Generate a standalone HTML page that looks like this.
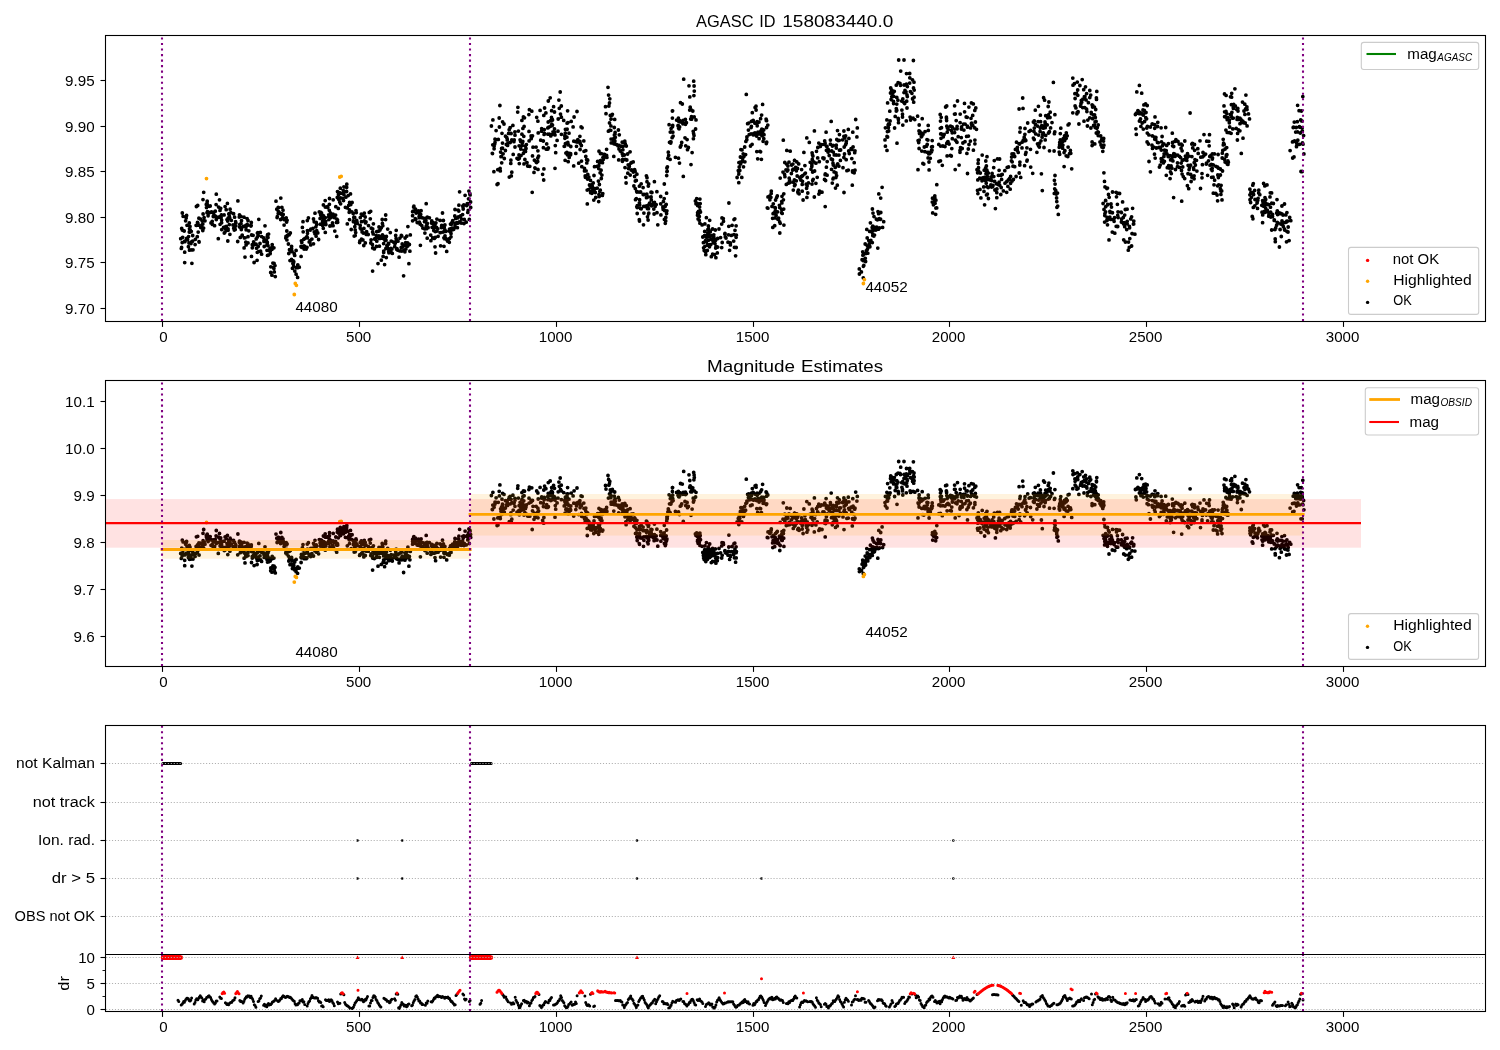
<!DOCTYPE html>
<html lang="en"><head><meta charset="utf-8"><title>AGASC ID 158083440.0</title>
<style>html,body{margin:0;padding:0;background:#fff;width:1500px;height:1050px;overflow:hidden}svg{display:block;will-change:transform}text{font-family:"Liberation Sans",sans-serif}</style></head>
<body>
<svg width="1500" height="1050" viewBox="0 0 1500 1050" font-family='"Liberation Sans", sans-serif' fill="#000">
<rect width="1500" height="1050" fill="#fff"/>
<g id="p1">
<path d="M180.7 238.7h0M181.3 248.4h0M181.6 247.5h0M181.7 228.5h0M182.2 242.6h0M182.3 213.0h0M182.3 230.1h0M182.7 237.3h0M183.1 216.3h0M184.2 231.0h0M184.7 252.2h0M184.7 262.6h0M184.7 241.1h0M184.9 241.7h0M185.6 220.8h0M186.2 217.9h0M186.6 215.5h0M186.6 238.3h0M187.0 225.3h0M187.6 239.7h0M188.4 246.7h0M188.6 236.6h0M189.0 242.9h0M189.3 222.9h0M189.3 232.0h0M189.5 250.2h0M189.5 228.8h0M189.7 250.0h0M190.0 226.4h0M190.1 232.1h0M190.2 230.0h0M191.0 243.6h0M191.1 249.9h0M191.3 231.3h0M191.5 241.8h0M191.9 263.3h0M192.6 241.2h0M192.7 235.5h0M193.0 249.8h0M195.1 244.6h0M195.4 239.3h0M196.1 225.3h0M196.4 206.5h0M196.6 225.3h0M197.3 236.7h0M197.5 222.4h0M197.7 205.5h0M197.9 223.1h0M198.2 232.1h0M198.7 225.2h0M198.9 218.2h0M199.0 241.6h0M199.1 242.0h0M200.3 218.9h0M200.8 227.6h0M202.1 220.8h0M202.1 224.8h0M202.8 230.6h0M202.8 223.9h0M203.0 199.6h0M203.1 214.0h0M203.6 228.1h0M203.7 192.3h0M204.0 217.8h0M204.1 217.6h0M205.0 220.8h0M206.3 204.4h0M206.5 207.5h0M207.0 212.7h0M207.1 203.0h0M207.2 201.2h0M207.2 204.3h0M207.5 211.7h0M208.1 215.8h0M208.8 212.3h0M208.8 213.2h0M209.2 206.3h0M210.2 206.0h0M211.0 222.9h0M211.1 212.2h0M211.5 212.0h0M212.2 221.3h0M212.2 224.0h0M212.4 224.4h0M213.3 216.6h0M213.4 212.4h0M213.5 215.5h0M213.8 214.5h0M214.6 225.7h0M214.7 215.6h0M215.3 211.2h0M215.9 216.4h0M216.1 204.6h0M216.3 219.5h0M216.3 194.2h0M217.1 217.8h0M218.3 238.7h0M218.6 207.1h0M219.3 217.0h0M219.5 199.8h0M220.0 210.4h0M220.1 224.3h0M220.7 208.3h0M221.1 217.8h0M221.4 215.0h0M221.5 214.9h0M221.6 220.1h0M221.6 222.8h0M221.7 229.6h0M223.6 227.3h0M224.1 214.9h0M224.3 233.1h0M225.0 232.0h0M225.1 206.6h0M225.2 226.9h0M225.4 228.4h0M226.1 230.2h0M226.2 226.4h0M226.2 209.7h0M227.0 219.6h0M227.4 203.4h0M227.7 221.0h0M227.8 241.0h0M228.1 228.9h0M228.1 230.3h0M228.1 218.1h0M228.8 213.9h0M229.1 213.7h0M229.3 224.6h0M229.4 216.3h0M229.8 218.1h0M229.9 234.3h0M230.1 209.2h0M230.9 212.7h0M231.4 220.3h0M233.0 225.1h0M233.1 224.9h0M233.6 213.7h0M233.7 228.3h0M234.2 225.6h0M234.3 230.1h0M234.6 217.2h0M234.6 229.3h0M235.2 229.5h0M235.6 221.7h0M235.8 225.9h0M235.9 222.9h0M237.7 241.5h0M237.9 200.9h0M239.3 217.0h0M239.5 214.8h0M239.7 227.0h0M239.8 224.4h0M240.2 227.1h0M240.3 237.4h0M240.9 216.4h0M241.0 223.6h0M241.3 229.5h0M241.5 220.7h0M242.2 235.5h0M242.2 235.1h0M243.5 226.5h0M244.0 217.2h0M244.1 247.9h0M244.4 237.9h0M245.0 237.8h0M245.0 257.1h0M245.8 242.2h0M245.8 225.5h0M245.9 227.2h0M246.1 244.9h0M246.1 229.8h0M247.1 218.6h0M247.1 224.7h0M247.2 224.5h0M247.9 225.2h0M248.0 242.9h0M248.0 236.7h0M248.0 220.5h0M248.8 230.8h0M251.0 226.1h0M251.2 225.4h0M251.3 222.4h0M251.5 256.4h0M251.6 235.0h0M252.3 244.7h0M252.3 247.8h0M253.1 235.3h0M253.3 244.9h0M253.4 245.0h0M253.6 241.9h0M254.1 262.5h0M256.1 244.2h0M256.2 238.9h0M256.6 248.2h0M257.1 260.3h0M257.3 252.3h0M257.4 237.0h0M257.4 233.1h0M257.8 232.6h0M258.2 235.6h0M258.2 246.6h0M258.6 251.6h0M258.8 219.3h0M260.0 243.5h0M260.3 232.4h0M260.6 251.2h0M261.6 254.2h0M261.6 236.6h0M263.7 237.9h0M264.0 240.4h0M264.0 241.4h0M264.2 246.5h0M265.0 225.8h0M265.5 240.0h0M266.3 240.5h0M267.0 244.9h0M267.0 250.3h0M267.2 243.3h0M267.3 236.4h0M267.3 242.2h0M267.5 255.4h0M267.6 234.7h0M268.0 245.7h0M268.0 237.5h0M268.4 255.1h0M268.6 234.1h0M269.9 248.9h0M270.2 251.5h0M270.2 253.6h0M270.7 272.5h0M270.8 266.8h0M271.2 247.8h0M271.9 275.2h0M272.0 249.3h0M272.2 244.7h0M272.2 247.7h0M272.9 263.1h0M273.4 267.5h0M273.9 247.8h0M273.9 268.5h0M274.1 263.4h0M274.3 271.9h0M275.0 265.6h0M275.3 276.6h0M276.0 201.2h0M276.8 209.2h0M277.1 217.6h0M277.3 216.7h0M278.2 213.6h0M278.2 207.4h0M278.3 211.3h0M278.6 207.6h0M279.0 212.1h0M280.5 213.7h0M280.6 219.5h0M280.8 198.1h0M281.6 213.7h0M281.7 214.4h0M281.9 207.3h0M282.7 217.6h0M283.0 210.2h0M283.2 214.4h0M283.8 219.0h0M284.0 219.6h0M284.1 225.1h0M285.8 237.9h0M286.0 236.3h0M286.2 217.8h0M286.5 221.8h0M286.6 222.0h0M286.8 231.0h0M286.9 239.9h0M287.1 236.3h0M287.1 220.3h0M287.4 235.3h0M288.4 244.0h0M288.6 234.6h0M288.8 253.5h0M289.2 234.8h0M289.5 249.7h0M290.0 260.6h0M290.3 233.0h0M291.4 251.5h0M291.5 259.4h0M291.6 246.5h0M291.6 248.8h0M292.0 251.4h0M292.4 268.3h0M292.5 260.6h0M292.9 263.6h0M293.1 260.7h0M293.2 262.6h0M293.4 263.2h0M293.6 266.2h0M293.8 261.7h0M294.2 253.7h0M294.7 255.4h0M294.8 271.1h0M296.1 274.2h0M296.1 267.6h0M296.1 250.4h0M297.6 277.4h0M297.7 267.7h0M297.8 264.8h0M299.3 267.2h0M301.0 246.4h0M301.1 256.4h0M301.4 240.8h0M301.4 247.2h0M301.7 247.3h0M301.8 242.4h0M302.4 227.4h0M302.9 246.7h0M303.0 221.7h0M303.2 231.8h0M303.7 239.3h0M304.0 245.8h0M304.1 249.1h0M304.4 248.5h0M304.7 246.3h0M304.9 238.5h0M306.2 249.1h0M306.9 236.6h0M307.0 247.3h0M307.3 220.6h0M307.4 230.6h0M307.5 233.3h0M307.5 237.8h0M308.4 217.9h0M309.2 241.9h0M309.9 242.3h0M310.0 240.7h0M310.3 230.1h0M310.7 244.9h0M310.8 229.2h0M311.9 239.1h0M313.0 228.3h0M313.5 219.0h0M313.5 243.8h0M314.2 221.8h0M314.3 231.9h0M314.9 233.7h0M315.0 213.2h0M315.9 226.8h0M316.1 236.2h0M316.2 222.3h0M316.7 230.7h0M316.7 224.5h0M317.8 232.9h0M318.6 239.5h0M319.3 211.9h0M320.1 218.4h0M320.4 224.2h0M320.6 214.7h0M321.0 212.4h0M321.1 216.7h0M321.5 217.0h0M321.6 213.3h0M322.6 221.2h0M322.7 225.4h0M323.2 224.4h0M323.3 223.6h0M323.3 228.3h0M323.4 204.9h0M323.6 216.0h0M323.8 218.7h0M323.8 221.7h0M325.2 200.6h0M325.3 232.4h0M325.3 207.1h0M325.3 217.6h0M325.7 221.5h0M325.9 224.5h0M327.4 206.7h0M327.8 207.5h0M328.7 214.8h0M328.8 216.7h0M328.9 219.6h0M329.3 210.3h0M329.4 204.3h0M329.5 198.5h0M329.9 226.0h0M330.4 213.0h0M331.1 217.5h0M331.2 216.1h0M331.3 215.1h0M332.1 225.5h0M332.5 223.0h0M333.0 214.1h0M333.1 225.7h0M333.2 199.8h0M333.8 215.8h0M334.6 217.7h0M334.8 231.1h0M335.6 215.1h0M335.8 206.7h0M336.5 222.4h0M336.7 236.4h0M336.8 219.1h0M337.3 220.6h0M337.5 219.8h0M337.7 222.3h0M337.3 197.4h0M337.5 191.6h0M338.3 208.4h0M338.5 199.0h0M338.5 194.5h0M338.5 192.9h0M339.0 199.4h0M339.5 192.6h0M339.7 197.9h0M339.7 202.0h0M340.3 188.2h0M340.5 193.4h0M340.5 197.8h0M340.6 203.8h0M342.7 198.3h0M343.3 190.7h0M343.5 200.5h0M343.6 191.0h0M343.7 191.9h0M343.9 194.5h0M343.9 186.8h0M345.4 207.3h0M345.9 197.2h0M346.6 191.5h0M346.7 187.3h0M346.8 184.2h0M347.3 223.9h0M347.3 207.9h0M348.2 195.6h0M348.7 205.3h0M349.2 212.3h0M349.3 212.2h0M349.4 209.8h0M349.5 219.6h0M349.6 202.4h0M350.5 193.9h0M350.8 204.6h0M351.1 202.9h0M351.2 229.5h0M351.9 211.8h0M352.1 202.4h0M353.2 213.5h0M353.4 221.7h0M353.4 220.9h0M353.8 217.5h0M353.9 217.3h0M354.2 236.1h0M354.7 217.3h0M354.8 226.7h0M355.2 235.6h0M355.2 229.9h0M355.6 223.6h0M355.7 232.6h0M356.0 210.6h0M356.3 212.6h0M356.7 220.4h0M357.0 222.1h0M357.3 223.4h0M359.6 242.6h0M359.9 241.0h0M360.2 225.5h0M360.2 228.1h0M360.3 217.6h0M361.0 229.1h0M361.3 214.2h0M361.5 239.2h0M361.5 221.7h0M362.1 231.9h0M362.6 215.2h0M362.9 239.9h0M363.3 233.0h0M363.8 245.5h0M363.9 228.4h0M364.3 213.2h0M364.4 220.9h0M365.2 217.0h0M365.3 242.9h0M365.5 222.9h0M366.0 222.0h0M366.3 234.4h0M366.6 231.6h0M368.2 234.5h0M368.5 225.6h0M369.3 212.4h0M370.3 218.8h0M370.7 211.3h0M370.8 243.0h0M371.1 239.8h0M371.3 228.2h0M372.4 244.5h0M372.6 271.1h0M372.6 232.1h0M372.7 247.9h0M372.7 228.9h0M373.2 233.9h0M373.4 223.8h0M374.3 248.9h0M374.6 239.0h0M376.2 238.1h0M376.3 235.6h0M376.4 246.5h0M376.7 231.7h0M376.8 241.2h0M378.0 263.6h0M378.8 236.0h0M378.9 231.0h0M379.0 227.0h0M379.4 246.2h0M379.4 238.4h0M380.0 230.0h0M380.3 229.3h0M380.4 238.3h0M381.3 227.7h0M381.3 260.2h0M381.6 236.3h0M381.7 236.5h0M382.0 237.4h0M382.2 219.5h0M382.4 223.4h0M382.5 234.8h0M382.6 238.3h0M382.8 225.7h0M383.1 256.4h0M383.6 243.6h0M383.7 252.4h0M383.7 251.1h0M383.8 236.5h0M384.6 264.6h0M385.0 240.5h0M385.6 219.6h0M385.7 215.0h0M385.7 239.4h0M385.9 248.5h0M386.0 240.2h0M386.3 257.6h0M386.4 236.4h0M386.9 245.6h0M387.4 247.5h0M387.7 229.1h0M388.3 243.3h0M388.7 244.0h0M388.7 251.6h0M388.9 252.8h0M389.0 250.5h0M390.3 232.6h0M390.9 248.4h0M391.0 251.9h0M391.2 241.1h0M391.4 248.6h0M391.9 249.0h0M392.3 253.4h0M393.7 242.2h0M394.7 246.6h0M395.0 243.8h0M395.5 242.5h0M395.7 235.5h0M396.1 238.5h0M396.2 230.3h0M396.5 240.0h0M396.6 249.2h0M397.0 248.6h0M397.6 250.1h0M398.0 241.2h0M399.1 257.2h0M399.9 238.1h0M399.9 250.9h0M401.2 247.5h0M401.3 235.5h0M401.7 236.0h0M401.8 251.1h0M402.2 243.9h0M402.7 246.4h0M403.6 275.8h0M404.1 249.9h0M404.7 245.4h0M404.9 251.8h0M405.1 238.0h0M405.7 242.6h0M405.9 249.1h0M406.7 236.2h0M407.1 244.5h0M407.6 243.0h0M407.7 246.1h0M407.9 226.6h0M408.9 263.7h0M409.4 244.5h0M409.9 251.2h0M410.3 234.9h0M412.6 215.7h0M412.6 220.8h0M412.6 211.7h0M413.2 211.2h0M413.6 207.1h0M413.9 206.2h0M415.3 218.7h0M415.5 209.1h0M415.8 219.6h0M416.1 213.1h0M416.7 212.3h0M417.2 222.6h0M418.2 222.7h0M418.5 210.8h0M419.1 216.6h0M419.2 217.7h0M419.4 222.2h0M419.4 213.2h0M419.5 215.3h0M419.9 217.6h0M420.2 224.2h0M420.2 223.9h0M420.4 245.3h0M420.7 214.5h0M421.1 210.7h0M421.4 217.5h0M421.8 225.6h0M422.8 228.1h0M423.4 218.1h0M424.5 221.7h0M424.9 228.9h0M424.9 233.1h0M425.9 220.5h0M426.2 226.2h0M426.2 203.7h0M426.5 217.8h0M426.6 228.7h0M426.9 225.4h0M426.9 224.1h0M427.2 238.2h0M427.3 223.5h0M427.3 217.2h0M427.9 227.6h0M428.1 227.7h0M429.4 217.8h0M430.7 235.1h0M430.9 240.7h0M431.5 223.0h0M431.8 221.0h0M432.1 227.3h0M432.7 237.9h0M433.4 224.1h0M433.7 223.0h0M433.7 224.0h0M433.8 230.6h0M433.8 230.4h0M434.0 227.5h0M434.3 238.4h0M435.0 246.8h0M435.0 224.8h0M435.2 237.5h0M435.3 231.6h0M435.6 253.0h0M435.9 222.8h0M436.5 227.3h0M436.9 231.0h0M436.9 219.1h0M437.7 228.9h0M438.1 236.3h0M440.1 220.4h0M440.2 232.7h0M440.6 245.8h0M441.4 227.6h0M441.7 225.4h0M442.5 213.0h0M442.9 232.1h0M443.4 220.5h0M443.9 237.8h0M444.0 246.3h0M444.1 237.9h0M444.2 227.4h0M444.4 238.7h0M444.8 230.2h0M444.9 225.0h0M445.0 230.0h0M445.0 235.8h0M445.7 231.4h0M445.9 238.4h0M446.7 251.4h0M446.8 239.5h0M447.5 241.0h0M449.1 230.9h0M449.3 242.3h0M449.3 231.2h0M449.5 238.6h0M449.5 229.1h0M450.5 224.1h0M450.7 231.0h0M451.0 233.4h0M451.0 236.8h0M451.1 228.6h0M451.2 224.4h0M451.6 222.9h0M452.4 228.2h0M452.7 220.6h0M452.8 221.9h0M453.1 229.6h0M453.7 229.3h0M454.3 228.0h0M454.8 216.0h0M455.0 209.5h0M455.0 225.1h0M455.3 223.4h0M455.7 218.4h0M456.7 222.6h0M457.4 227.7h0M457.6 217.9h0M457.8 223.2h0M458.2 210.2h0M458.4 216.9h0M458.8 211.0h0M458.9 205.2h0M459.3 221.9h0M459.6 191.8h0M460.6 216.0h0M461.2 223.0h0M461.6 219.1h0M462.6 214.6h0M462.8 205.9h0M463.0 207.0h0M463.2 209.0h0M463.8 204.8h0M464.0 223.5h0M464.3 219.4h0M465.1 195.3h0M466.2 222.2h0M466.7 205.6h0M467.0 205.1h0M467.3 203.6h0M467.8 212.4h0M468.2 210.3h0M468.5 198.8h0M468.6 203.9h0M468.9 191.1h0M469.3 219.4h0M469.8 194.0h0M469.9 193.6h0M470.1 194.9h0M470.6 202.0h0M470.7 207.5h0M491.4 126.0h0M492.3 153.3h0M492.5 153.6h0M492.8 144.8h0M492.9 119.9h0M493.9 171.7h0M494.1 146.2h0M494.1 148.8h0M494.7 144.0h0M495.0 139.2h0M495.0 142.4h0M496.1 130.6h0M496.1 139.6h0M497.1 184.5h0M497.8 169.7h0M498.0 183.7h0M498.3 139.4h0M499.2 118.0h0M499.4 127.0h0M499.9 105.5h0M500.1 168.5h0M500.3 170.9h0M500.6 152.1h0M501.0 156.7h0M501.4 156.6h0M501.6 148.5h0M501.7 162.8h0M502.0 133.3h0M502.5 143.1h0M502.5 148.1h0M502.6 121.8h0M503.1 153.8h0M504.0 124.0h0M504.3 158.5h0M505.4 150.5h0M505.5 136.2h0M506.3 144.5h0M506.7 137.4h0M507.2 138.9h0M507.2 140.0h0M507.6 145.4h0M507.6 143.7h0M508.6 133.4h0M509.2 129.7h0M509.3 177.1h0M510.1 127.7h0M510.2 142.5h0M510.8 163.4h0M510.9 160.2h0M511.1 133.5h0M511.3 175.9h0M511.8 172.2h0M511.8 139.8h0M512.9 125.4h0M513.2 154.4h0M513.9 141.7h0M514.2 140.0h0M514.9 131.9h0M515.0 135.2h0M515.0 147.0h0M517.0 158.3h0M517.7 112.1h0M517.9 107.3h0M518.2 159.2h0M518.4 131.1h0M519.0 154.9h0M519.1 145.8h0M519.3 163.6h0M519.3 158.3h0M520.1 139.8h0M520.7 141.6h0M520.8 149.0h0M521.0 155.6h0M521.9 134.2h0M521.9 120.4h0M522.1 145.5h0M522.4 143.2h0M522.8 141.5h0M522.9 128.4h0M523.4 153.3h0M523.4 117.0h0M523.8 136.3h0M524.0 163.9h0M524.1 126.5h0M524.1 150.3h0M524.2 150.8h0M524.5 150.5h0M524.5 117.8h0M524.9 159.5h0M525.4 146.0h0M525.5 151.4h0M526.0 148.5h0M526.4 144.6h0M527.0 162.6h0M527.7 166.0h0M528.9 114.6h0M529.0 131.4h0M529.1 140.9h0M529.4 109.7h0M529.8 166.3h0M531.1 135.9h0M531.2 138.7h0M531.4 137.5h0M531.8 111.2h0M532.2 192.3h0M532.5 135.8h0M532.5 155.9h0M533.0 147.2h0M534.0 172.4h0M534.4 160.2h0M534.9 167.8h0M535.2 168.3h0M536.0 161.8h0M536.1 147.1h0M536.6 162.6h0M536.7 117.3h0M537.7 161.5h0M537.8 158.0h0M537.9 150.8h0M537.9 121.2h0M538.0 169.4h0M538.2 132.9h0M538.6 156.1h0M540.1 110.4h0M540.7 140.2h0M541.5 131.2h0M541.7 128.6h0M541.8 130.6h0M542.6 174.3h0M543.3 141.0h0M543.4 147.7h0M543.7 180.0h0M543.8 115.4h0M543.9 168.9h0M544.1 134.4h0M544.3 129.6h0M544.4 133.5h0M544.6 108.0h0M545.9 112.9h0M546.3 149.2h0M546.7 143.9h0M547.8 127.9h0M547.9 149.0h0M547.9 134.2h0M548.2 122.0h0M548.3 101.0h0M548.4 147.9h0M548.8 127.2h0M549.3 134.1h0M550.2 97.8h0M550.5 120.6h0M550.8 135.9h0M550.9 126.1h0M551.5 117.5h0M551.6 110.7h0M551.7 134.6h0M551.8 124.2h0M552.0 124.8h0M552.1 125.7h0M552.3 119.3h0M552.5 125.1h0M552.5 120.0h0M553.0 131.8h0M553.6 106.7h0M554.5 112.0h0M554.5 132.4h0M554.5 128.9h0M555.0 134.9h0M555.0 168.3h0M555.3 145.6h0M555.7 152.7h0M557.1 140.4h0M558.0 131.2h0M558.2 119.0h0M558.9 100.1h0M559.3 108.3h0M560.2 92.0h0M560.5 114.1h0M561.3 106.0h0M561.4 117.2h0M561.4 134.3h0M563.7 120.4h0M564.2 146.3h0M564.6 146.2h0M564.8 135.9h0M564.9 138.3h0M564.9 135.7h0M565.1 160.3h0M565.3 133.1h0M565.4 129.3h0M565.4 143.6h0M565.9 153.1h0M566.4 143.3h0M566.9 137.2h0M566.9 152.3h0M567.1 129.3h0M567.1 129.1h0M567.1 123.2h0M567.4 154.8h0M567.6 110.8h0M567.8 122.7h0M567.8 142.5h0M568.2 144.6h0M568.2 161.7h0M568.5 144.9h0M569.0 133.2h0M569.2 157.4h0M569.3 153.3h0M570.6 154.8h0M570.6 153.6h0M570.8 146.5h0M571.2 121.4h0M573.1 126.9h0M573.7 165.9h0M573.8 141.2h0M574.1 117.0h0M575.8 141.7h0M575.8 153.4h0M576.5 146.3h0M576.6 141.4h0M577.0 111.5h0M577.1 142.1h0M577.8 139.7h0M578.7 163.2h0M579.8 142.0h0M579.9 141.3h0M579.9 136.3h0M580.1 149.5h0M580.3 143.5h0M581.1 126.9h0M581.4 145.5h0M581.5 161.1h0M581.8 166.7h0M582.1 127.8h0M583.8 140.9h0M584.0 151.3h0M584.5 168.4h0M584.5 170.9h0M585.2 175.9h0M585.4 177.3h0M585.8 156.4h0M585.8 150.6h0M586.1 170.8h0M586.6 159.6h0M586.8 162.9h0M587.2 159.6h0M587.7 160.2h0M587.2 190.1h0M587.3 203.9h0M587.6 179.0h0M587.8 174.4h0M588.4 189.7h0M588.9 177.1h0M589.5 185.0h0M590.2 186.0h0M590.5 180.3h0M590.6 192.7h0M590.9 191.6h0M591.1 187.7h0M591.6 191.3h0M591.9 193.3h0M592.2 184.2h0M592.2 191.2h0M592.3 187.6h0M592.4 186.5h0M593.2 182.9h0M593.8 200.1h0M593.8 189.1h0M594.0 175.5h0M594.0 190.4h0M594.5 166.7h0M595.0 188.6h0M595.3 192.5h0M595.7 197.5h0M597.2 188.1h0M598.4 181.1h0M598.7 201.6h0M598.9 194.6h0M599.2 196.6h0M599.4 184.5h0M599.8 191.4h0M600.1 172.8h0M600.3 190.2h0M601.1 170.2h0M601.3 178.5h0M601.9 175.1h0M602.4 195.4h0M602.8 193.6h0M597.0 166.3h0M597.6 161.4h0M598.7 168.5h0M598.7 165.8h0M598.8 165.7h0M599.0 161.5h0M599.0 151.2h0M599.5 162.7h0M600.0 162.5h0M600.3 160.7h0M600.4 153.6h0M600.5 160.7h0M600.8 161.0h0M601.3 153.6h0M602.5 162.7h0M602.9 157.6h0M603.2 158.1h0M603.4 159.3h0M603.8 154.5h0M604.5 154.3h0M605.6 155.8h0M605.8 156.9h0M606.4 156.7h0M606.6 149.3h0M606.6 155.5h0M606.9 157.4h0M605.5 106.7h0M606.0 113.7h0M608.0 87.3h0M608.4 131.2h0M608.6 95.1h0M608.9 106.0h0M609.5 122.9h0M609.5 103.0h0M609.8 98.8h0M610.1 130.1h0M610.3 115.4h0M610.8 130.3h0M610.9 125.9h0M611.0 119.2h0M611.1 139.1h0M611.1 118.9h0M611.2 142.9h0M611.9 115.2h0M612.4 114.3h0M613.2 139.0h0M613.8 140.7h0M613.8 156.4h0M614.0 143.8h0M614.0 138.3h0M614.3 127.5h0M614.4 134.9h0M614.7 119.4h0M614.9 141.0h0M615.0 134.2h0M615.1 132.5h0M615.3 137.3h0M616.2 144.4h0M617.9 145.7h0M618.4 130.0h0M618.7 159.9h0M618.9 145.3h0M619.0 148.9h0M619.0 145.3h0M619.3 134.8h0M620.3 151.1h0M621.6 146.2h0M622.2 142.2h0M622.3 153.7h0M622.4 161.3h0M622.5 159.7h0M622.8 155.5h0M622.9 146.4h0M622.9 149.8h0M624.3 155.0h0M624.8 141.2h0M625.0 167.6h0M625.1 159.5h0M625.2 143.7h0M625.8 177.3h0M626.1 183.0h0M626.3 146.0h0M626.8 160.0h0M627.6 154.0h0M627.8 173.2h0M628.2 164.8h0M628.5 168.6h0M629.2 165.4h0M629.3 166.5h0M630.1 151.8h0M630.2 175.1h0M631.0 163.0h0M631.2 170.1h0M631.6 169.9h0M631.8 162.3h0M633.2 161.9h0M633.3 172.1h0M633.9 186.0h0M634.6 169.6h0M634.6 170.2h0M634.6 176.5h0M635.1 171.2h0M635.3 188.6h0M635.3 181.0h0M635.5 199.7h0M636.3 180.4h0M636.3 198.6h0M636.9 174.2h0M636.7 191.5h0M636.8 206.8h0M636.9 192.0h0M637.2 207.6h0M637.2 213.5h0M637.3 205.7h0M639.1 192.1h0M639.3 219.7h0M639.4 202.8h0M639.4 186.2h0M639.5 221.1h0M639.6 199.7h0M639.7 204.9h0M640.5 208.5h0M640.6 192.0h0M641.2 208.8h0M641.2 183.8h0M643.1 187.6h0M643.2 194.5h0M643.5 224.8h0M643.7 206.4h0M643.9 213.1h0M644.2 194.5h0M645.3 206.4h0M646.4 175.8h0M646.5 197.7h0M646.5 205.8h0M646.8 194.1h0M647.0 177.7h0M647.0 181.7h0M647.4 208.5h0M647.5 216.8h0M648.0 196.9h0M648.1 220.0h0M648.3 186.1h0M648.5 208.7h0M648.6 205.0h0M648.6 213.8h0M648.7 183.9h0M648.8 213.2h0M649.6 203.1h0M651.0 192.2h0M651.1 197.0h0M651.3 199.9h0M651.5 205.8h0M651.6 192.5h0M651.9 192.5h0M652.7 203.9h0M653.6 202.8h0M653.8 209.1h0M654.1 214.0h0M654.4 181.7h0M654.5 202.4h0M655.1 206.4h0M656.2 204.6h0M656.9 191.7h0M657.0 212.7h0M657.8 224.8h0M660.7 203.8h0M660.7 196.5h0M660.9 214.9h0M662.9 206.9h0M663.0 208.1h0M663.2 209.4h0M663.4 201.4h0M664.2 206.9h0M664.2 198.6h0M664.3 184.0h0M664.4 219.4h0M664.6 210.6h0M665.1 206.6h0M665.3 223.3h0M665.3 205.7h0M665.7 220.9h0M665.8 217.4h0M666.2 204.5h0M666.6 193.2h0M666.6 213.6h0M666.9 210.8h0M666.7 175.6h0M666.9 171.6h0M666.9 168.0h0M667.2 171.3h0M667.4 166.8h0M667.9 158.2h0M668.3 152.2h0M668.7 155.3h0M669.1 124.7h0M669.5 142.3h0M670.1 159.4h0M670.2 141.9h0M670.3 132.1h0M670.7 143.0h0M671.0 142.0h0M671.1 128.6h0M672.1 137.7h0M672.4 118.1h0M672.4 111.0h0M672.5 126.7h0M672.6 110.8h0M672.7 125.5h0M672.8 132.2h0M673.1 136.1h0M675.4 157.3h0M676.6 120.1h0M678.0 125.7h0M678.2 125.5h0M678.4 118.2h0M678.5 158.2h0M678.6 121.2h0M678.6 128.2h0M679.1 128.8h0M679.5 163.1h0M679.6 126.9h0M679.8 120.7h0M680.3 147.0h0M680.3 121.9h0M680.5 102.7h0M681.1 145.3h0M681.7 142.4h0M682.3 104.0h0M682.9 123.8h0M683.2 120.3h0M683.2 123.5h0M683.3 176.4h0M683.7 79.2h0M685.0 137.8h0M685.4 119.5h0M685.5 124.3h0M685.7 145.8h0M686.4 122.7h0M687.1 139.6h0M687.5 149.7h0M688.4 147.5h0M689.0 85.8h0M689.7 110.1h0M689.8 96.9h0M690.2 107.2h0M690.7 119.0h0M691.0 164.6h0M691.2 109.8h0M691.5 116.6h0M691.6 119.2h0M692.1 152.6h0M692.8 111.0h0M693.2 131.3h0M693.4 138.7h0M693.6 133.6h0M693.7 81.2h0M693.9 95.6h0M694.0 135.4h0M694.1 86.0h0M694.2 116.9h0M694.3 91.1h0M695.6 129.0h0M696.0 119.9h0M695.4 200.9h0M696.0 203.8h0M696.7 198.6h0M697.2 203.4h0M697.5 215.2h0M697.6 212.7h0M697.6 205.6h0M698.1 219.0h0M698.5 211.3h0M698.9 213.0h0M699.2 220.2h0M699.3 216.4h0M699.5 211.6h0M699.6 207.1h0M699.9 223.2h0M699.9 199.1h0M699.9 210.7h0M700.2 203.6h0M700.5 212.1h0M702.1 224.9h0M702.8 237.0h0M703.4 242.7h0M703.6 247.8h0M704.2 250.5h0M704.5 235.7h0M704.7 246.6h0M704.7 231.4h0M704.9 223.9h0M705.5 240.7h0M705.6 252.2h0M705.8 254.7h0M706.3 237.2h0M706.4 217.7h0M706.5 241.7h0M706.8 235.4h0M707.2 245.2h0M707.3 250.4h0M707.7 232.6h0M707.9 229.4h0M707.9 233.1h0M708.3 229.7h0M708.4 226.0h0M708.5 240.2h0M708.5 229.0h0M708.6 234.3h0M708.7 233.7h0M709.1 230.4h0M709.2 244.6h0M709.3 232.0h0M709.5 236.5h0M709.5 246.8h0M709.6 235.7h0M709.7 220.3h0M710.1 231.8h0M710.3 231.8h0M710.8 244.6h0M711.3 256.7h0M711.6 239.5h0M711.7 235.6h0M712.6 254.2h0M712.6 229.0h0M712.9 240.6h0M713.2 242.6h0M713.7 236.4h0M713.8 234.8h0M714.4 239.1h0M714.5 254.7h0M715.0 243.6h0M715.3 230.0h0M715.6 240.3h0M715.7 248.1h0M715.9 257.7h0M716.0 246.3h0M716.2 239.1h0M717.3 252.9h0M717.7 247.1h0M717.7 238.5h0M719.0 229.0h0M720.6 237.6h0M721.7 247.6h0M721.7 224.1h0M722.0 217.9h0M722.2 242.5h0M723.3 218.6h0M723.5 221.3h0M724.8 233.9h0M725.0 233.5h0M725.3 236.9h0M726.0 238.1h0M728.0 242.2h0M728.5 234.8h0M728.8 226.3h0M728.9 203.0h0M729.6 250.3h0M730.4 244.9h0M730.4 243.0h0M731.3 235.4h0M732.1 225.3h0M733.7 241.1h0M733.9 234.6h0M734.0 219.6h0M734.4 247.3h0M734.8 218.8h0M735.0 230.3h0M735.6 255.8h0M736.1 225.8h0M736.1 237.3h0M736.2 247.5h0M736.4 235.2h0M737.1 177.5h0M738.3 170.6h0M738.7 171.6h0M738.8 182.7h0M738.8 174.1h0M738.9 162.6h0M739.2 166.9h0M739.8 170.5h0M740.4 157.0h0M740.4 162.2h0M740.6 163.9h0M740.9 149.6h0M741.8 177.4h0M742.0 149.9h0M742.4 161.5h0M742.7 158.6h0M743.2 153.8h0M743.5 166.8h0M743.9 156.6h0M744.7 147.0h0M744.9 161.8h0M745.6 154.6h0M745.9 141.4h0M746.3 94.4h0M746.8 139.7h0M746.9 137.0h0M747.6 123.7h0M748.4 130.1h0M748.6 123.1h0M749.2 134.6h0M750.5 146.0h0M751.1 133.8h0M751.1 127.5h0M751.4 121.4h0M751.4 126.5h0M752.0 121.3h0M752.1 144.3h0M752.3 112.7h0M753.2 120.3h0M753.4 134.9h0M753.7 134.8h0M753.9 133.5h0M754.9 123.2h0M755.0 133.0h0M755.1 107.5h0M756.0 106.2h0M756.1 110.0h0M756.6 136.1h0M756.8 151.6h0M757.0 123.5h0M757.1 121.6h0M757.2 125.8h0M757.7 158.8h0M757.9 133.9h0M758.0 132.2h0M759.0 122.1h0M759.1 138.7h0M760.0 151.4h0M760.6 134.2h0M760.6 118.7h0M760.6 151.8h0M760.9 131.0h0M761.4 159.3h0M761.6 115.1h0M761.8 129.2h0M761.9 135.7h0M762.6 104.4h0M762.8 133.2h0M763.1 141.3h0M763.7 129.9h0M763.8 138.7h0M764.0 134.7h0M766.1 119.1h0M766.3 143.5h0M766.3 120.5h0M766.6 127.5h0M766.6 120.7h0M766.7 142.2h0M767.8 125.1h0M767.3 207.8h0M767.9 208.2h0M768.0 196.9h0M769.9 196.0h0M769.9 199.8h0M770.9 197.3h0M771.2 193.4h0M771.3 191.1h0M772.0 206.4h0M772.6 218.3h0M772.8 227.4h0M773.1 213.7h0M773.3 203.8h0M774.2 212.7h0M774.7 225.7h0M775.1 207.7h0M775.1 217.9h0M775.3 210.9h0M775.3 207.9h0M775.6 200.0h0M776.1 215.2h0M776.6 197.6h0M777.3 196.0h0M777.6 211.8h0M777.9 219.3h0M778.5 219.1h0M778.6 218.2h0M779.4 205.3h0M779.7 207.5h0M779.7 222.0h0M779.8 233.0h0M780.2 178.1h0M780.2 223.3h0M781.6 212.7h0M781.7 209.5h0M781.7 201.6h0M781.9 202.9h0M782.0 196.3h0M782.2 213.4h0M783.4 199.8h0M783.7 209.1h0M783.8 193.8h0M783.9 225.1h0M783.0 172.1h0M783.3 140.2h0M784.6 174.4h0M784.8 162.5h0M784.9 176.7h0M786.0 169.8h0M786.3 184.4h0M786.6 164.1h0M786.8 150.4h0M787.1 171.0h0M787.9 166.0h0M787.9 170.0h0M788.3 183.2h0M789.0 162.1h0M789.2 178.2h0M789.6 180.5h0M789.9 182.5h0M790.2 151.2h0M791.4 173.5h0M791.6 165.0h0M792.6 170.0h0M792.9 164.1h0M793.2 169.2h0M793.2 182.2h0M793.3 190.1h0M794.4 180.0h0M794.5 160.4h0M794.5 185.7h0M794.6 160.4h0M794.7 169.2h0M795.1 184.7h0M795.7 167.3h0M796.3 180.8h0M796.4 170.8h0M796.8 161.9h0M797.2 176.0h0M797.5 168.4h0M797.8 192.0h0M798.1 192.9h0M798.4 190.2h0M798.7 163.9h0M799.1 193.8h0M799.9 177.9h0M800.8 180.1h0M800.8 177.0h0M801.6 169.6h0M801.6 176.5h0M802.2 184.4h0M802.2 191.2h0M802.5 181.3h0M802.6 175.7h0M803.1 200.0h0M803.9 152.4h0M804.7 173.8h0M804.9 165.6h0M805.4 173.1h0M806.2 184.2h0M806.6 188.3h0M806.8 137.9h0M806.9 197.4h0M807.1 186.1h0M807.1 185.8h0M807.2 177.5h0M807.8 193.0h0M808.5 182.9h0M809.3 142.4h0M810.2 162.3h0M811.0 169.2h0M811.8 166.6h0M811.9 165.0h0M812.0 184.1h0M812.1 152.8h0M812.3 159.3h0M812.4 154.8h0M812.6 172.1h0M812.7 180.5h0M812.9 156.0h0M813.2 179.3h0M813.8 161.9h0M814.3 197.0h0M814.4 130.9h0M814.6 171.0h0M815.9 183.3h0M815.9 163.2h0M816.5 151.3h0M817.2 177.3h0M817.7 157.9h0M817.8 147.5h0M818.8 143.1h0M818.9 194.0h0M819.3 161.7h0M819.6 191.2h0M820.3 146.4h0M821.6 144.6h0M822.0 192.2h0M822.9 158.0h0M823.9 158.8h0M824.0 158.1h0M824.0 144.3h0M824.5 179.4h0M824.7 140.9h0M825.1 174.7h0M825.1 143.2h0M825.2 206.6h0M825.3 173.9h0M825.6 180.5h0M826.1 132.2h0M826.4 167.2h0M826.4 150.3h0M826.5 146.2h0M827.0 146.5h0M827.1 175.2h0M827.2 161.6h0M828.0 152.1h0M828.2 150.2h0M828.2 149.5h0M828.7 151.2h0M829.2 155.5h0M830.4 140.1h0M830.4 144.2h0M831.2 121.4h0M831.2 159.0h0M831.5 169.3h0M831.7 151.0h0M832.3 183.1h0M832.4 146.1h0M832.5 159.7h0M833.0 178.9h0M833.0 163.2h0M833.1 145.4h0M833.3 165.1h0M833.3 152.1h0M833.4 178.1h0M834.1 171.9h0M834.3 154.9h0M835.2 167.4h0M835.5 188.1h0M835.9 177.6h0M836.0 173.0h0M836.2 155.0h0M836.3 148.1h0M836.3 145.2h0M836.6 175.6h0M836.8 139.5h0M837.2 164.8h0M837.3 185.2h0M837.5 130.6h0M837.7 163.8h0M838.1 140.6h0M838.9 155.1h0M838.9 166.2h0M839.1 140.4h0M839.4 134.6h0M839.5 150.2h0M840.4 160.4h0M840.6 150.0h0M842.6 139.8h0M843.0 167.7h0M843.9 136.5h0M843.9 131.0h0M843.9 157.5h0M844.0 192.5h0M844.2 147.0h0M844.5 154.0h0M844.8 137.9h0M845.6 144.7h0M845.6 135.8h0M846.2 159.7h0M846.2 143.3h0M846.3 141.4h0M846.9 170.7h0M848.3 129.4h0M848.3 170.1h0M848.7 151.0h0M848.9 138.4h0M849.3 153.5h0M851.1 148.7h0M851.8 158.6h0M851.8 149.4h0M852.3 185.2h0M852.5 171.0h0M852.6 172.1h0M852.8 132.2h0M853.1 146.9h0M854.2 172.8h0M854.2 162.7h0M854.7 152.7h0M855.0 150.8h0M855.0 170.2h0M855.7 119.5h0M856.9 136.9h0M857.3 127.9h0M859.3 268.9h0M859.4 274.0h0M861.4 271.9h0M862.1 259.7h0M862.7 251.8h0M862.9 255.2h0M863.0 260.5h0M863.1 255.2h0M863.3 277.8h0M863.3 254.7h0M863.4 266.3h0M863.8 265.4h0M863.8 259.5h0M865.2 244.0h0M865.3 258.3h0M865.6 261.5h0M865.9 253.5h0M866.4 250.6h0M866.8 229.4h0M867.2 237.9h0M867.4 245.9h0M867.4 249.3h0M867.8 253.2h0M868.8 240.6h0M869.2 243.9h0M869.7 231.4h0M869.8 246.4h0M869.9 246.8h0M870.2 242.4h0M870.4 222.8h0M870.9 240.5h0M872.2 227.4h0M872.3 230.4h0M872.3 242.6h0M872.4 209.0h0M872.7 233.4h0M872.8 235.5h0M872.8 226.1h0M872.8 230.8h0M873.0 213.1h0M873.4 229.2h0M873.6 235.0h0M873.9 236.0h0M874.0 216.6h0M874.5 235.1h0M874.9 227.5h0M875.8 230.0h0M876.4 219.2h0M876.7 227.1h0M877.4 219.8h0M877.8 248.1h0M878.0 211.6h0M878.5 229.2h0M878.6 213.7h0M878.8 193.9h0M879.3 218.7h0M879.5 227.9h0M880.4 219.4h0M880.6 219.2h0M880.7 198.1h0M880.8 212.5h0M882.1 187.3h0M882.6 227.4h0M883.7 221.7h0M885.0 139.9h0M885.4 127.8h0M885.4 146.2h0M886.9 119.9h0M887.0 136.4h0M887.0 150.4h0M887.4 131.6h0M887.6 102.9h0M887.6 137.0h0M888.1 124.9h0M888.4 127.6h0M888.6 123.9h0M888.7 131.0h0M889.5 124.3h0M889.8 111.2h0M890.1 120.9h0M890.5 93.0h0M890.7 88.0h0M891.1 99.5h0M891.6 89.9h0M891.8 96.7h0M892.3 90.7h0M892.9 96.0h0M893.1 92.4h0M893.5 101.4h0M893.6 103.5h0M893.7 96.3h0M894.3 91.3h0M894.6 128.0h0M895.2 116.4h0M896.3 108.6h0M896.3 85.2h0M896.3 111.0h0M896.8 97.4h0M896.8 110.3h0M896.8 104.1h0M897.0 143.2h0M897.9 100.2h0M898.1 82.6h0M898.2 118.3h0M898.4 119.5h0M898.5 122.7h0M898.7 60.0h0M900.0 83.4h0M900.5 85.3h0M900.7 71.1h0M901.7 101.1h0M901.9 110.1h0M902.5 117.1h0M902.5 114.2h0M902.8 98.9h0M902.8 125.1h0M903.9 102.5h0M904.0 60.0h0M904.0 92.6h0M904.1 85.0h0M904.7 103.6h0M905.0 90.4h0M906.0 91.8h0M906.3 120.9h0M906.4 84.2h0M906.5 73.6h0M906.7 101.2h0M907.0 108.0h0M907.0 94.9h0M907.3 96.6h0M907.4 86.6h0M909.7 73.5h0M909.7 83.1h0M909.8 77.8h0M910.1 117.1h0M910.4 91.6h0M910.6 120.1h0M911.9 93.3h0M912.5 79.8h0M912.6 98.7h0M912.6 98.9h0M913.1 118.2h0M913.4 60.5h0M913.5 88.0h0M913.7 102.2h0M914.0 82.2h0M914.1 97.2h0M914.2 90.1h0M914.8 119.6h0M917.6 116.2h0M918.0 169.7h0M918.1 140.6h0M918.5 140.4h0M918.7 142.6h0M919.0 130.9h0M919.1 148.5h0M919.2 140.1h0M919.2 125.0h0M919.5 133.6h0M919.8 131.5h0M921.2 133.0h0M921.3 136.8h0M921.8 151.1h0M921.9 136.0h0M922.2 118.7h0M922.9 163.5h0M923.0 134.2h0M923.8 164.1h0M924.3 147.0h0M924.9 151.7h0M925.0 131.7h0M926.5 146.2h0M927.0 139.6h0M927.2 144.4h0M927.5 152.3h0M927.9 140.1h0M928.1 157.9h0M928.2 125.4h0M928.3 130.4h0M928.4 152.3h0M928.8 153.9h0M929.0 162.0h0M929.1 169.9h0M929.9 153.6h0M930.3 158.3h0M931.5 151.8h0M931.5 150.4h0M931.6 146.9h0M932.0 150.2h0M932.2 140.6h0M932.4 146.7h0M932.3 202.1h0M932.5 198.2h0M932.7 212.9h0M933.4 204.8h0M934.8 200.1h0M934.8 196.0h0M934.8 197.7h0M935.1 203.3h0M935.7 214.3h0M935.9 200.2h0M935.9 208.1h0M936.7 207.9h0M936.8 184.7h0M938.8 144.4h0M938.9 161.5h0M940.2 114.5h0M940.3 128.3h0M940.5 160.8h0M940.5 121.1h0M940.6 146.1h0M940.7 133.9h0M941.0 138.3h0M941.2 117.3h0M941.3 134.0h0M941.5 127.7h0M942.3 165.3h0M942.9 146.0h0M943.3 136.8h0M944.1 134.5h0M945.0 146.5h0M945.6 107.0h0M946.4 117.2h0M946.5 118.6h0M946.6 120.6h0M946.7 106.0h0M946.8 143.2h0M946.8 126.2h0M947.1 155.9h0M947.2 132.2h0M947.4 127.9h0M947.7 141.8h0M948.0 141.6h0M948.1 129.2h0M949.1 144.0h0M950.4 155.5h0M950.5 126.1h0M951.3 156.0h0M951.4 130.4h0M951.8 148.6h0M952.2 132.8h0M952.2 127.0h0M952.3 138.7h0M954.5 114.1h0M954.6 105.8h0M954.6 132.6h0M954.8 129.1h0M955.2 114.0h0M955.2 169.6h0M955.5 140.2h0M956.2 120.6h0M956.7 141.9h0M957.0 142.3h0M957.1 126.3h0M957.1 128.8h0M957.5 101.0h0M958.2 136.7h0M959.1 165.1h0M960.0 152.3h0M960.0 150.5h0M960.1 122.6h0M960.2 114.1h0M960.5 147.7h0M961.3 137.6h0M961.4 129.0h0M961.6 127.0h0M962.2 148.5h0M962.9 143.0h0M963.5 124.1h0M963.9 130.1h0M964.5 103.4h0M964.6 111.8h0M965.0 141.7h0M965.1 124.1h0M966.2 117.0h0M966.6 136.4h0M966.9 153.4h0M967.2 117.3h0M967.4 126.1h0M967.5 127.2h0M967.5 173.5h0M968.3 149.0h0M968.4 136.1h0M968.9 107.1h0M969.0 144.5h0M970.4 141.1h0M970.6 127.9h0M971.0 118.3h0M971.4 123.4h0M971.4 102.9h0M971.6 124.5h0M971.7 123.2h0M972.7 115.4h0M972.8 125.4h0M973.3 103.9h0M973.4 150.2h0M974.8 127.9h0M974.8 110.4h0M974.9 143.8h0M974.9 140.1h0M975.4 122.0h0M975.8 107.9h0M976.5 129.3h0M977.0 169.7h0M977.5 190.3h0M977.6 172.8h0M977.8 179.9h0M977.9 193.6h0M978.1 163.4h0M978.3 160.0h0M978.5 167.7h0M978.6 170.9h0M979.7 178.2h0M980.0 189.4h0M980.3 173.0h0M980.9 197.9h0M982.0 180.8h0M982.2 155.1h0M982.7 177.9h0M983.7 186.9h0M984.0 191.4h0M984.2 170.2h0M984.4 177.4h0M984.6 204.8h0M985.3 180.5h0M985.6 168.0h0M985.8 161.0h0M986.0 173.7h0M986.2 183.2h0M986.4 166.0h0M986.5 194.9h0M986.9 170.2h0M987.0 156.7h0M987.1 186.7h0M987.2 179.5h0M987.3 176.4h0M987.4 194.1h0M987.6 172.2h0M988.2 187.5h0M988.3 173.1h0M988.4 198.5h0M989.5 179.5h0M989.6 179.8h0M990.7 186.6h0M990.9 178.7h0M990.9 185.0h0M991.0 177.0h0M991.6 187.1h0M991.7 180.6h0M992.1 173.5h0M992.7 186.6h0M993.0 185.5h0M993.7 167.6h0M993.8 176.6h0M994.3 160.6h0M994.7 181.4h0M994.9 190.0h0M995.4 208.6h0M996.5 183.8h0M996.8 192.7h0M996.8 197.7h0M996.9 189.0h0M997.5 158.8h0M998.4 175.3h0M998.6 184.7h0M998.7 184.2h0M999.1 182.2h0M999.1 170.3h0M999.6 159.0h0M999.7 185.2h0M1000.8 194.5h0M1000.9 175.4h0M1001.2 187.5h0M1001.2 174.8h0M1001.6 179.4h0M1002.2 174.4h0M1003.4 190.9h0M1004.8 170.7h0M1005.0 183.2h0M1006.7 192.3h0M1006.9 181.5h0M1007.2 167.4h0M1007.9 186.4h0M1008.4 179.8h0M1008.5 166.9h0M1008.9 179.8h0M1009.5 178.6h0M1010.2 189.2h0M1010.6 176.5h0M1010.6 183.3h0M1011.4 160.8h0M1011.6 157.1h0M1012.0 153.9h0M1012.1 181.0h0M1012.2 161.8h0M1013.0 166.2h0M1013.4 179.5h0M1013.7 153.9h0M1014.7 156.5h0M1014.7 166.7h0M1015.4 149.4h0M1016.1 176.5h0M1016.5 142.2h0M1017.2 149.4h0M1017.4 150.6h0M1017.4 147.4h0M1018.2 152.4h0M1019.0 143.6h0M1019.1 109.0h0M1019.2 173.0h0M1019.6 144.0h0M1019.8 165.0h0M1019.9 132.1h0M1019.9 162.1h0M1020.2 127.9h0M1020.7 177.4h0M1022.0 147.9h0M1022.1 142.2h0M1022.7 98.0h0M1023.0 108.4h0M1023.3 140.2h0M1024.2 137.2h0M1024.2 137.3h0M1024.2 139.2h0M1024.6 165.7h0M1024.7 140.8h0M1024.8 140.8h0M1024.9 134.3h0M1025.0 128.4h0M1025.5 154.3h0M1025.5 139.8h0M1025.8 140.5h0M1026.0 152.5h0M1026.9 147.8h0M1026.9 161.0h0M1027.2 160.1h0M1027.7 123.0h0M1029.1 131.4h0M1030.5 149.3h0M1030.6 130.4h0M1030.7 167.1h0M1032.7 173.3h0M1033.4 122.0h0M1033.4 138.1h0M1034.0 131.5h0M1034.2 139.5h0M1034.3 128.1h0M1034.3 121.0h0M1035.3 110.2h0M1035.4 124.5h0M1035.7 133.9h0M1036.9 152.3h0M1037.5 143.8h0M1037.6 126.1h0M1038.1 121.6h0M1038.4 106.3h0M1038.5 145.8h0M1038.6 135.1h0M1038.6 144.3h0M1039.4 147.0h0M1039.6 143.2h0M1040.1 131.5h0M1040.3 128.0h0M1040.4 115.2h0M1040.6 121.7h0M1041.0 140.8h0M1041.4 173.8h0M1041.7 125.7h0M1042.1 137.2h0M1042.3 190.6h0M1042.7 134.6h0M1042.8 126.7h0M1043.3 133.0h0M1043.4 128.2h0M1043.6 97.7h0M1044.0 147.5h0M1044.6 100.2h0M1045.0 121.9h0M1045.1 124.2h0M1045.2 139.9h0M1045.2 127.7h0M1045.2 122.9h0M1045.7 115.7h0M1045.7 135.4h0M1047.2 124.9h0M1047.6 117.8h0M1048.2 106.5h0M1048.4 114.9h0M1048.5 133.0h0M1048.9 102.0h0M1049.0 132.6h0M1049.4 131.7h0M1049.5 150.8h0M1050.0 117.5h0M1050.2 112.2h0M1050.6 127.9h0M1052.0 122.6h0M1053.4 82.4h0M1054.1 151.0h0M1054.4 133.7h0M1054.8 131.9h0M1054.9 114.7h0M1054.3 193.4h0M1054.4 180.3h0M1054.7 188.8h0M1055.0 175.5h0M1055.1 184.1h0M1055.7 190.5h0M1056.3 194.1h0M1056.6 197.9h0M1056.8 201.6h0M1056.9 207.3h0M1057.5 193.1h0M1057.7 206.1h0M1058.3 214.4h0M1059.2 147.3h0M1059.2 152.1h0M1059.6 144.9h0M1059.7 154.3h0M1059.7 142.4h0M1060.3 139.8h0M1060.3 133.6h0M1060.8 128.2h0M1061.3 145.1h0M1061.3 140.9h0M1062.0 143.4h0M1062.4 141.7h0M1062.6 148.2h0M1062.9 145.1h0M1063.3 138.6h0M1064.1 152.6h0M1064.1 166.6h0M1064.5 135.9h0M1064.7 140.5h0M1064.9 150.7h0M1065.3 137.7h0M1066.2 155.8h0M1066.2 138.3h0M1066.3 133.0h0M1067.2 135.8h0M1067.8 156.5h0M1068.1 124.9h0M1068.1 147.1h0M1069.1 123.8h0M1069.5 153.7h0M1070.4 150.4h0M1070.8 153.3h0M1071.7 168.8h0M1072.8 112.8h0M1072.8 78.1h0M1073.0 85.2h0M1074.4 83.7h0M1074.9 93.7h0M1075.1 105.9h0M1075.1 98.5h0M1075.9 107.9h0M1076.5 93.3h0M1076.9 113.8h0M1077.2 112.4h0M1077.3 82.1h0M1077.7 90.0h0M1077.8 95.3h0M1078.0 112.2h0M1078.1 111.7h0M1078.9 124.0h0M1079.9 85.5h0M1080.5 106.0h0M1081.0 103.4h0M1081.3 100.4h0M1081.7 102.2h0M1082.2 79.6h0M1082.7 107.6h0M1082.8 99.2h0M1083.7 89.7h0M1084.0 121.2h0M1084.4 96.6h0M1084.7 107.6h0M1084.9 96.7h0M1085.5 86.8h0M1086.1 99.9h0M1086.6 109.2h0M1086.6 93.6h0M1086.9 111.6h0M1087.4 126.0h0M1087.8 120.1h0M1088.4 102.7h0M1089.8 97.6h0M1089.8 117.8h0M1089.8 90.5h0M1090.7 95.1h0M1090.9 128.0h0M1091.2 112.3h0M1091.4 113.7h0M1092.1 104.8h0M1092.1 142.0h0M1092.1 145.6h0M1092.6 107.0h0M1092.7 118.7h0M1092.9 105.7h0M1093.3 114.8h0M1093.6 125.4h0M1094.4 125.1h0M1094.4 107.1h0M1094.6 114.9h0M1094.8 143.9h0M1095.1 121.9h0M1095.2 127.6h0M1095.3 117.4h0M1095.7 109.5h0M1096.4 98.0h0M1096.5 99.4h0M1096.8 91.4h0M1096.1 121.5h0M1096.3 133.0h0M1096.9 128.3h0M1097.3 127.4h0M1097.9 131.8h0M1098.2 135.6h0M1098.2 124.9h0M1098.4 132.3h0M1100.0 141.9h0M1100.7 136.0h0M1101.0 144.9h0M1101.7 139.4h0M1101.9 147.1h0M1102.3 147.1h0M1102.8 151.3h0M1103.3 147.3h0M1103.5 141.1h0M1103.7 138.4h0M1103.9 172.8h0M1103.9 145.2h0M1103.1 203.5h0M1104.0 209.4h0M1104.5 181.4h0M1104.6 222.1h0M1104.8 215.5h0M1104.9 213.7h0M1105.0 186.9h0M1105.6 211.8h0M1105.6 200.5h0M1105.7 200.7h0M1105.7 206.7h0M1106.9 188.6h0M1107.0 220.5h0M1107.0 219.8h0M1107.2 217.4h0M1107.5 224.8h0M1107.5 188.1h0M1107.6 204.8h0M1107.7 204.3h0M1108.5 194.4h0M1108.6 218.9h0M1109.0 239.9h0M1109.2 197.3h0M1109.8 217.1h0M1109.9 211.4h0M1110.1 212.4h0M1110.5 212.2h0M1110.8 219.4h0M1111.0 204.0h0M1111.5 207.1h0M1112.3 232.1h0M1112.4 212.8h0M1112.4 212.6h0M1112.5 192.0h0M1113.8 219.4h0M1114.1 221.3h0M1114.5 217.6h0M1114.8 233.2h0M1116.1 192.3h0M1116.2 226.3h0M1116.5 196.8h0M1117.4 204.3h0M1117.4 193.2h0M1117.7 226.5h0M1117.7 215.3h0M1118.0 211.8h0M1118.1 217.5h0M1119.6 193.5h0M1121.1 212.2h0M1121.4 222.0h0M1121.4 212.6h0M1121.6 219.0h0M1122.6 201.9h0M1122.7 222.6h0M1123.3 217.5h0M1123.6 223.9h0M1123.7 239.8h0M1124.1 222.6h0M1124.7 215.1h0M1124.7 226.7h0M1125.3 209.5h0M1125.4 242.0h0M1125.5 222.8h0M1125.9 223.2h0M1126.7 229.6h0M1127.1 209.2h0M1127.2 223.8h0M1127.2 221.3h0M1128.3 250.2h0M1128.5 242.1h0M1129.3 247.3h0M1129.4 226.3h0M1129.6 227.8h0M1129.8 238.6h0M1130.7 218.9h0M1131.6 216.8h0M1131.6 246.0h0M1132.0 233.6h0M1132.2 233.7h0M1132.6 208.3h0M1133.4 224.1h0M1133.7 223.9h0M1133.8 221.1h0M1134.9 234.2h0M1135.4 114.5h0M1135.9 128.8h0M1136.3 134.4h0M1136.3 113.1h0M1136.8 91.9h0M1137.9 113.2h0M1137.9 110.6h0M1138.4 112.5h0M1139.1 112.0h0M1139.3 113.7h0M1139.4 85.4h0M1139.4 121.1h0M1139.7 120.7h0M1140.5 119.0h0M1140.8 113.1h0M1140.9 126.4h0M1141.7 93.2h0M1141.9 113.9h0M1142.2 123.0h0M1143.0 110.0h0M1143.2 115.0h0M1143.3 129.1h0M1143.5 113.9h0M1143.9 104.9h0M1144.3 110.4h0M1144.6 121.5h0M1145.6 103.9h0M1145.8 117.7h0M1146.0 112.5h0M1146.6 118.8h0M1146.8 128.0h0M1147.1 142.0h0M1147.2 105.5h0M1147.3 133.1h0M1147.4 126.3h0M1148.4 144.0h0M1148.9 134.9h0M1149.0 161.5h0M1150.4 171.8h0M1150.4 127.0h0M1152.0 145.2h0M1152.1 124.1h0M1152.3 124.0h0M1152.4 135.9h0M1152.5 148.4h0M1153.8 147.1h0M1154.4 137.1h0M1154.5 154.2h0M1154.7 124.7h0M1154.7 128.3h0M1154.8 139.2h0M1155.0 116.9h0M1155.2 158.1h0M1155.7 139.6h0M1155.9 137.4h0M1156.4 148.0h0M1157.5 126.5h0M1157.5 142.4h0M1157.8 122.3h0M1158.2 142.7h0M1159.0 147.5h0M1159.4 167.1h0M1160.0 147.4h0M1160.2 165.1h0M1160.4 147.7h0M1161.1 127.8h0M1161.2 158.7h0M1161.3 150.1h0M1161.5 141.8h0M1161.5 161.4h0M1162.1 136.5h0M1162.5 145.7h0M1162.8 160.2h0M1163.4 162.9h0M1163.9 144.0h0M1163.9 156.4h0M1164.1 153.8h0M1164.4 161.3h0M1164.5 150.2h0M1165.7 127.5h0M1166.2 150.7h0M1166.3 175.3h0M1166.7 145.4h0M1167.0 154.0h0M1167.3 167.7h0M1168.2 156.5h0M1168.4 143.6h0M1168.5 166.0h0M1168.6 165.7h0M1168.6 156.6h0M1169.2 168.0h0M1169.9 155.6h0M1170.1 178.6h0M1170.5 171.9h0M1170.6 159.9h0M1171.1 165.9h0M1171.3 173.6h0M1171.6 159.2h0M1171.9 168.2h0M1171.9 158.9h0M1172.2 155.9h0M1172.3 133.2h0M1172.5 142.5h0M1172.6 145.8h0M1172.9 160.9h0M1173.6 197.6h0M1173.7 146.5h0M1173.8 153.6h0M1174.8 141.4h0M1174.8 154.1h0M1175.0 156.4h0M1175.5 169.5h0M1175.9 139.7h0M1177.5 166.6h0M1177.5 162.9h0M1177.7 155.1h0M1178.0 141.5h0M1179.3 144.1h0M1179.4 156.3h0M1179.5 167.4h0M1180.6 157.6h0M1181.1 148.2h0M1181.2 163.1h0M1181.2 144.1h0M1181.5 170.4h0M1181.7 201.2h0M1182.1 150.8h0M1182.1 174.1h0M1182.2 145.2h0M1182.3 160.5h0M1182.7 166.9h0M1183.3 176.6h0M1184.0 159.7h0M1184.7 178.6h0M1184.8 141.0h0M1185.4 156.1h0M1185.4 159.1h0M1186.8 160.4h0M1187.3 157.3h0M1187.4 185.7h0M1187.5 153.6h0M1188.0 173.7h0M1188.1 165.3h0M1188.7 188.7h0M1189.0 156.1h0M1189.1 169.6h0M1189.5 167.6h0M1190.1 113.0h0M1190.6 165.2h0M1190.7 174.4h0M1191.1 181.5h0M1191.8 144.1h0M1191.9 156.6h0M1191.9 177.2h0M1192.4 143.3h0M1192.7 147.9h0M1193.6 168.0h0M1193.8 169.4h0M1194.1 178.8h0M1194.1 175.8h0M1194.2 162.6h0M1194.5 144.5h0M1194.6 150.3h0M1195.0 159.6h0M1195.4 165.0h0M1196.5 160.3h0M1196.9 171.1h0M1197.8 148.7h0M1198.2 153.4h0M1200.0 140.8h0M1200.5 188.5h0M1200.8 157.2h0M1202.0 173.6h0M1202.0 177.8h0M1202.4 164.7h0M1202.4 156.9h0M1203.0 152.4h0M1203.8 155.8h0M1204.0 134.6h0M1205.6 154.1h0M1206.3 164.1h0M1206.5 163.1h0M1206.7 141.2h0M1207.6 175.3h0M1208.5 160.8h0M1208.8 141.3h0M1209.2 145.8h0M1209.5 134.7h0M1209.8 156.5h0M1210.0 165.2h0M1210.9 155.4h0M1211.3 169.1h0M1211.3 164.5h0M1211.6 177.3h0M1212.1 170.6h0M1212.2 168.3h0M1212.3 159.1h0M1212.4 153.8h0M1212.5 157.9h0M1213.1 177.2h0M1213.2 164.9h0M1213.3 193.2h0M1214.0 184.8h0M1214.4 153.9h0M1214.6 180.2h0M1215.7 193.3h0M1215.9 166.3h0M1217.1 195.0h0M1217.3 167.0h0M1217.6 200.8h0M1217.6 185.8h0M1217.8 175.0h0M1218.1 154.5h0M1218.4 177.5h0M1218.5 168.2h0M1218.7 184.8h0M1220.4 169.0h0M1220.4 188.7h0M1220.4 175.0h0M1220.8 190.8h0M1220.9 194.4h0M1221.1 185.3h0M1221.7 190.9h0M1222.0 199.9h0M1222.5 171.0h0M1222.2 158.0h0M1222.3 153.2h0M1222.8 150.5h0M1223.2 139.3h0M1223.3 144.9h0M1223.6 143.1h0M1224.2 144.5h0M1224.5 159.3h0M1225.1 149.0h0M1225.1 162.1h0M1226.2 156.4h0M1226.3 155.1h0M1226.4 155.0h0M1226.7 147.6h0M1226.9 154.7h0M1227.3 164.0h0M1227.4 163.3h0M1227.9 161.0h0M1227.9 164.4h0M1228.4 162.3h0M1224.0 105.9h0M1224.5 93.9h0M1224.6 116.7h0M1224.6 111.8h0M1225.9 130.1h0M1226.0 117.2h0M1226.0 111.4h0M1226.1 95.4h0M1226.8 113.6h0M1227.2 119.7h0M1227.2 132.4h0M1228.1 117.7h0M1229.3 122.8h0M1229.3 120.5h0M1229.4 132.7h0M1229.7 127.0h0M1230.4 114.4h0M1230.5 96.8h0M1231.1 133.3h0M1231.2 115.1h0M1231.4 104.7h0M1231.6 97.2h0M1231.7 93.3h0M1231.8 117.3h0M1231.9 112.3h0M1232.2 118.0h0M1232.8 128.9h0M1233.3 107.4h0M1233.3 118.1h0M1233.4 108.4h0M1233.7 104.5h0M1234.9 88.8h0M1235.3 106.0h0M1236.2 128.4h0M1236.8 109.6h0M1237.1 119.4h0M1237.3 117.4h0M1237.4 140.0h0M1237.6 133.4h0M1237.8 108.5h0M1238.0 111.1h0M1238.5 129.9h0M1239.1 119.4h0M1239.8 118.1h0M1239.9 130.8h0M1240.0 123.7h0M1240.8 119.2h0M1241.3 153.4h0M1241.5 122.5h0M1242.5 102.1h0M1242.7 122.0h0M1242.8 121.2h0M1243.0 138.2h0M1243.9 122.3h0M1244.0 111.0h0M1244.1 122.9h0M1244.8 104.2h0M1244.9 114.4h0M1245.2 123.0h0M1245.6 108.8h0M1245.9 95.1h0M1246.9 106.9h0M1247.0 109.5h0M1247.1 125.9h0M1248.5 113.9h0M1249.5 118.9h0M1249.9 189.2h0M1249.9 194.8h0M1250.0 199.7h0M1250.6 202.5h0M1250.9 192.4h0M1251.4 197.3h0M1252.2 216.4h0M1252.4 216.9h0M1252.8 185.2h0M1252.9 218.8h0M1253.0 192.3h0M1253.3 207.4h0M1253.3 183.6h0M1253.6 194.5h0M1254.7 190.4h0M1254.8 205.8h0M1255.0 199.5h0M1257.0 203.1h0M1257.2 202.8h0M1257.3 200.8h0M1257.5 208.4h0M1257.8 200.3h0M1258.1 198.3h0M1258.7 192.9h0M1258.8 190.2h0M1259.8 194.7h0M1261.8 205.3h0M1262.0 212.2h0M1262.6 200.6h0M1262.6 222.7h0M1262.7 214.9h0M1263.0 202.6h0M1263.3 206.0h0M1263.6 202.3h0M1263.6 183.5h0M1264.4 211.5h0M1264.7 205.4h0M1264.8 185.9h0M1264.9 212.4h0M1265.0 197.6h0M1265.1 201.0h0M1265.2 185.6h0M1265.5 203.3h0M1265.6 208.1h0M1265.7 199.4h0M1265.8 203.7h0M1267.0 184.9h0M1267.3 210.1h0M1267.3 204.2h0M1267.9 204.6h0M1268.3 212.2h0M1268.7 216.2h0M1268.8 204.7h0M1268.9 215.0h0M1270.0 196.9h0M1270.3 192.8h0M1270.5 207.2h0M1270.6 212.1h0M1270.8 217.1h0M1271.6 192.9h0M1271.7 230.0h0M1271.7 203.2h0M1272.5 216.5h0M1272.6 214.3h0M1273.4 203.5h0M1274.2 220.4h0M1274.3 219.8h0M1275.0 229.5h0M1275.2 239.0h0M1275.3 241.7h0M1275.7 227.9h0M1276.6 225.2h0M1276.7 213.0h0M1277.0 199.6h0M1277.3 222.5h0M1277.3 210.8h0M1277.6 214.6h0M1278.2 212.4h0M1278.2 223.1h0M1279.0 213.7h0M1279.4 247.0h0M1280.1 229.5h0M1280.2 213.2h0M1280.9 224.0h0M1281.3 236.5h0M1281.9 206.0h0M1281.9 222.7h0M1281.9 213.9h0M1282.0 221.0h0M1283.0 215.0h0M1283.1 223.0h0M1283.3 226.4h0M1284.4 229.0h0M1284.5 204.0h0M1284.7 230.1h0M1285.3 222.4h0M1285.9 214.9h0M1286.4 222.0h0M1286.5 241.8h0M1286.8 221.1h0M1286.9 212.6h0M1287.0 231.5h0M1287.7 221.1h0M1288.0 232.0h0M1288.2 227.0h0M1289.1 240.6h0M1289.7 217.5h0M1290.8 220.7h0M1290.1 150.6h0M1292.5 141.9h0M1292.7 158.0h0M1293.2 127.5h0M1293.5 127.1h0M1293.6 141.5h0M1294.0 156.9h0M1294.3 122.1h0M1294.6 140.9h0M1295.7 132.1h0M1296.2 127.5h0M1296.5 146.7h0M1296.6 146.1h0M1296.8 143.4h0M1297.3 121.7h0M1297.5 131.9h0M1297.6 105.3h0M1297.8 140.2h0M1299.1 110.7h0M1299.4 126.7h0M1299.5 144.3h0M1299.6 127.2h0M1300.3 133.0h0M1300.7 119.9h0M1301.0 171.5h0M1301.4 111.0h0M1301.7 120.9h0M1302.2 127.7h0M1302.2 171.5h0M1302.2 121.1h0M1302.3 131.0h0M1302.5 142.8h0M1302.8 96.6h0M1303.0 144.2h0M1303.6 135.6h0M1303.9 153.9h0" stroke="#000" stroke-width="3.8" stroke-linecap="round" fill="none"/>
<path d="M206.5 178.6h0M339.8 177.0h0M341.2 176.3h0M295.3 283.5h0M296.4 285.3h0M294.3 294.5h0M864.4 279.6h0M863.4 283.5h0" stroke="#ffa500" stroke-width="3.8" stroke-linecap="round" fill="none"/>
<line x1="162.0" y1="321.1" x2="162.0" y2="35.5" stroke="#800080" stroke-width="2.08" stroke-dasharray="2.08 3.44"/>
<line x1="470.0" y1="321.1" x2="470.0" y2="35.5" stroke="#800080" stroke-width="2.08" stroke-dasharray="2.08 3.44"/>
<line x1="1303.0" y1="321.1" x2="1303.0" y2="35.5" stroke="#800080" stroke-width="2.08" stroke-dasharray="2.08 3.44"/>
<rect x="105.5" y="35.5" width="1380.0" height="286.0" fill="none" stroke="#000" stroke-width="1.1"/>
<line x1="162.5" y1="321.5" x2="162.5" y2="326.9" stroke="#000" stroke-width="1.1"/>
<text x="163.4" y="342.0" font-size="14" text-anchor="middle" textLength="8.4" lengthAdjust="spacingAndGlyphs">0</text>
<line x1="359.5" y1="321.5" x2="359.5" y2="326.9" stroke="#000" stroke-width="1.1"/>
<text x="358.6" y="342.0" font-size="14" text-anchor="middle" textLength="25.2" lengthAdjust="spacingAndGlyphs">500</text>
<line x1="556.5" y1="321.5" x2="556.5" y2="326.9" stroke="#000" stroke-width="1.1"/>
<text x="555.6" y="342.0" font-size="14" text-anchor="middle" textLength="33.6" lengthAdjust="spacingAndGlyphs">1000</text>
<line x1="753.5" y1="321.5" x2="753.5" y2="326.9" stroke="#000" stroke-width="1.1"/>
<text x="752.6" y="342.0" font-size="14" text-anchor="middle" textLength="33.6" lengthAdjust="spacingAndGlyphs">1500</text>
<line x1="949.5" y1="321.5" x2="949.5" y2="326.9" stroke="#000" stroke-width="1.1"/>
<text x="948.6" y="342.0" font-size="14" text-anchor="middle" textLength="33.6" lengthAdjust="spacingAndGlyphs">2000</text>
<line x1="1146.5" y1="321.5" x2="1146.5" y2="326.9" stroke="#000" stroke-width="1.1"/>
<text x="1145.6" y="342.0" font-size="14" text-anchor="middle" textLength="33.6" lengthAdjust="spacingAndGlyphs">2500</text>
<line x1="1343.5" y1="321.5" x2="1343.5" y2="326.9" stroke="#000" stroke-width="1.1"/>
<text x="1342.6" y="342.0" font-size="14" text-anchor="middle" textLength="33.6" lengthAdjust="spacingAndGlyphs">3000</text>
<line x1="100.5" y1="80.5" x2="105.5" y2="80.5" stroke="#000" stroke-width="1.1"/>
<text x="94.6" y="85.5" font-size="14" text-anchor="end" textLength="29.5" lengthAdjust="spacingAndGlyphs">9.95</text>
<line x1="100.5" y1="126.5" x2="105.5" y2="126.5" stroke="#000" stroke-width="1.1"/>
<text x="94.6" y="131.5" font-size="14" text-anchor="end" textLength="29.5" lengthAdjust="spacingAndGlyphs">9.90</text>
<line x1="100.5" y1="171.5" x2="105.5" y2="171.5" stroke="#000" stroke-width="1.1"/>
<text x="94.6" y="176.5" font-size="14" text-anchor="end" textLength="29.5" lengthAdjust="spacingAndGlyphs">9.85</text>
<line x1="100.5" y1="217.5" x2="105.5" y2="217.5" stroke="#000" stroke-width="1.1"/>
<text x="94.6" y="222.5" font-size="14" text-anchor="end" textLength="29.5" lengthAdjust="spacingAndGlyphs">9.80</text>
<line x1="100.5" y1="262.5" x2="105.5" y2="262.5" stroke="#000" stroke-width="1.1"/>
<text x="94.6" y="267.5" font-size="14" text-anchor="end" textLength="29.5" lengthAdjust="spacingAndGlyphs">9.75</text>
<line x1="100.5" y1="308.5" x2="105.5" y2="308.5" stroke="#000" stroke-width="1.1"/>
<text x="94.6" y="313.5" font-size="14" text-anchor="end" textLength="29.5" lengthAdjust="spacingAndGlyphs">9.70</text>
<text x="295.4" y="312.3" font-size="14" text-anchor="start" textLength="42.4" lengthAdjust="spacingAndGlyphs">44080</text>
<text x="865.4" y="292.3" font-size="14" text-anchor="start" textLength="42.4" lengthAdjust="spacingAndGlyphs">44052</text>
<text x="696.0" y="26.6" font-size="16.7" text-anchor="start" textLength="57.5" lengthAdjust="spacingAndGlyphs">AGASC</text>
<text x="759.3" y="26.6" font-size="16.7" text-anchor="start" textLength="16.3" lengthAdjust="spacingAndGlyphs">ID</text>
<text x="782.3" y="26.6" font-size="16.7" text-anchor="start" textLength="111.0" lengthAdjust="spacingAndGlyphs">158083440.0</text>
<rect x="1361.3" y="42.4" width="117.4" height="27.1" rx="2.5" ry="2.5" fill="#fff" fill-opacity="0.8" stroke="#ccc" stroke-width="1.1"/>
<line x1="1366.5" y1="54" x2="1396" y2="54" stroke="#008000" stroke-width="2.08"/>
<text x="1407.3" y="58.8" font-size="14" text-anchor="start" textLength="29.5" lengthAdjust="spacingAndGlyphs">mag</text>
<text x="1437.3" y="61.2" font-size="10" text-anchor="start" textLength="34.8" lengthAdjust="spacingAndGlyphs" font-style="italic">AGASC</text>
<rect x="1348.5" y="247.4" width="130.2" height="67.0" rx="2.5" ry="2.5" fill="#fff" fill-opacity="0.8" stroke="#ccc" stroke-width="1.1"/>
<path d="M1367.6 260.4h0" stroke="#ff0000" stroke-width="3.4" stroke-linecap="round" fill="none"/>
<path d="M1367.6 281.3h0" stroke="#ffa500" stroke-width="3.4" stroke-linecap="round" fill="none"/>
<path d="M1367.6 302.4h0" stroke="#000" stroke-width="3.4" stroke-linecap="round" fill="none"/>
<text x="1392.7" y="263.7" font-size="14" text-anchor="start" textLength="46.5" lengthAdjust="spacingAndGlyphs">not OK</text>
<text x="1393.3" y="284.5" font-size="14" text-anchor="start" textLength="78.5" lengthAdjust="spacingAndGlyphs">Highlighted</text>
<text x="1393.3" y="305.4" font-size="14" text-anchor="start" textLength="18.5" lengthAdjust="spacingAndGlyphs">OK</text>
</g>
<g id="p2">
<path d="M180.7 553.4h0M181.3 558.4h0M181.6 557.9h0M181.7 548.2h0M182.2 555.4h0M182.3 540.2h0M182.3 549.0h0M182.7 552.7h0M183.1 541.9h0M184.2 549.5h0M184.7 560.3h0M184.7 565.7h0M184.7 554.6h0M184.9 554.9h0M185.6 544.2h0M186.2 542.7h0M186.6 541.5h0M186.6 553.2h0M187.0 546.5h0M187.6 553.9h0M188.4 557.5h0M188.6 552.3h0M189.0 555.6h0M189.3 545.3h0M189.3 550.0h0M189.5 559.3h0M189.5 548.3h0M189.7 559.2h0M190.0 547.1h0M190.1 550.0h0M190.2 548.9h0M191.0 555.9h0M191.1 559.1h0M191.3 549.6h0M191.5 555.0h0M191.9 566.1h0M192.6 554.7h0M192.7 551.7h0M193.0 559.1h0M195.1 556.4h0M195.4 553.7h0M196.1 546.5h0M196.4 536.8h0M196.6 546.5h0M197.3 552.4h0M197.5 545.0h0M197.7 536.3h0M197.9 545.4h0M198.2 550.0h0M198.7 546.5h0M198.9 542.9h0M199.0 554.9h0M199.1 555.1h0M200.3 543.2h0M200.8 547.7h0M202.1 544.2h0M202.1 546.2h0M202.8 549.2h0M202.8 545.8h0M203.0 533.3h0M203.1 540.7h0M203.6 547.9h0M203.7 529.5h0M204.0 542.7h0M204.1 542.5h0M205.0 544.2h0M206.3 535.7h0M206.5 537.3h0M207.0 540.1h0M207.1 535.0h0M207.2 534.1h0M207.2 535.7h0M207.5 539.5h0M208.1 541.6h0M208.8 539.8h0M208.8 540.3h0M209.2 536.7h0M210.2 536.6h0M211.0 545.3h0M211.1 539.8h0M211.5 539.7h0M212.2 544.4h0M212.2 545.9h0M212.4 546.0h0M213.3 542.0h0M213.4 539.9h0M213.5 541.5h0M213.8 541.0h0M214.6 546.7h0M214.7 541.5h0M215.3 539.3h0M215.9 541.9h0M216.1 535.8h0M216.3 543.5h0M216.3 530.5h0M217.1 542.7h0M218.3 553.4h0M218.6 537.2h0M219.3 542.3h0M219.5 533.4h0M220.0 538.9h0M220.1 546.0h0M220.7 537.8h0M221.1 542.6h0M221.4 541.2h0M221.5 541.1h0M221.6 543.9h0M221.6 545.2h0M221.7 548.7h0M223.6 547.6h0M224.1 541.2h0M224.3 550.5h0M225.0 550.0h0M225.1 536.9h0M225.2 547.3h0M225.4 548.1h0M226.1 549.0h0M226.2 547.1h0M226.2 538.5h0M227.0 543.6h0M227.4 535.3h0M227.7 544.3h0M227.8 554.6h0M228.1 548.4h0M228.1 549.1h0M228.1 542.8h0M228.8 540.7h0M229.1 540.5h0M229.3 546.2h0M229.4 541.9h0M229.8 542.8h0M229.9 551.2h0M230.1 538.2h0M230.9 540.0h0M231.4 543.9h0M233.0 546.4h0M233.1 546.3h0M233.6 540.5h0M233.7 548.0h0M234.2 546.7h0M234.3 549.0h0M234.6 542.3h0M234.6 548.6h0M235.2 548.7h0M235.6 544.7h0M235.8 546.8h0M235.9 545.3h0M237.7 554.8h0M237.9 534.0h0M239.3 542.3h0M239.5 541.1h0M239.7 547.4h0M239.8 546.0h0M240.2 547.4h0M240.3 552.7h0M240.9 541.9h0M241.0 545.7h0M241.3 548.7h0M241.5 544.2h0M242.2 551.7h0M242.2 551.6h0M243.5 547.1h0M244.0 542.3h0M244.1 558.2h0M244.4 553.0h0M245.0 553.0h0M245.0 562.9h0M245.8 555.2h0M245.8 546.6h0M245.9 547.5h0M246.1 556.6h0M246.1 548.8h0M247.1 543.1h0M247.1 546.2h0M247.2 546.1h0M247.9 546.5h0M248.0 555.6h0M248.0 552.4h0M248.0 544.0h0M248.8 549.4h0M251.0 546.9h0M251.2 546.6h0M251.3 545.0h0M251.5 562.5h0M251.6 551.5h0M252.3 556.5h0M252.3 558.1h0M253.1 551.6h0M253.3 556.6h0M253.4 556.7h0M253.6 555.0h0M254.1 565.6h0M256.1 556.2h0M256.2 553.5h0M256.6 558.3h0M257.1 564.5h0M257.3 560.4h0M257.4 552.5h0M257.4 550.5h0M257.8 550.3h0M258.2 551.8h0M258.2 557.4h0M258.6 560.0h0M258.8 543.4h0M260.0 555.9h0M260.3 550.2h0M260.6 559.8h0M261.6 561.4h0M261.6 552.3h0M263.7 553.0h0M264.0 554.3h0M264.0 554.8h0M264.2 557.4h0M265.0 546.8h0M265.5 554.1h0M266.3 554.3h0M267.0 556.6h0M267.0 559.4h0M267.2 555.8h0M267.3 552.2h0M267.3 555.2h0M267.5 562.0h0M267.6 551.4h0M268.0 557.0h0M268.0 552.8h0M268.4 561.9h0M268.6 551.1h0M269.9 558.6h0M270.2 560.0h0M270.2 561.0h0M270.7 570.8h0M270.8 567.9h0M271.2 558.1h0M271.9 572.2h0M272.0 558.8h0M272.2 556.5h0M272.2 558.0h0M272.9 566.0h0M273.4 568.2h0M273.9 558.1h0M273.9 568.7h0M274.1 566.1h0M274.3 570.5h0M275.0 567.3h0M275.3 572.9h0M276.0 534.1h0M276.8 538.2h0M277.1 542.5h0M277.3 542.1h0M278.2 540.5h0M278.2 537.3h0M278.3 539.3h0M278.6 537.4h0M279.0 539.7h0M280.5 540.5h0M280.6 543.5h0M280.8 532.5h0M281.6 540.5h0M281.7 540.9h0M281.9 537.3h0M282.7 542.5h0M283.0 538.8h0M283.2 540.9h0M283.8 543.3h0M284.0 543.6h0M284.1 546.4h0M285.8 553.0h0M286.0 552.1h0M286.2 542.7h0M286.5 544.7h0M286.6 544.8h0M286.8 549.5h0M286.9 554.0h0M287.1 552.2h0M287.1 543.9h0M287.4 551.6h0M288.4 556.1h0M288.6 551.3h0M288.8 561.0h0M289.2 551.4h0M289.5 559.1h0M290.0 564.7h0M290.3 550.5h0M291.4 560.0h0M291.5 564.0h0M291.6 557.4h0M291.6 558.6h0M292.0 560.0h0M292.4 568.6h0M292.5 564.7h0M292.9 566.2h0M293.1 564.7h0M293.2 565.7h0M293.4 566.0h0M293.6 567.5h0M293.8 565.2h0M294.2 561.1h0M294.7 562.0h0M294.8 570.1h0M296.1 571.7h0M296.1 568.3h0M296.1 559.4h0M297.6 573.3h0M297.7 568.3h0M297.8 566.8h0M299.3 568.1h0M301.0 557.3h0M301.1 562.5h0M301.4 554.5h0M301.4 557.8h0M301.7 557.8h0M301.8 555.3h0M302.4 547.6h0M302.9 557.5h0M303.0 544.6h0M303.2 549.9h0M303.7 553.7h0M304.0 557.1h0M304.1 558.7h0M304.4 558.4h0M304.7 557.3h0M304.9 553.3h0M306.2 558.7h0M306.9 552.3h0M307.0 557.8h0M307.3 544.1h0M307.4 549.2h0M307.5 550.6h0M307.5 552.9h0M308.4 542.7h0M309.2 555.1h0M309.9 555.3h0M310.0 554.4h0M310.3 549.0h0M310.7 556.6h0M310.8 548.5h0M311.9 553.6h0M313.0 548.1h0M313.5 543.3h0M313.5 556.0h0M314.2 544.7h0M314.3 549.9h0M314.9 550.8h0M315.0 540.3h0M315.9 547.3h0M316.1 552.1h0M316.2 545.0h0M316.7 549.3h0M316.7 546.1h0M317.8 550.4h0M318.6 553.8h0M319.3 539.6h0M320.1 543.0h0M320.4 546.0h0M320.6 541.1h0M321.0 539.9h0M321.1 542.1h0M321.5 542.2h0M321.6 540.4h0M322.6 544.4h0M322.7 546.6h0M323.2 546.0h0M323.3 545.6h0M323.3 548.0h0M323.4 536.0h0M323.6 541.7h0M323.8 543.1h0M323.8 544.7h0M325.2 533.8h0M325.3 550.2h0M325.3 537.2h0M325.3 542.6h0M325.7 544.6h0M325.9 546.1h0M327.4 536.9h0M327.8 537.4h0M328.7 541.1h0M328.8 542.1h0M328.9 543.6h0M329.3 538.8h0M329.4 535.7h0M329.5 532.7h0M329.9 546.9h0M330.4 540.2h0M331.1 542.5h0M331.2 541.8h0M331.3 541.2h0M332.1 546.6h0M332.5 545.3h0M333.0 540.8h0M333.1 546.7h0M333.2 533.4h0M333.8 541.6h0M334.6 542.6h0M334.8 549.5h0M335.6 541.3h0M335.8 537.0h0M336.5 545.0h0M336.7 552.2h0M336.8 543.3h0M337.3 544.1h0M337.5 543.7h0M337.7 545.0h0M337.3 532.2h0M337.5 529.2h0M338.3 537.8h0M338.5 533.0h0M338.5 530.7h0M338.5 529.9h0M339.0 533.2h0M339.5 529.7h0M339.7 532.4h0M339.7 534.5h0M340.3 527.4h0M340.5 530.1h0M340.5 532.4h0M340.6 535.5h0M342.7 532.7h0M343.3 528.7h0M343.5 533.8h0M343.6 528.9h0M343.7 529.3h0M343.9 530.7h0M343.9 526.7h0M345.4 537.3h0M345.9 532.0h0M346.6 529.1h0M346.7 527.0h0M346.8 525.4h0M347.3 545.8h0M347.3 537.6h0M348.2 531.3h0M348.7 536.2h0M349.2 539.8h0M349.3 539.8h0M349.4 538.5h0M349.5 543.6h0M349.6 534.7h0M350.5 530.4h0M350.8 535.8h0M351.1 535.0h0M351.2 548.7h0M351.9 539.6h0M352.1 534.7h0M353.2 540.4h0M353.4 544.7h0M353.4 544.3h0M353.8 542.5h0M353.9 542.4h0M354.2 552.0h0M354.7 542.4h0M354.8 547.2h0M355.2 551.8h0M355.2 548.9h0M355.6 545.6h0M355.7 550.3h0M356.0 539.0h0M356.3 540.0h0M356.7 544.0h0M357.0 544.9h0M357.3 545.5h0M359.6 555.4h0M359.9 554.6h0M360.2 546.6h0M360.2 548.0h0M360.3 542.5h0M361.0 548.5h0M361.3 540.8h0M361.5 553.7h0M361.5 544.7h0M362.1 549.9h0M362.6 541.3h0M362.9 554.0h0M363.3 550.5h0M363.8 556.9h0M363.9 548.1h0M364.3 540.3h0M364.4 544.2h0M365.2 542.3h0M365.3 555.5h0M365.5 545.3h0M366.0 544.8h0M366.3 551.2h0M366.6 549.7h0M368.2 551.2h0M368.5 546.7h0M369.3 539.9h0M370.3 543.1h0M370.7 539.3h0M370.8 555.6h0M371.1 554.0h0M371.3 548.0h0M372.4 556.4h0M372.6 570.1h0M372.6 550.0h0M372.7 558.1h0M372.7 548.3h0M373.2 550.9h0M373.4 545.8h0M374.3 558.6h0M374.6 553.6h0M376.2 553.1h0M376.3 551.8h0M376.4 557.4h0M376.7 549.8h0M376.8 554.7h0M378.0 566.2h0M378.8 552.0h0M378.9 549.5h0M379.0 547.4h0M379.4 557.3h0M379.4 553.3h0M380.0 548.9h0M380.3 548.5h0M380.4 553.2h0M381.3 547.8h0M381.3 564.4h0M381.6 552.2h0M381.7 552.3h0M382.0 552.8h0M382.2 543.5h0M382.4 545.5h0M382.5 551.4h0M382.6 553.2h0M382.8 546.7h0M383.1 562.5h0M383.6 555.9h0M383.7 560.4h0M383.7 559.8h0M383.8 552.3h0M384.6 566.7h0M385.0 554.3h0M385.6 543.6h0M385.7 541.2h0M385.7 553.8h0M385.9 558.5h0M386.0 554.2h0M386.3 563.1h0M386.4 552.2h0M386.9 556.9h0M387.4 557.9h0M387.7 548.5h0M388.3 555.7h0M388.7 556.1h0M388.7 560.0h0M388.9 560.7h0M389.0 559.5h0M390.3 550.3h0M390.9 558.4h0M391.0 560.2h0M391.2 554.7h0M391.4 558.5h0M391.9 558.7h0M392.3 561.0h0M393.7 555.2h0M394.7 557.5h0M395.0 556.0h0M395.5 555.4h0M395.7 551.7h0M396.1 553.3h0M396.2 549.1h0M396.5 554.1h0M396.6 558.8h0M397.0 558.5h0M397.6 559.3h0M398.0 554.7h0M399.1 562.9h0M399.9 553.1h0M399.9 559.7h0M401.2 558.0h0M401.3 551.7h0M401.7 552.0h0M401.8 559.8h0M402.2 556.1h0M402.7 557.4h0M403.6 572.5h0M404.1 559.1h0M404.7 556.8h0M404.9 560.2h0M405.1 553.0h0M405.7 555.4h0M405.9 558.7h0M406.7 552.1h0M407.1 556.4h0M407.6 555.6h0M407.7 557.2h0M407.9 547.2h0M408.9 566.2h0M409.4 556.4h0M409.9 559.8h0M410.3 551.4h0M412.6 541.6h0M412.6 544.2h0M412.6 539.5h0M413.2 539.2h0M413.6 537.2h0M413.9 536.7h0M415.3 543.1h0M415.5 538.2h0M415.8 543.6h0M416.1 540.2h0M416.7 539.8h0M417.2 545.1h0M418.2 545.2h0M418.5 539.1h0M419.1 542.0h0M419.2 542.6h0M419.4 544.9h0M419.4 540.3h0M419.5 541.4h0M419.9 542.5h0M420.2 545.9h0M420.2 545.8h0M420.4 556.8h0M420.7 541.0h0M421.1 539.0h0M421.4 542.5h0M421.8 546.7h0M422.8 547.9h0M423.4 542.8h0M424.5 544.7h0M424.9 548.4h0M424.9 550.5h0M425.9 544.0h0M426.2 547.0h0M426.2 535.4h0M426.5 542.6h0M426.6 548.3h0M426.9 546.6h0M426.9 545.9h0M427.2 553.2h0M427.3 545.6h0M427.3 542.3h0M427.9 547.7h0M428.1 547.7h0M429.4 542.6h0M430.7 551.5h0M430.9 554.4h0M431.5 545.4h0M431.8 544.3h0M432.1 547.5h0M432.7 553.0h0M433.4 545.9h0M433.7 545.3h0M433.7 545.9h0M433.8 549.2h0M433.8 549.1h0M434.0 547.6h0M434.3 553.2h0M435.0 557.6h0M435.0 546.2h0M435.2 552.8h0M435.3 549.7h0M435.6 560.7h0M435.9 545.2h0M436.5 547.5h0M436.9 549.4h0M436.9 543.3h0M437.7 548.4h0M438.1 552.2h0M440.1 544.0h0M440.2 550.3h0M440.6 557.1h0M441.4 547.7h0M441.7 546.6h0M442.5 540.2h0M442.9 550.0h0M443.4 544.0h0M443.9 552.9h0M444.0 557.3h0M444.1 553.0h0M444.2 547.6h0M444.4 553.4h0M444.8 549.0h0M444.9 546.4h0M445.0 548.9h0M445.0 551.9h0M445.7 549.6h0M445.9 553.3h0M446.7 559.9h0M446.8 553.8h0M447.5 554.6h0M449.1 549.4h0M449.3 555.2h0M449.3 549.5h0M449.5 553.3h0M449.5 548.5h0M450.5 545.9h0M450.7 549.4h0M451.0 550.7h0M451.0 552.4h0M451.1 548.2h0M451.2 546.1h0M451.6 545.3h0M452.4 548.0h0M452.7 544.1h0M452.8 544.8h0M453.1 548.7h0M453.7 548.6h0M454.3 547.9h0M454.8 541.7h0M455.0 538.4h0M455.0 546.4h0M455.3 545.5h0M455.7 543.0h0M456.7 545.1h0M457.4 547.8h0M457.6 542.7h0M457.8 545.5h0M458.2 538.8h0M458.4 542.2h0M458.8 539.1h0M458.9 536.2h0M459.3 544.8h0M459.6 529.3h0M460.6 541.8h0M461.2 545.3h0M461.6 543.3h0M462.6 541.0h0M462.8 536.5h0M463.0 537.1h0M463.2 538.1h0M463.8 536.0h0M464.0 545.6h0M464.3 543.5h0M465.1 531.1h0M466.2 544.9h0M466.7 536.4h0M467.0 536.2h0M467.3 535.3h0M467.8 539.9h0M468.2 538.8h0M468.5 532.9h0M468.6 535.5h0M468.9 528.9h0M469.3 543.5h0M469.8 530.4h0M469.9 530.2h0M470.1 530.9h0M470.6 534.5h0M470.7 537.4h0M491.4 495.5h0M492.3 509.5h0M492.5 509.6h0M492.8 505.1h0M492.9 492.3h0M493.9 519.0h0M494.1 505.8h0M494.1 507.2h0M494.7 504.7h0M495.0 502.2h0M495.0 503.9h0M496.1 497.8h0M496.1 502.4h0M497.1 525.5h0M497.8 517.9h0M498.0 525.1h0M498.3 502.3h0M499.2 491.3h0M499.4 495.9h0M499.9 484.9h0M500.1 517.3h0M500.3 518.6h0M500.6 508.8h0M501.0 511.2h0M501.4 511.2h0M501.6 507.0h0M501.7 514.4h0M502.0 499.2h0M502.5 504.2h0M502.5 506.8h0M502.6 493.3h0M503.1 509.7h0M504.0 494.4h0M504.3 512.1h0M505.4 508.1h0M505.5 500.7h0M506.3 505.0h0M506.7 501.3h0M507.2 502.1h0M507.2 502.7h0M507.6 505.4h0M507.6 504.5h0M508.6 499.3h0M509.2 497.3h0M509.3 521.7h0M510.1 496.3h0M510.2 503.9h0M510.8 514.7h0M510.9 513.0h0M511.1 499.3h0M511.3 521.1h0M511.8 519.2h0M511.8 502.6h0M512.9 495.2h0M513.2 510.1h0M513.9 503.5h0M514.2 502.6h0M514.9 498.5h0M515.0 500.2h0M515.0 506.3h0M517.0 512.1h0M517.7 488.3h0M517.9 485.8h0M518.2 512.5h0M518.4 498.1h0M519.0 510.3h0M519.1 505.7h0M519.3 514.8h0M519.3 512.1h0M520.1 502.5h0M520.7 503.4h0M520.8 507.3h0M521.0 510.7h0M521.9 499.7h0M521.9 492.6h0M522.1 505.5h0M522.4 504.3h0M522.8 503.4h0M522.9 496.7h0M523.4 509.5h0M523.4 490.8h0M523.8 500.8h0M524.0 515.0h0M524.1 495.7h0M524.1 507.9h0M524.2 508.2h0M524.5 508.0h0M524.5 491.2h0M524.9 512.7h0M525.4 505.7h0M525.5 508.5h0M526.0 507.0h0M526.4 505.0h0M527.0 514.3h0M527.7 516.0h0M528.9 489.6h0M529.0 498.2h0M529.1 503.1h0M529.4 487.1h0M529.8 516.2h0M531.1 500.5h0M531.2 502.0h0M531.4 501.4h0M531.8 487.8h0M532.2 529.5h0M532.5 500.5h0M532.5 510.8h0M533.0 506.3h0M534.0 519.3h0M534.4 513.1h0M534.9 516.9h0M535.2 517.2h0M536.0 513.8h0M536.1 506.3h0M536.6 514.3h0M536.7 491.0h0M537.7 513.7h0M537.8 511.9h0M537.9 508.2h0M537.9 493.0h0M538.0 517.8h0M538.2 499.0h0M538.6 511.0h0M540.1 487.4h0M540.7 502.7h0M541.5 498.1h0M541.7 496.8h0M541.8 497.8h0M542.6 520.3h0M543.3 503.2h0M543.4 506.6h0M543.7 523.2h0M543.8 490.0h0M543.9 517.5h0M544.1 499.8h0M544.3 497.3h0M544.4 499.3h0M544.6 486.2h0M545.9 488.7h0M546.3 507.4h0M546.7 504.7h0M547.8 496.4h0M547.9 507.3h0M547.9 499.7h0M548.2 493.4h0M548.3 482.6h0M548.4 506.7h0M548.8 496.1h0M549.3 499.6h0M550.2 481.0h0M550.5 492.7h0M550.8 500.5h0M550.9 495.5h0M551.5 491.1h0M551.6 487.6h0M551.7 499.9h0M551.8 494.5h0M552.0 494.8h0M552.1 495.3h0M552.3 492.0h0M552.5 495.0h0M552.5 492.4h0M553.0 498.4h0M553.6 485.5h0M554.5 488.3h0M554.5 498.7h0M554.5 496.9h0M555.0 500.0h0M555.0 517.2h0M555.3 505.6h0M555.7 509.2h0M557.1 502.9h0M558.0 498.1h0M558.2 491.8h0M558.9 482.1h0M559.3 486.3h0M560.2 478.0h0M560.5 489.3h0M561.3 485.2h0M561.4 490.9h0M561.4 499.7h0M563.7 492.6h0M564.2 505.9h0M564.6 505.8h0M564.8 500.5h0M564.9 501.8h0M564.9 500.4h0M565.1 513.1h0M565.3 499.1h0M565.4 497.2h0M565.4 504.5h0M565.9 509.4h0M566.4 504.3h0M566.9 501.2h0M566.9 509.0h0M567.1 497.2h0M567.1 497.0h0M567.1 494.0h0M567.4 510.2h0M567.6 487.6h0M567.8 493.8h0M567.8 503.9h0M568.2 505.0h0M568.2 513.8h0M568.5 505.2h0M569.0 499.2h0M569.2 511.6h0M569.3 509.5h0M570.6 510.3h0M570.6 509.7h0M570.8 506.0h0M571.2 493.1h0M573.1 495.9h0M573.7 516.0h0M573.8 503.2h0M574.1 490.8h0M575.8 503.5h0M575.8 509.6h0M576.5 505.9h0M576.6 503.4h0M577.0 488.0h0M577.1 503.7h0M577.8 502.5h0M578.7 514.6h0M579.8 503.7h0M579.9 503.3h0M579.9 500.7h0M580.1 507.6h0M580.3 504.5h0M581.1 495.9h0M581.4 505.5h0M581.5 513.5h0M581.8 516.4h0M582.1 496.4h0M583.8 503.1h0M584.0 508.5h0M584.5 517.3h0M584.5 518.5h0M585.2 521.1h0M585.4 521.8h0M585.8 511.1h0M585.8 508.1h0M586.1 518.5h0M586.6 512.7h0M586.8 514.4h0M587.2 512.7h0M587.7 513.1h0M587.2 528.4h0M587.3 535.5h0M587.6 522.7h0M587.8 520.4h0M588.4 528.2h0M588.9 521.7h0M589.5 525.8h0M590.2 526.3h0M590.5 523.4h0M590.6 529.8h0M590.9 529.2h0M591.1 527.2h0M591.6 529.0h0M591.9 530.1h0M592.2 525.4h0M592.2 529.0h0M592.3 527.1h0M592.4 526.6h0M593.2 524.7h0M593.8 533.5h0M593.8 527.9h0M594.0 520.9h0M594.0 528.6h0M594.5 516.4h0M595.0 527.7h0M595.3 529.6h0M595.7 532.2h0M597.2 527.4h0M598.4 523.8h0M598.7 534.3h0M598.9 530.7h0M599.2 531.7h0M599.4 525.6h0M599.8 529.1h0M600.1 519.5h0M600.3 528.5h0M601.1 518.2h0M601.3 522.5h0M601.9 520.7h0M602.4 531.1h0M602.8 530.2h0M597.0 516.2h0M597.6 513.6h0M598.7 517.3h0M598.7 515.9h0M598.8 515.9h0M599.0 513.7h0M599.0 508.4h0M599.5 514.3h0M600.0 514.2h0M600.3 513.3h0M600.4 509.6h0M600.5 513.3h0M600.8 513.4h0M601.3 509.7h0M602.5 514.3h0M602.9 511.7h0M603.2 511.9h0M603.4 512.6h0M603.8 510.1h0M604.5 510.0h0M605.6 510.8h0M605.8 511.3h0M606.4 511.2h0M606.6 507.4h0M606.6 510.6h0M606.9 511.6h0M605.5 485.5h0M606.0 489.1h0M608.0 475.5h0M608.4 498.1h0M608.6 479.5h0M608.9 485.2h0M609.5 493.9h0M609.5 483.6h0M609.8 481.5h0M610.1 497.6h0M610.3 490.0h0M610.8 497.7h0M610.9 495.4h0M611.0 492.0h0M611.1 502.2h0M611.1 491.8h0M611.2 504.2h0M611.9 489.9h0M612.4 489.4h0M613.2 502.1h0M613.8 503.0h0M613.8 511.1h0M614.0 504.6h0M614.0 501.8h0M614.3 496.2h0M614.4 500.1h0M614.7 492.0h0M614.9 503.1h0M615.0 499.7h0M615.1 498.8h0M615.3 501.3h0M616.2 504.9h0M617.9 505.6h0M618.4 497.5h0M618.7 512.9h0M618.9 505.4h0M619.0 507.2h0M619.0 505.4h0M619.3 500.0h0M620.3 508.3h0M621.6 505.8h0M622.2 503.8h0M622.3 509.7h0M622.4 513.6h0M622.5 512.8h0M622.8 510.6h0M622.9 506.0h0M622.9 507.7h0M624.3 510.4h0M624.8 503.3h0M625.0 516.8h0M625.1 512.7h0M625.2 504.5h0M625.8 521.9h0M626.1 524.7h0M626.3 505.7h0M626.8 512.9h0M627.6 509.9h0M627.8 519.7h0M628.2 515.4h0M628.5 517.4h0M629.2 515.7h0M629.3 516.3h0M630.1 508.7h0M630.2 520.7h0M631.0 514.5h0M631.2 518.2h0M631.6 518.0h0M631.8 514.1h0M633.2 513.9h0M633.3 519.2h0M633.9 526.3h0M634.6 517.9h0M634.6 518.2h0M634.6 521.4h0M635.1 518.7h0M635.3 527.6h0M635.3 523.7h0M635.5 533.4h0M636.3 523.4h0M636.3 532.8h0M636.9 520.3h0M636.7 529.1h0M636.8 537.0h0M636.9 529.4h0M637.2 537.4h0M637.2 540.5h0M637.3 536.4h0M639.1 529.5h0M639.3 543.6h0M639.4 534.9h0M639.4 526.4h0M639.5 544.3h0M639.6 533.4h0M639.7 536.0h0M640.5 537.9h0M640.6 529.4h0M641.2 538.0h0M641.2 525.2h0M643.1 527.1h0M643.2 530.7h0M643.5 546.3h0M643.7 536.8h0M643.9 540.3h0M644.2 530.7h0M645.3 536.8h0M646.4 521.1h0M646.5 532.3h0M646.5 536.5h0M646.8 530.5h0M647.0 522.0h0M647.0 524.1h0M647.4 537.9h0M647.5 542.2h0M648.0 531.9h0M648.1 543.8h0M648.3 526.4h0M648.5 538.0h0M648.6 536.1h0M648.6 540.6h0M648.7 525.2h0M648.8 540.3h0M649.6 535.1h0M651.0 529.5h0M651.1 532.0h0M651.3 533.4h0M651.5 536.5h0M651.6 529.6h0M651.9 529.6h0M652.7 535.5h0M653.6 534.9h0M653.8 538.2h0M654.1 540.7h0M654.4 524.1h0M654.5 534.7h0M655.1 536.8h0M656.2 535.9h0M656.9 529.2h0M657.0 540.0h0M657.8 546.2h0M660.7 535.4h0M660.7 531.7h0M660.9 541.2h0M662.9 537.0h0M663.0 537.6h0M663.2 538.3h0M663.4 534.2h0M664.2 537.1h0M664.2 532.8h0M664.3 525.3h0M664.4 543.5h0M664.6 539.0h0M665.1 536.9h0M665.3 545.5h0M665.3 536.4h0M665.7 544.2h0M665.8 542.4h0M666.2 535.8h0M666.6 530.0h0M666.6 540.5h0M666.9 539.0h0M666.7 520.9h0M666.9 518.9h0M666.9 517.0h0M667.2 518.7h0M667.4 516.4h0M667.9 512.0h0M668.3 508.9h0M668.7 510.5h0M669.1 494.8h0M669.5 503.8h0M670.1 512.6h0M670.2 503.7h0M670.3 498.6h0M670.7 504.2h0M671.0 503.7h0M671.1 496.8h0M672.1 501.5h0M672.4 491.4h0M672.4 487.7h0M672.5 495.8h0M672.6 487.6h0M672.7 495.2h0M672.8 498.6h0M673.1 500.6h0M675.4 511.5h0M676.6 492.4h0M678.0 495.3h0M678.2 495.2h0M678.4 491.5h0M678.5 512.0h0M678.6 493.0h0M678.6 496.6h0M679.1 496.9h0M679.5 514.5h0M679.6 495.9h0M679.8 492.7h0M680.3 506.2h0M680.3 493.3h0M680.5 483.5h0M681.1 505.4h0M681.7 503.9h0M682.3 484.1h0M682.9 494.3h0M683.2 492.5h0M683.2 494.2h0M683.3 521.4h0M683.7 471.4h0M685.0 501.5h0M685.4 492.1h0M685.5 494.6h0M685.7 505.6h0M686.4 493.8h0M687.1 502.5h0M687.5 507.6h0M688.4 506.5h0M689.0 474.8h0M689.7 487.3h0M689.8 480.5h0M690.2 485.8h0M690.7 491.8h0M691.0 515.3h0M691.2 487.1h0M691.5 490.6h0M691.6 491.9h0M692.1 509.1h0M692.8 487.8h0M693.2 498.2h0M693.4 502.0h0M693.6 499.3h0M693.7 472.4h0M693.9 479.8h0M694.0 500.3h0M694.1 474.9h0M694.2 490.8h0M694.3 477.5h0M695.6 497.0h0M696.0 492.3h0M695.4 534.0h0M696.0 535.5h0M696.7 532.8h0M697.2 535.3h0M697.5 541.3h0M697.6 540.1h0M697.6 536.4h0M698.1 543.3h0M698.5 539.3h0M698.9 540.2h0M699.2 543.9h0M699.3 541.9h0M699.5 539.4h0M699.6 537.1h0M699.9 545.4h0M699.9 533.1h0M699.9 539.0h0M700.2 535.4h0M700.5 539.7h0M702.1 546.3h0M702.8 552.5h0M703.4 555.5h0M703.6 558.1h0M704.2 559.5h0M704.5 551.8h0M704.7 557.5h0M704.7 549.7h0M704.9 545.8h0M705.5 554.4h0M705.6 560.3h0M705.8 561.6h0M706.3 552.6h0M706.4 542.6h0M706.5 555.0h0M706.8 551.7h0M707.2 556.7h0M707.3 559.4h0M707.7 550.3h0M707.9 548.6h0M707.9 550.5h0M708.3 548.8h0M708.4 546.9h0M708.5 554.2h0M708.5 548.4h0M708.6 551.1h0M708.7 550.8h0M709.1 549.1h0M709.2 556.4h0M709.3 550.0h0M709.5 552.3h0M709.5 557.6h0M709.6 551.9h0M709.7 544.0h0M710.1 549.9h0M710.3 549.8h0M710.8 556.5h0M711.3 562.6h0M711.6 553.8h0M711.7 551.8h0M712.6 561.4h0M712.6 548.4h0M712.9 554.4h0M713.2 555.4h0M713.7 552.2h0M713.8 551.4h0M714.4 553.6h0M714.5 561.6h0M715.0 555.9h0M715.3 548.9h0M715.6 554.2h0M715.7 558.3h0M715.9 563.2h0M716.0 557.3h0M716.2 553.6h0M717.3 560.7h0M717.7 557.7h0M717.7 553.3h0M719.0 548.4h0M720.6 552.8h0M721.7 558.0h0M721.7 545.9h0M722.0 542.7h0M722.2 555.3h0M723.3 543.0h0M723.5 544.4h0M724.8 550.9h0M725.0 550.7h0M725.3 552.5h0M726.0 553.1h0M728.0 555.2h0M728.5 551.4h0M728.8 547.0h0M728.9 535.1h0M729.6 559.4h0M730.4 556.6h0M730.4 555.6h0M731.3 551.7h0M732.1 546.5h0M733.7 554.6h0M733.9 551.3h0M734.0 543.6h0M734.4 557.8h0M734.8 543.2h0M735.0 549.1h0M735.6 562.2h0M736.1 546.8h0M736.1 552.7h0M736.2 557.9h0M736.4 551.6h0M737.1 522.0h0M738.3 518.4h0M738.7 518.9h0M738.8 524.6h0M738.8 520.2h0M738.9 514.3h0M739.2 516.5h0M739.8 518.3h0M740.4 511.4h0M740.4 514.1h0M740.6 515.0h0M740.9 507.6h0M741.8 521.9h0M742.0 507.7h0M742.4 513.7h0M742.7 512.2h0M743.2 509.8h0M743.5 516.4h0M743.9 511.2h0M744.7 506.3h0M744.9 513.8h0M745.6 510.2h0M745.9 503.4h0M746.3 479.2h0M746.8 502.5h0M746.9 501.1h0M747.6 494.3h0M748.4 497.5h0M748.6 494.0h0M749.2 499.9h0M750.5 505.7h0M751.1 499.4h0M751.1 496.2h0M751.4 493.1h0M751.4 495.7h0M752.0 493.0h0M752.1 504.9h0M752.3 488.6h0M753.2 492.5h0M753.4 500.0h0M753.7 500.0h0M753.9 499.3h0M754.9 494.0h0M755.0 499.0h0M755.1 486.0h0M756.0 485.3h0M756.1 487.2h0M756.6 500.6h0M756.8 508.6h0M757.0 494.2h0M757.1 493.2h0M757.2 495.3h0M757.7 512.3h0M757.9 499.5h0M758.0 498.6h0M759.0 493.4h0M759.1 502.0h0M760.0 508.5h0M760.6 499.7h0M760.6 491.7h0M760.6 508.7h0M760.9 498.0h0M761.4 512.6h0M761.6 489.8h0M761.8 497.1h0M761.9 500.4h0M762.6 484.3h0M762.8 499.2h0M763.1 503.3h0M763.7 497.4h0M763.8 502.0h0M764.0 499.9h0M766.1 491.9h0M766.3 504.5h0M766.3 492.6h0M766.6 496.2h0M766.6 492.7h0M766.7 503.8h0M767.8 495.0h0M767.3 537.5h0M767.9 537.7h0M768.0 531.9h0M769.9 531.4h0M769.9 533.4h0M770.9 532.1h0M771.2 530.1h0M771.3 528.9h0M772.0 536.8h0M772.6 542.9h0M772.8 547.6h0M773.1 540.6h0M773.3 535.5h0M774.2 540.1h0M774.7 546.7h0M775.1 537.5h0M775.1 542.7h0M775.3 539.1h0M775.3 537.6h0M775.6 533.5h0M776.1 541.3h0M776.6 532.3h0M777.3 531.5h0M777.6 539.6h0M777.9 543.4h0M778.5 543.3h0M778.6 542.9h0M779.4 536.2h0M779.7 537.3h0M779.7 544.8h0M779.8 550.5h0M780.2 522.3h0M780.2 545.5h0M781.6 540.0h0M781.7 538.4h0M781.7 534.3h0M781.9 535.0h0M782.0 531.6h0M782.2 540.4h0M783.4 533.4h0M783.7 538.2h0M783.8 530.3h0M783.9 546.4h0M783.0 519.2h0M783.3 502.8h0M784.6 520.3h0M784.8 514.2h0M784.9 521.5h0M786.0 518.0h0M786.3 525.5h0M786.6 515.0h0M786.8 508.0h0M787.1 518.6h0M787.9 516.0h0M787.9 518.1h0M788.3 524.9h0M789.0 514.0h0M789.2 522.3h0M789.6 523.5h0M789.9 524.5h0M790.2 508.4h0M791.4 519.9h0M791.6 515.5h0M792.6 518.1h0M792.9 515.1h0M793.2 517.7h0M793.2 524.3h0M793.3 528.4h0M794.4 523.2h0M794.5 513.1h0M794.5 526.2h0M794.6 513.1h0M794.7 517.7h0M795.1 525.6h0M795.7 516.7h0M796.3 523.6h0M796.4 518.5h0M796.8 513.9h0M797.2 521.1h0M797.5 517.3h0M797.8 529.4h0M798.1 529.8h0M798.4 528.5h0M798.7 514.9h0M799.1 530.3h0M799.9 522.1h0M800.8 523.3h0M800.8 521.7h0M801.6 517.9h0M801.6 521.4h0M802.2 525.5h0M802.2 529.0h0M802.5 523.9h0M802.6 521.0h0M803.1 533.5h0M803.9 509.0h0M804.7 520.0h0M804.9 515.8h0M805.4 519.7h0M806.2 525.4h0M806.6 527.5h0M806.8 501.6h0M806.9 532.2h0M807.1 526.4h0M807.1 526.2h0M807.2 521.9h0M807.8 529.9h0M808.5 524.7h0M809.3 503.9h0M810.2 514.1h0M811.0 517.6h0M811.8 516.3h0M811.9 515.5h0M812.0 525.3h0M812.1 509.2h0M812.3 512.6h0M812.4 510.3h0M812.6 519.2h0M812.7 523.5h0M812.9 510.9h0M813.2 522.8h0M813.8 513.9h0M814.3 531.9h0M814.4 497.9h0M814.6 518.6h0M815.9 524.9h0M815.9 514.6h0M816.5 508.5h0M817.2 521.9h0M817.7 511.9h0M817.8 506.5h0M818.8 504.2h0M818.9 530.4h0M819.3 513.8h0M819.6 529.0h0M820.3 506.0h0M821.6 505.0h0M822.0 529.5h0M822.9 511.9h0M823.9 512.3h0M824.0 512.0h0M824.0 504.9h0M824.5 522.9h0M824.7 503.1h0M825.1 520.5h0M825.1 504.3h0M825.2 536.9h0M825.3 520.1h0M825.6 523.5h0M826.1 498.6h0M826.4 516.7h0M826.4 508.0h0M826.5 505.8h0M827.0 506.0h0M827.1 520.7h0M827.2 513.8h0M828.0 508.9h0M828.2 507.9h0M828.2 507.6h0M828.7 508.4h0M829.2 510.6h0M830.4 502.7h0M830.4 504.8h0M831.2 493.1h0M831.2 512.4h0M831.5 517.7h0M831.7 508.3h0M832.3 524.8h0M832.4 505.8h0M832.5 512.8h0M833.0 522.7h0M833.0 514.6h0M833.1 505.4h0M833.3 515.6h0M833.3 508.9h0M833.4 522.2h0M834.1 519.1h0M834.3 510.3h0M835.2 516.7h0M835.5 527.4h0M835.9 522.0h0M836.0 519.6h0M836.2 510.4h0M836.3 506.8h0M836.3 505.3h0M836.6 521.0h0M836.8 502.4h0M837.2 515.4h0M837.3 525.9h0M837.5 497.8h0M837.7 514.9h0M838.1 503.0h0M838.9 510.4h0M838.9 516.1h0M839.1 502.8h0M839.4 499.9h0M839.5 507.9h0M840.4 513.2h0M840.6 507.8h0M842.6 502.5h0M843.0 516.9h0M843.9 500.8h0M843.9 498.0h0M843.9 511.6h0M844.0 529.6h0M844.2 506.2h0M844.5 509.8h0M844.8 501.6h0M845.6 505.1h0M845.6 500.5h0M846.2 512.8h0M846.2 504.4h0M846.3 503.4h0M846.9 518.4h0M848.3 497.2h0M848.3 518.1h0M848.7 508.3h0M848.9 501.8h0M849.3 509.6h0M851.1 507.1h0M851.8 512.2h0M851.8 507.5h0M852.3 525.9h0M852.5 518.6h0M852.6 519.1h0M852.8 498.7h0M853.1 506.2h0M854.2 519.5h0M854.2 514.3h0M854.7 509.2h0M855.0 508.2h0M855.0 518.2h0M855.7 492.1h0M856.9 501.1h0M857.3 496.4h0M859.3 568.9h0M859.4 571.6h0M861.4 570.5h0M862.1 564.2h0M862.7 560.1h0M862.9 561.9h0M863.0 564.6h0M863.1 561.9h0M863.3 573.5h0M863.3 561.6h0M863.4 567.6h0M863.8 567.1h0M863.8 564.1h0M865.2 556.1h0M865.3 563.5h0M865.6 565.1h0M865.9 561.0h0M866.4 559.5h0M866.8 548.6h0M867.2 553.0h0M867.4 557.1h0M867.4 558.9h0M867.8 560.9h0M868.8 554.4h0M869.2 556.1h0M869.7 549.7h0M869.8 557.3h0M869.9 557.6h0M870.2 555.3h0M870.4 545.2h0M870.9 554.3h0M872.2 547.6h0M872.3 549.2h0M872.3 555.4h0M872.4 538.1h0M872.7 550.7h0M872.8 551.7h0M872.8 546.9h0M872.8 549.3h0M873.0 540.2h0M873.4 548.5h0M873.6 551.5h0M873.9 552.0h0M874.0 542.0h0M874.5 551.5h0M874.9 547.7h0M875.8 548.9h0M876.4 543.4h0M876.7 547.4h0M877.4 543.7h0M877.8 558.2h0M878.0 539.5h0M878.5 548.5h0M878.6 540.6h0M878.8 530.4h0M879.3 543.1h0M879.5 547.9h0M880.4 543.5h0M880.6 543.4h0M880.7 532.5h0M880.8 539.9h0M882.1 526.9h0M882.6 547.6h0M883.7 544.7h0M885.0 502.6h0M885.4 496.4h0M885.4 505.8h0M886.9 492.3h0M887.0 500.8h0M887.0 508.0h0M887.4 498.3h0M887.6 483.6h0M887.6 501.1h0M888.1 494.9h0M888.4 496.3h0M888.6 494.4h0M888.7 498.0h0M889.5 494.6h0M889.8 487.8h0M890.1 492.8h0M890.5 478.5h0M890.7 475.9h0M891.1 481.8h0M891.6 476.9h0M891.8 480.4h0M892.3 477.3h0M892.9 480.0h0M893.1 478.2h0M893.5 482.8h0M893.6 483.9h0M893.7 480.2h0M894.3 477.6h0M894.6 496.5h0M895.2 490.5h0M896.3 486.5h0M896.3 474.5h0M896.3 487.7h0M896.8 480.7h0M896.8 487.4h0M896.8 484.2h0M897.0 504.3h0M897.9 482.2h0M898.1 473.1h0M898.2 491.5h0M898.4 492.1h0M898.5 493.7h0M898.7 461.5h0M900.0 473.5h0M900.5 474.5h0M900.7 467.2h0M901.7 482.6h0M901.9 487.3h0M902.5 490.9h0M902.5 489.4h0M902.8 481.5h0M902.8 495.0h0M903.9 483.4h0M904.0 461.5h0M904.0 478.3h0M904.1 474.4h0M904.7 483.9h0M905.0 477.1h0M906.0 477.9h0M906.3 492.8h0M906.4 473.9h0M906.5 468.5h0M906.7 482.7h0M907.0 486.2h0M907.0 479.4h0M907.3 480.4h0M907.4 475.2h0M909.7 468.5h0M909.7 473.4h0M909.8 470.7h0M910.1 490.9h0M910.4 477.7h0M910.6 492.4h0M911.9 478.6h0M912.5 471.7h0M912.6 481.4h0M912.6 481.5h0M913.1 491.4h0M913.4 461.8h0M913.5 475.9h0M913.7 483.2h0M914.0 473.0h0M914.1 480.7h0M914.2 477.0h0M914.8 492.2h0M917.6 490.4h0M918.0 517.9h0M918.1 503.0h0M918.5 502.9h0M918.7 504.0h0M919.0 498.0h0M919.1 507.0h0M919.2 502.7h0M919.2 495.0h0M919.5 499.4h0M919.8 498.3h0M921.2 499.0h0M921.3 501.0h0M921.8 508.4h0M921.9 500.6h0M922.2 491.7h0M922.9 514.7h0M923.0 499.7h0M923.8 515.0h0M924.3 506.3h0M924.9 508.7h0M925.0 498.4h0M926.5 505.8h0M927.0 502.4h0M927.2 504.9h0M927.5 509.0h0M927.9 502.7h0M928.1 511.8h0M928.2 495.1h0M928.3 497.7h0M928.4 509.0h0M928.8 509.8h0M929.0 513.9h0M929.1 518.0h0M929.9 509.6h0M930.3 512.0h0M931.5 508.7h0M931.5 508.0h0M931.6 506.2h0M932.0 507.9h0M932.2 503.0h0M932.4 506.1h0M932.3 534.6h0M932.5 532.6h0M932.7 540.1h0M933.4 536.0h0M934.8 533.5h0M934.8 531.5h0M934.8 532.3h0M935.1 535.2h0M935.7 540.8h0M935.9 533.6h0M935.9 537.7h0M936.7 537.6h0M936.8 525.6h0M938.8 504.9h0M938.9 513.7h0M940.2 489.6h0M940.3 496.6h0M940.5 513.3h0M940.5 492.9h0M940.6 505.8h0M940.7 499.5h0M941.0 501.8h0M941.2 491.0h0M941.3 499.5h0M941.5 496.3h0M942.3 515.7h0M942.9 505.7h0M943.3 501.0h0M944.1 499.8h0M945.0 506.0h0M945.6 485.7h0M946.4 490.9h0M946.5 491.6h0M946.6 492.7h0M946.7 485.2h0M946.8 504.3h0M946.8 495.6h0M947.1 510.8h0M947.2 498.6h0M947.4 496.4h0M947.7 503.6h0M948.0 503.5h0M948.1 497.1h0M949.1 504.7h0M950.4 510.6h0M950.5 495.5h0M951.3 510.9h0M951.4 497.7h0M951.8 507.1h0M952.2 499.0h0M952.2 496.0h0M952.3 502.0h0M954.5 489.3h0M954.6 485.1h0M954.6 498.8h0M954.8 497.0h0M955.2 489.3h0M955.2 517.9h0M955.5 502.8h0M956.2 492.7h0M956.7 503.6h0M957.0 503.8h0M957.1 495.6h0M957.1 496.9h0M957.5 482.6h0M958.2 501.0h0M959.1 515.5h0M960.0 509.0h0M960.0 508.0h0M960.1 493.7h0M960.2 489.3h0M960.5 506.6h0M961.3 501.4h0M961.4 497.0h0M961.6 496.0h0M962.2 507.0h0M962.9 504.2h0M963.5 494.5h0M963.9 497.6h0M964.5 483.8h0M964.6 488.2h0M965.0 503.5h0M965.1 494.5h0M966.2 490.8h0M966.6 500.8h0M966.9 509.5h0M967.2 491.0h0M967.4 495.5h0M967.5 496.1h0M967.5 519.9h0M968.3 507.3h0M968.4 500.6h0M968.9 485.7h0M969.0 504.9h0M970.4 503.2h0M970.6 496.4h0M971.0 491.5h0M971.4 494.1h0M971.4 483.6h0M971.6 494.7h0M971.7 494.0h0M972.7 490.0h0M972.8 495.2h0M973.3 484.1h0M973.4 507.9h0M974.8 496.4h0M974.8 487.4h0M974.9 504.6h0M974.9 502.7h0M975.4 493.4h0M975.8 486.2h0M976.5 497.1h0M977.0 517.9h0M977.5 528.5h0M977.6 519.5h0M977.8 523.2h0M977.9 530.2h0M978.1 514.7h0M978.3 512.9h0M978.5 516.9h0M978.6 518.6h0M979.7 522.3h0M980.0 528.0h0M980.3 519.6h0M980.9 532.4h0M982.0 523.6h0M982.2 510.4h0M982.7 522.2h0M983.7 526.8h0M984.0 529.1h0M984.2 518.2h0M984.4 521.9h0M984.6 536.0h0M985.3 523.5h0M985.6 517.1h0M985.8 513.5h0M986.0 520.0h0M986.2 524.9h0M986.4 516.0h0M986.5 530.9h0M986.9 518.2h0M987.0 511.3h0M987.1 526.7h0M987.2 523.0h0M987.3 521.4h0M987.4 530.5h0M987.6 519.2h0M988.2 527.1h0M988.3 519.7h0M988.4 532.7h0M989.5 523.0h0M989.6 523.1h0M990.7 526.6h0M990.9 522.6h0M990.9 525.8h0M991.0 521.7h0M991.6 526.9h0M991.7 523.5h0M992.1 519.9h0M992.7 526.6h0M993.0 526.1h0M993.7 516.9h0M993.8 521.5h0M994.3 513.2h0M994.7 524.0h0M994.9 528.4h0M995.4 537.9h0M996.5 525.2h0M996.8 529.8h0M996.8 532.3h0M996.9 527.9h0M997.5 512.3h0M998.4 520.8h0M998.6 525.6h0M998.7 525.4h0M999.1 524.4h0M999.1 518.2h0M999.6 512.4h0M999.7 525.9h0M1000.8 530.7h0M1000.9 520.9h0M1001.2 527.1h0M1001.2 520.6h0M1001.6 522.9h0M1002.2 520.4h0M1003.4 528.8h0M1004.8 518.5h0M1005.0 524.9h0M1006.7 529.5h0M1006.9 524.0h0M1007.2 516.8h0M1007.9 526.5h0M1008.4 523.1h0M1008.5 516.5h0M1008.9 523.1h0M1009.5 522.5h0M1010.2 528.0h0M1010.6 521.4h0M1010.6 524.9h0M1011.4 513.3h0M1011.6 511.4h0M1012.0 509.8h0M1012.1 523.7h0M1012.2 513.9h0M1013.0 516.1h0M1013.4 523.0h0M1013.7 509.8h0M1014.7 511.1h0M1014.7 516.4h0M1015.4 507.5h0M1016.1 521.4h0M1016.5 503.8h0M1017.2 507.5h0M1017.4 508.1h0M1017.4 506.4h0M1018.2 509.0h0M1019.0 504.5h0M1019.1 486.7h0M1019.2 519.6h0M1019.6 504.7h0M1019.8 515.5h0M1019.9 498.6h0M1019.9 514.0h0M1020.2 496.5h0M1020.7 521.9h0M1022.0 506.7h0M1022.1 503.8h0M1022.7 481.1h0M1023.0 486.4h0M1023.3 502.8h0M1024.2 501.2h0M1024.2 501.3h0M1024.2 502.2h0M1024.6 515.8h0M1024.7 503.1h0M1024.8 503.0h0M1024.9 499.7h0M1025.0 496.7h0M1025.5 510.0h0M1025.5 502.6h0M1025.8 502.9h0M1026.0 509.1h0M1026.9 506.7h0M1026.9 513.5h0M1027.2 513.0h0M1027.7 493.9h0M1029.1 498.2h0M1030.5 507.5h0M1030.6 497.7h0M1030.7 516.6h0M1032.7 519.8h0M1033.4 493.4h0M1033.4 501.7h0M1034.0 498.3h0M1034.2 502.4h0M1034.3 496.5h0M1034.3 492.9h0M1035.3 487.3h0M1035.4 494.7h0M1035.7 499.5h0M1036.9 509.0h0M1037.5 504.6h0M1037.6 495.5h0M1038.1 493.2h0M1038.4 485.3h0M1038.5 505.6h0M1038.6 500.1h0M1038.6 504.9h0M1039.4 506.2h0M1039.6 504.3h0M1040.1 498.3h0M1040.3 496.5h0M1040.4 489.9h0M1040.6 493.2h0M1041.0 503.1h0M1041.4 520.0h0M1041.7 495.3h0M1042.1 501.2h0M1042.3 528.7h0M1042.7 499.9h0M1042.8 495.8h0M1043.3 499.0h0M1043.4 496.6h0M1043.6 480.9h0M1044.0 506.5h0M1044.6 482.2h0M1045.0 493.4h0M1045.1 494.5h0M1045.2 502.6h0M1045.2 496.3h0M1045.2 493.8h0M1045.7 490.2h0M1045.7 500.3h0M1047.2 494.9h0M1047.6 491.2h0M1048.2 485.4h0M1048.4 489.7h0M1048.5 499.1h0M1048.9 483.1h0M1049.0 498.9h0M1049.4 498.4h0M1049.5 508.2h0M1050.0 491.1h0M1050.2 488.3h0M1050.6 496.4h0M1052.0 493.7h0M1053.4 473.0h0M1054.1 508.3h0M1054.4 499.4h0M1054.8 498.5h0M1054.9 489.6h0M1054.3 530.1h0M1054.4 523.4h0M1054.7 527.7h0M1055.0 520.9h0M1055.1 525.3h0M1055.7 528.6h0M1056.3 530.5h0M1056.6 532.4h0M1056.8 534.3h0M1056.9 537.3h0M1057.5 530.0h0M1057.7 536.6h0M1058.3 540.9h0M1059.2 506.4h0M1059.2 508.9h0M1059.6 505.2h0M1059.7 510.0h0M1059.7 503.9h0M1060.3 502.5h0M1060.3 499.4h0M1060.8 496.6h0M1061.3 505.3h0M1061.3 503.1h0M1062.0 504.4h0M1062.4 503.5h0M1062.6 506.9h0M1062.9 505.3h0M1063.3 501.9h0M1064.1 509.2h0M1064.1 516.4h0M1064.5 500.5h0M1064.7 502.9h0M1064.9 508.2h0M1065.3 501.4h0M1066.2 510.8h0M1066.2 501.8h0M1066.3 499.0h0M1067.2 500.5h0M1067.8 511.2h0M1068.1 494.9h0M1068.1 506.3h0M1069.1 494.3h0M1069.5 509.7h0M1070.4 508.0h0M1070.8 509.5h0M1071.7 517.4h0M1072.8 488.7h0M1072.8 470.8h0M1073.0 474.5h0M1074.4 473.7h0M1074.9 478.9h0M1075.1 485.1h0M1075.1 481.3h0M1075.9 486.2h0M1076.5 478.7h0M1076.9 489.2h0M1077.2 488.5h0M1077.3 472.9h0M1077.7 476.9h0M1077.8 479.6h0M1078.0 488.4h0M1078.1 488.1h0M1078.9 494.4h0M1079.9 474.6h0M1080.5 485.2h0M1081.0 483.8h0M1081.3 482.3h0M1081.7 483.2h0M1082.2 471.6h0M1082.7 486.0h0M1082.8 481.7h0M1083.7 476.8h0M1084.0 493.0h0M1084.4 480.3h0M1084.7 486.0h0M1084.9 480.4h0M1085.5 475.3h0M1086.1 482.0h0M1086.6 486.8h0M1086.6 478.8h0M1086.9 488.0h0M1087.4 495.5h0M1087.8 492.4h0M1088.4 483.5h0M1089.8 480.8h0M1089.8 491.2h0M1089.8 477.2h0M1090.7 479.6h0M1090.9 496.5h0M1091.2 488.4h0M1091.4 489.1h0M1092.1 484.6h0M1092.1 503.7h0M1092.1 505.5h0M1092.6 485.7h0M1092.7 491.7h0M1092.9 485.0h0M1093.3 489.7h0M1093.6 495.1h0M1094.4 495.0h0M1094.4 485.7h0M1094.6 489.7h0M1094.8 504.7h0M1095.1 493.3h0M1095.2 496.3h0M1095.3 491.0h0M1095.7 487.0h0M1096.4 481.1h0M1096.5 481.8h0M1096.8 477.6h0M1096.1 493.1h0M1096.3 499.1h0M1096.9 496.6h0M1097.3 496.2h0M1097.9 498.4h0M1098.2 500.4h0M1098.2 494.9h0M1098.4 498.7h0M1100.0 503.6h0M1100.7 500.6h0M1101.0 505.2h0M1101.7 502.3h0M1101.9 506.3h0M1102.3 506.3h0M1102.8 508.4h0M1103.3 506.4h0M1103.5 503.2h0M1103.7 501.8h0M1103.9 519.5h0M1103.9 505.3h0M1103.1 535.3h0M1104.0 538.4h0M1104.5 523.9h0M1104.6 544.9h0M1104.8 541.5h0M1104.9 540.6h0M1105.0 526.8h0M1105.6 539.6h0M1105.6 533.7h0M1105.7 533.9h0M1105.7 536.9h0M1106.9 527.6h0M1107.0 544.1h0M1107.0 543.7h0M1107.2 542.5h0M1107.5 546.3h0M1107.5 527.4h0M1107.6 536.0h0M1107.7 535.7h0M1108.5 530.6h0M1108.6 543.2h0M1109.0 554.0h0M1109.2 532.1h0M1109.8 542.3h0M1109.9 539.3h0M1110.1 539.9h0M1110.5 539.8h0M1110.8 543.5h0M1111.0 535.6h0M1111.5 537.2h0M1112.3 550.0h0M1112.4 540.1h0M1112.4 540.0h0M1112.5 529.4h0M1113.8 543.5h0M1114.1 544.5h0M1114.5 542.6h0M1114.8 550.6h0M1116.1 529.6h0M1116.2 547.0h0M1116.5 531.9h0M1117.4 535.7h0M1117.4 530.0h0M1117.7 547.2h0M1117.7 541.4h0M1118.0 539.6h0M1118.1 542.5h0M1119.6 530.2h0M1121.1 539.8h0M1121.4 544.8h0M1121.4 540.0h0M1121.6 543.3h0M1122.6 534.5h0M1122.7 545.1h0M1123.3 542.5h0M1123.6 545.8h0M1123.7 554.0h0M1124.1 545.1h0M1124.7 541.3h0M1124.7 547.3h0M1125.3 538.4h0M1125.4 555.1h0M1125.5 545.2h0M1125.9 545.4h0M1126.7 548.7h0M1127.1 538.2h0M1127.2 545.7h0M1127.2 544.5h0M1128.3 559.3h0M1128.5 555.1h0M1129.3 557.8h0M1129.4 547.0h0M1129.6 547.8h0M1129.8 553.3h0M1130.7 543.2h0M1131.6 542.1h0M1131.6 557.2h0M1132.0 550.8h0M1132.2 550.8h0M1132.6 537.8h0M1133.4 545.9h0M1133.7 545.8h0M1133.8 544.4h0M1134.9 551.1h0M1135.4 489.5h0M1135.9 496.9h0M1136.3 499.8h0M1136.3 488.8h0M1136.8 477.9h0M1137.9 488.9h0M1137.9 487.5h0M1138.4 488.5h0M1139.1 488.3h0M1139.3 489.1h0M1139.4 474.6h0M1139.4 493.0h0M1139.7 492.7h0M1140.5 491.9h0M1140.8 488.8h0M1140.9 495.7h0M1141.7 478.6h0M1141.9 489.2h0M1142.2 493.9h0M1143.0 487.2h0M1143.2 489.8h0M1143.3 497.1h0M1143.5 489.2h0M1143.9 484.6h0M1144.3 487.4h0M1144.6 493.2h0M1145.6 484.1h0M1145.8 491.2h0M1146.0 488.5h0M1146.6 491.8h0M1146.8 496.5h0M1147.1 503.7h0M1147.2 484.9h0M1147.3 499.1h0M1147.4 495.6h0M1148.4 504.7h0M1148.9 500.1h0M1149.0 513.7h0M1150.4 519.0h0M1150.4 496.0h0M1152.0 505.3h0M1152.1 494.5h0M1152.3 494.4h0M1152.4 500.6h0M1152.5 507.0h0M1153.8 506.3h0M1154.4 501.2h0M1154.5 509.9h0M1154.7 494.8h0M1154.7 496.7h0M1154.8 502.2h0M1155.0 490.8h0M1155.2 512.0h0M1155.7 502.5h0M1155.9 501.3h0M1156.4 506.8h0M1157.5 495.7h0M1157.5 503.9h0M1157.8 493.6h0M1158.2 504.0h0M1159.0 506.5h0M1159.4 516.6h0M1160.0 506.5h0M1160.2 515.6h0M1160.4 506.6h0M1161.1 496.4h0M1161.2 512.3h0M1161.3 507.8h0M1161.5 503.6h0M1161.5 513.7h0M1162.1 500.9h0M1162.5 505.6h0M1162.8 513.0h0M1163.4 514.4h0M1163.9 504.7h0M1163.9 511.1h0M1164.1 509.8h0M1164.4 513.6h0M1164.5 507.9h0M1165.7 496.2h0M1166.2 508.2h0M1166.3 520.8h0M1166.7 505.4h0M1167.0 509.8h0M1167.3 516.9h0M1168.2 511.1h0M1168.4 504.5h0M1168.5 516.0h0M1168.6 515.9h0M1168.6 511.2h0M1169.2 517.0h0M1169.9 510.7h0M1170.1 522.5h0M1170.5 519.1h0M1170.6 512.9h0M1171.1 516.0h0M1171.3 520.0h0M1171.6 512.5h0M1171.9 517.1h0M1171.9 512.4h0M1172.2 510.8h0M1172.3 499.1h0M1172.5 504.0h0M1172.6 505.6h0M1172.9 513.4h0M1173.6 532.3h0M1173.7 506.0h0M1173.8 509.6h0M1174.8 503.4h0M1174.8 509.9h0M1175.0 511.1h0M1175.5 517.8h0M1175.9 502.5h0M1177.5 516.3h0M1177.5 514.4h0M1177.7 510.4h0M1178.0 503.4h0M1179.3 504.8h0M1179.4 511.0h0M1179.5 516.7h0M1180.6 511.7h0M1181.1 506.9h0M1181.2 514.6h0M1181.2 504.8h0M1181.5 518.3h0M1181.7 534.1h0M1182.1 508.2h0M1182.1 520.2h0M1182.2 505.3h0M1182.3 513.2h0M1182.7 516.5h0M1183.3 521.5h0M1184.0 512.8h0M1184.7 522.5h0M1184.8 503.2h0M1185.4 511.0h0M1185.4 512.5h0M1186.8 513.1h0M1187.3 511.5h0M1187.4 526.2h0M1187.5 509.7h0M1188.0 520.0h0M1188.1 515.7h0M1188.7 527.7h0M1189.0 510.9h0M1189.1 517.9h0M1189.5 516.8h0M1190.1 488.8h0M1190.6 515.6h0M1190.7 520.3h0M1191.1 524.0h0M1191.8 504.8h0M1191.9 511.2h0M1191.9 521.8h0M1192.4 504.4h0M1192.7 506.7h0M1193.6 517.1h0M1193.8 517.8h0M1194.1 522.6h0M1194.1 521.1h0M1194.2 514.3h0M1194.5 505.0h0M1194.6 507.9h0M1195.0 512.7h0M1195.4 515.5h0M1196.5 513.1h0M1196.9 518.7h0M1197.8 507.1h0M1198.2 509.5h0M1200.0 503.1h0M1200.5 527.6h0M1200.8 511.5h0M1202.0 519.9h0M1202.0 522.1h0M1202.4 515.4h0M1202.4 511.4h0M1203.0 509.0h0M1203.8 510.8h0M1204.0 499.9h0M1205.6 509.9h0M1206.3 515.0h0M1206.5 514.5h0M1206.7 503.3h0M1207.6 520.8h0M1208.5 513.3h0M1208.8 503.3h0M1209.2 505.6h0M1209.5 499.9h0M1209.8 511.2h0M1210.0 515.6h0M1210.9 510.6h0M1211.3 517.6h0M1211.3 515.3h0M1211.6 521.9h0M1212.1 518.4h0M1212.2 517.2h0M1212.3 512.5h0M1212.4 509.8h0M1212.5 511.8h0M1213.1 521.8h0M1213.2 515.5h0M1213.3 530.0h0M1214.0 525.7h0M1214.4 509.8h0M1214.6 523.3h0M1215.7 530.1h0M1215.9 516.2h0M1217.1 530.9h0M1217.3 516.5h0M1217.6 533.9h0M1217.6 526.2h0M1217.8 520.7h0M1218.1 510.1h0M1218.4 521.9h0M1218.5 517.2h0M1218.7 525.7h0M1220.4 517.5h0M1220.4 527.7h0M1220.4 520.6h0M1220.8 528.8h0M1220.9 530.6h0M1221.1 526.0h0M1221.7 528.8h0M1222.0 533.5h0M1222.5 518.6h0M1222.2 511.9h0M1222.3 509.4h0M1222.8 508.1h0M1223.2 502.3h0M1223.3 505.2h0M1223.6 504.3h0M1224.2 504.9h0M1224.5 512.6h0M1225.1 507.3h0M1225.1 514.0h0M1226.2 511.1h0M1226.3 510.4h0M1226.4 510.4h0M1226.7 506.5h0M1226.9 510.2h0M1227.3 515.0h0M1227.4 514.7h0M1227.9 513.4h0M1227.9 515.2h0M1228.4 514.1h0M1224.0 485.1h0M1224.5 478.9h0M1224.6 490.7h0M1224.6 488.2h0M1225.9 497.5h0M1226.0 490.9h0M1226.0 487.9h0M1226.1 479.7h0M1226.8 489.1h0M1227.2 492.2h0M1227.2 498.7h0M1228.1 491.2h0M1229.3 493.8h0M1229.3 492.6h0M1229.4 498.9h0M1229.7 496.0h0M1230.4 489.5h0M1230.5 480.4h0M1231.1 499.2h0M1231.2 489.9h0M1231.4 484.5h0M1231.6 480.7h0M1231.7 478.6h0M1231.8 491.0h0M1231.9 488.4h0M1232.2 491.3h0M1232.8 496.9h0M1233.3 485.9h0M1233.3 491.4h0M1233.4 486.4h0M1233.7 484.4h0M1234.9 476.3h0M1235.3 485.2h0M1236.2 496.7h0M1236.8 487.0h0M1237.1 492.1h0M1237.3 491.0h0M1237.4 502.6h0M1237.6 499.3h0M1237.8 486.5h0M1238.0 487.8h0M1238.5 497.5h0M1239.1 492.1h0M1239.8 491.4h0M1239.9 497.9h0M1240.0 494.3h0M1240.8 491.9h0M1241.3 509.5h0M1241.5 493.6h0M1242.5 483.2h0M1242.7 493.4h0M1242.8 493.0h0M1243.0 501.7h0M1243.9 493.6h0M1244.0 487.7h0M1244.1 493.8h0M1244.8 484.2h0M1244.9 489.5h0M1245.2 493.9h0M1245.6 486.6h0M1245.9 479.6h0M1246.9 485.6h0M1247.0 487.0h0M1247.1 495.4h0M1248.5 489.2h0M1249.5 491.8h0M1249.9 528.0h0M1249.9 530.8h0M1250.0 533.3h0M1250.6 534.8h0M1250.9 529.6h0M1251.4 532.1h0M1252.2 542.0h0M1252.4 542.2h0M1252.8 525.9h0M1252.9 543.2h0M1253.0 529.5h0M1253.3 537.3h0M1253.3 525.0h0M1253.6 530.7h0M1254.7 528.6h0M1254.8 536.5h0M1255.0 533.2h0M1257.0 535.1h0M1257.2 535.0h0M1257.3 533.9h0M1257.5 537.8h0M1257.8 533.7h0M1258.1 532.6h0M1258.7 529.9h0M1258.8 528.5h0M1259.8 530.8h0M1261.8 536.2h0M1262.0 539.8h0M1262.6 533.8h0M1262.6 545.2h0M1262.7 541.2h0M1263.0 534.8h0M1263.3 536.6h0M1263.6 534.7h0M1263.6 525.0h0M1264.4 539.4h0M1264.7 536.3h0M1264.8 526.3h0M1264.9 539.9h0M1265.0 532.3h0M1265.1 534.0h0M1265.2 526.1h0M1265.5 535.2h0M1265.6 537.7h0M1265.7 533.2h0M1265.8 535.4h0M1267.0 525.7h0M1267.3 538.7h0M1267.3 535.6h0M1267.9 535.9h0M1268.3 539.8h0M1268.7 541.8h0M1268.8 535.9h0M1268.9 541.2h0M1270.0 531.9h0M1270.3 529.8h0M1270.5 537.2h0M1270.6 539.7h0M1270.8 542.3h0M1271.6 529.9h0M1271.7 548.9h0M1271.7 535.2h0M1272.5 542.0h0M1272.6 540.9h0M1273.4 535.3h0M1274.2 544.0h0M1274.3 543.7h0M1275.0 548.7h0M1275.2 553.6h0M1275.3 554.9h0M1275.7 547.8h0M1276.6 546.5h0M1276.7 540.2h0M1277.0 533.3h0M1277.3 545.1h0M1277.3 539.0h0M1277.6 541.0h0M1278.2 539.9h0M1278.2 545.4h0M1279.0 540.6h0M1279.4 557.7h0M1280.1 548.6h0M1280.2 540.3h0M1280.9 545.8h0M1281.3 552.2h0M1281.9 536.6h0M1281.9 545.2h0M1281.9 540.6h0M1282.0 544.3h0M1283.0 541.2h0M1283.1 545.3h0M1283.3 547.1h0M1284.4 548.4h0M1284.5 535.6h0M1284.7 549.0h0M1285.3 545.0h0M1285.9 541.1h0M1286.4 544.8h0M1286.5 555.0h0M1286.8 544.3h0M1286.9 540.0h0M1287.0 549.7h0M1287.7 544.4h0M1288.0 550.0h0M1288.2 547.4h0M1289.1 554.4h0M1289.7 542.5h0M1290.8 544.2h0M1290.1 508.1h0M1292.5 503.6h0M1292.7 511.9h0M1293.2 496.2h0M1293.5 496.0h0M1293.6 503.4h0M1294.0 511.3h0M1294.3 493.5h0M1294.6 503.1h0M1295.7 498.6h0M1296.2 496.2h0M1296.5 506.1h0M1296.6 505.8h0M1296.8 504.4h0M1297.3 493.2h0M1297.5 498.5h0M1297.6 484.8h0M1297.8 502.8h0M1299.1 487.6h0M1299.4 495.8h0M1299.5 504.9h0M1299.6 496.1h0M1300.3 499.0h0M1300.7 492.3h0M1301.0 518.8h0M1301.4 487.7h0M1301.7 492.8h0M1302.2 496.3h0M1302.2 518.8h0M1302.2 492.9h0M1302.3 498.0h0M1302.5 504.1h0M1302.8 480.3h0M1303.0 504.8h0M1303.6 500.4h0M1303.9 509.8h0" stroke="#000" stroke-width="3.8" stroke-linecap="round" fill="none"/>
<path d="M206.5 522.5h0M339.8 521.7h0M341.2 521.3h0M295.3 576.4h0M296.4 577.4h0M294.3 582.1h0M864.4 574.4h0M863.4 576.4h0" stroke="#ffa500" stroke-width="3.8" stroke-linecap="round" fill="none"/>
<rect x="105.5" y="499.1" width="1255.5" height="48.6" fill="#ff0000" fill-opacity="0.115"/>
<rect x="162" y="540" width="308.5" height="18.7" fill="#ffa500" fill-opacity="0.13"/>
<rect x="470.5" y="494" width="832.5" height="41.6" fill="#ffa500" fill-opacity="0.13"/>
<line x1="160.6" y1="549.5" x2="471.6" y2="549.5" stroke="#ffa500" stroke-width="2.8"/>
<line x1="468.6" y1="514.4" x2="1304.6" y2="514.4" stroke="#ffa500" stroke-width="2.8"/>
<line x1="105.5" y1="523.1" x2="1361" y2="523.1" stroke="#ff0000" stroke-width="2.08"/>
<line x1="162.0" y1="666.1" x2="162.0" y2="380.5" stroke="#800080" stroke-width="2.08" stroke-dasharray="2.08 3.44"/>
<line x1="470.0" y1="666.1" x2="470.0" y2="380.5" stroke="#800080" stroke-width="2.08" stroke-dasharray="2.08 3.44"/>
<line x1="1303.0" y1="666.1" x2="1303.0" y2="380.5" stroke="#800080" stroke-width="2.08" stroke-dasharray="2.08 3.44"/>
<rect x="105.5" y="380.5" width="1380.0" height="286.0" fill="none" stroke="#000" stroke-width="1.1"/>
<line x1="162.5" y1="666.5" x2="162.5" y2="671.9" stroke="#000" stroke-width="1.1"/>
<text x="163.4" y="687.0" font-size="14" text-anchor="middle" textLength="8.4" lengthAdjust="spacingAndGlyphs">0</text>
<line x1="359.5" y1="666.5" x2="359.5" y2="671.9" stroke="#000" stroke-width="1.1"/>
<text x="358.6" y="687.0" font-size="14" text-anchor="middle" textLength="25.2" lengthAdjust="spacingAndGlyphs">500</text>
<line x1="556.5" y1="666.5" x2="556.5" y2="671.9" stroke="#000" stroke-width="1.1"/>
<text x="555.6" y="687.0" font-size="14" text-anchor="middle" textLength="33.6" lengthAdjust="spacingAndGlyphs">1000</text>
<line x1="753.5" y1="666.5" x2="753.5" y2="671.9" stroke="#000" stroke-width="1.1"/>
<text x="752.6" y="687.0" font-size="14" text-anchor="middle" textLength="33.6" lengthAdjust="spacingAndGlyphs">1500</text>
<line x1="949.5" y1="666.5" x2="949.5" y2="671.9" stroke="#000" stroke-width="1.1"/>
<text x="948.6" y="687.0" font-size="14" text-anchor="middle" textLength="33.6" lengthAdjust="spacingAndGlyphs">2000</text>
<line x1="1146.5" y1="666.5" x2="1146.5" y2="671.9" stroke="#000" stroke-width="1.1"/>
<text x="1145.6" y="687.0" font-size="14" text-anchor="middle" textLength="33.6" lengthAdjust="spacingAndGlyphs">2500</text>
<line x1="1343.5" y1="666.5" x2="1343.5" y2="671.9" stroke="#000" stroke-width="1.1"/>
<text x="1342.6" y="687.0" font-size="14" text-anchor="middle" textLength="33.6" lengthAdjust="spacingAndGlyphs">3000</text>
<line x1="100.5" y1="401.5" x2="105.5" y2="401.5" stroke="#000" stroke-width="1.1"/>
<text x="94.6" y="406.5" font-size="14" text-anchor="end" textLength="29.5" lengthAdjust="spacingAndGlyphs">10.1</text>
<line x1="100.5" y1="448.5" x2="105.5" y2="448.5" stroke="#000" stroke-width="1.1"/>
<text x="94.6" y="453.5" font-size="14" text-anchor="end" textLength="29.5" lengthAdjust="spacingAndGlyphs">10.0</text>
<line x1="100.5" y1="495.5" x2="105.5" y2="495.5" stroke="#000" stroke-width="1.1"/>
<text x="94.6" y="500.5" font-size="14" text-anchor="end" textLength="21.1" lengthAdjust="spacingAndGlyphs">9.9</text>
<line x1="100.5" y1="542.5" x2="105.5" y2="542.5" stroke="#000" stroke-width="1.1"/>
<text x="94.6" y="547.5" font-size="14" text-anchor="end" textLength="21.1" lengthAdjust="spacingAndGlyphs">9.8</text>
<line x1="100.5" y1="589.5" x2="105.5" y2="589.5" stroke="#000" stroke-width="1.1"/>
<text x="94.6" y="594.5" font-size="14" text-anchor="end" textLength="21.1" lengthAdjust="spacingAndGlyphs">9.7</text>
<line x1="100.5" y1="636.5" x2="105.5" y2="636.5" stroke="#000" stroke-width="1.1"/>
<text x="94.6" y="641.5" font-size="14" text-anchor="end" textLength="21.1" lengthAdjust="spacingAndGlyphs">9.6</text>
<text x="295.4" y="657.3" font-size="14" text-anchor="start" textLength="42.4" lengthAdjust="spacingAndGlyphs">44080</text>
<text x="865.4" y="637.3" font-size="14" text-anchor="start" textLength="42.4" lengthAdjust="spacingAndGlyphs">44052</text>
<text x="707.0" y="371.7" font-size="16.7" text-anchor="start" textLength="88.0" lengthAdjust="spacingAndGlyphs">Magnitude</text>
<text x="801.0" y="371.7" font-size="16.7" text-anchor="start" textLength="82.0" lengthAdjust="spacingAndGlyphs">Estimates</text>
<rect x="1365.3" y="387.7" width="113.3" height="47.3" rx="2.5" ry="2.5" fill="#fff" fill-opacity="0.8" stroke="#ccc" stroke-width="1.1"/>
<line x1="1369.3" y1="399.5" x2="1400" y2="399.5" stroke="#ffa500" stroke-width="2.8"/>
<line x1="1369.3" y1="422" x2="1399" y2="422" stroke="#ff0000" stroke-width="2.08"/>
<text x="1410.5" y="404.0" font-size="14" text-anchor="start" textLength="29.5" lengthAdjust="spacingAndGlyphs">mag</text>
<text x="1440.5" y="406.4" font-size="10" text-anchor="start" textLength="31.5" lengthAdjust="spacingAndGlyphs" font-style="italic">OBSID</text>
<text x="1409.5" y="426.8" font-size="14" text-anchor="start" textLength="29.5" lengthAdjust="spacingAndGlyphs">mag</text>
<rect x="1348.5" y="613.6" width="130.1" height="45.8" rx="2.5" ry="2.5" fill="#fff" fill-opacity="0.8" stroke="#ccc" stroke-width="1.1"/>
<path d="M1367.5 626.3h0" stroke="#ffa500" stroke-width="3.4" stroke-linecap="round" fill="none"/>
<path d="M1367.5 647.4h0" stroke="#000" stroke-width="3.4" stroke-linecap="round" fill="none"/>
<text x="1393.3" y="629.9" font-size="14" text-anchor="start" textLength="78.5" lengthAdjust="spacingAndGlyphs">Highlighted</text>
<text x="1393.3" y="651.0" font-size="14" text-anchor="start" textLength="18.5" lengthAdjust="spacingAndGlyphs">OK</text>
</g>
<g id="p3">
<path d="M163.0 763.5h0M164.2 763.5h0M165.3 763.5h0M166.5 763.5h0M167.7 763.5h0M168.9 763.5h0M170.0 763.5h0M171.2 763.5h0M172.4 763.5h0M173.6 763.5h0M174.7 763.5h0M175.9 763.5h0M177.1 763.5h0M178.3 763.5h0M179.4 763.5h0M180.6 763.5h0M471.5 763.5h0M472.7 763.5h0M473.8 763.5h0M475.0 763.5h0M476.1 763.5h0M477.3 763.5h0M478.4 763.5h0M479.6 763.5h0M480.7 763.5h0M481.9 763.5h0M483.0 763.5h0M484.2 763.5h0M485.3 763.5h0M486.5 763.5h0M487.6 763.5h0M488.8 763.5h0M489.9 763.5h0M491.1 763.5h0" stroke="#000" stroke-width="3.2" stroke-linecap="round" fill="none"/>
<path d="M357.5 840.5h0M402.2 840.5h0M637.0 840.5h0M953.3 840.5h0" stroke="#000" stroke-width="2.7" stroke-linecap="round" fill="none"/>
<path d="M357.5 878.5h0M402.2 878.5h0M637.0 878.5h0M761.5 878.5h0M953.3 878.5h0" stroke="#000" stroke-width="2.7" stroke-linecap="round" fill="none"/>
<path d="M178.0 1000.2h0M178.8 1001.6h0M181.2 1005.0h0M182.0 1004.3h0M182.8 1003.2h0M183.6 1001.6h0M184.4 1002.2h0M185.2 1000.4h0M186.0 999.2h0M186.8 998.3h0M187.6 998.3h0M188.4 998.7h0M189.2 1000.5h0M190.0 1000.9h0M190.8 1000.3h0M191.6 997.9h0M194.2 1004.1h0M195.0 1002.5h0M195.8 999.9h0M196.6 998.7h0M197.8 999.7h0M198.6 998.3h0M199.4 997.1h0M200.2 995.7h0M201.0 996.8h0M201.8 998.1h0M202.6 1000.9h0M203.4 999.9h0M204.2 1001.8h0M205.0 999.4h0M205.8 998.9h0M206.6 997.4h0M207.4 997.3h0M208.2 996.3h0M209.0 995.8h0M209.8 996.7h0M210.6 997.4h0M211.4 999.5h0M212.2 1000.9h0M213.0 1002.0h0M213.8 1003.0h0M214.6 1003.9h0M215.4 1003.0h0M216.2 1001.1h0M217.0 1001.1h0M219.8 997.1h0M220.6 998.2h0M221.4 998.4h0M225.4 1002.8h0M226.2 1003.4h0M227.0 1004.6h0M227.8 1003.8h0M228.6 1004.7h0M229.4 1003.5h0M230.2 1002.7h0M231.0 1002.5h0M231.8 1002.2h0M232.6 1000.7h0M233.4 1000.3h0M234.2 999.7h0M235.0 997.8h0M239.8 1000.5h0M240.6 1001.6h0M241.4 1001.2h0M243.1 1003.1h0M243.9 1001.4h0M244.7 999.3h0M245.5 998.0h0M246.3 996.8h0M247.1 996.9h0M247.9 995.8h0M248.7 996.3h0M249.5 996.0h0M250.3 997.5h0M251.1 996.2h0M251.9 998.1h0M252.7 999.3h0M253.5 1001.4h0M254.3 1004.8h0M255.1 1005.4h0M255.9 1007.2h0M258.1 1001.5h0M258.9 1000.9h0M259.7 998.8h0M260.5 998.0h0M261.3 996.0h0M263.6 1005.3h0M264.4 1004.3h0M265.2 1006.0h0M266.0 1005.3h0M266.8 1006.7h0M267.6 1004.5h0M268.4 1003.4h0M269.2 1005.0h0M270.0 1004.2h0M270.8 1004.5h0M271.6 1003.4h0M272.4 1002.1h0M273.2 1001.7h0M274.0 1001.0h0M274.8 1000.2h0M275.6 998.7h0M277.5 1000.8h0M278.3 1001.4h0M279.1 1001.1h0M279.9 999.9h0M280.7 998.4h0M281.5 998.4h0M282.3 996.8h0M283.1 995.7h0M283.9 996.2h0M284.7 996.9h0M285.5 997.6h0M286.3 997.0h0M287.1 996.3h0M287.9 996.4h0M288.7 996.7h0M289.5 997.5h0M290.3 997.2h0M291.1 997.9h0M291.9 999.1h0M292.7 1000.1h0M293.5 1000.8h0M294.3 1001.3h0M295.1 1003.7h0M295.9 1005.0h0M296.7 1004.8h0M297.5 1004.7h0M298.3 1003.5h0M299.1 1003.1h0M299.9 1000.8h0M300.7 1000.7h0M301.5 1000.2h0M302.3 999.5h0M303.1 1001.9h0M303.9 1001.8h0M304.7 1004.4h0M307.2 1005.9h0M308.0 1003.6h0M308.8 1001.8h0M309.6 1001.1h0M310.4 998.7h0M311.2 997.5h0M312.0 995.6h0M312.8 997.6h0M313.6 997.4h0M314.4 998.1h0M315.2 998.0h0M316.0 997.6h0M316.8 998.0h0M317.6 998.3h0M318.4 1000.8h0M319.2 1001.9h0M320.0 1001.7h0M320.8 1002.4h0M321.6 1006.0h0M322.4 1005.8h0M323.2 1006.8h0M325.5 999.8h0M326.3 1000.5h0M327.1 1000.6h0M327.9 1000.3h0M328.7 999.8h0M329.5 1001.5h0M330.3 1000.4h0M331.1 999.7h0M331.9 1000.6h0M332.7 1002.6h0M333.5 1003.5h0M334.3 1005.7h0M337.5 1002.0h0M338.3 1003.8h0M339.1 1003.6h0M339.9 1003.2h0M340.7 994.0h0M343.9 994.8h0M344.7 1002.6h0M345.5 1004.3h0M346.3 1004.9h0M347.1 1005.8h0M347.9 1006.1h0M348.7 1006.7h0M349.5 1007.6h0M350.3 1008.5h0M351.1 1008.4h0M351.9 1008.3h0M352.7 1008.4h0M353.5 1007.1h0M354.3 1005.1h0M355.1 1003.0h0M355.9 1002.0h0M356.7 1000.8h0M357.5 999.7h0M358.3 997.7h0M359.1 998.7h0M359.9 999.7h0M361.1 999.9h0M361.9 999.2h0M362.7 1000.1h0M363.5 1001.7h0M364.3 1001.0h0M365.1 999.5h0M365.9 1000.0h0M366.7 998.3h0M367.5 996.4h0M368.9 1005.9h0M369.7 1005.9h0M370.5 1002.9h0M371.3 1000.4h0M372.1 1000.6h0M372.9 997.4h0M373.7 995.7h0M374.5 995.9h0M375.3 996.9h0M376.1 999.6h0M376.9 1000.4h0M377.7 1002.5h0M378.5 1003.6h0M379.3 1005.1h0M380.1 1006.2h0M380.9 1006.9h0M383.9 998.2h0M384.7 998.7h0M385.5 999.5h0M386.3 999.7h0M387.1 1001.3h0M387.9 1001.2h0M388.7 1001.5h0M389.5 1002.7h0M390.3 1002.1h0M391.1 1000.1h0M391.9 999.3h0M394.6 998.7h0M395.4 1000.2h0M396.2 994.1h0M397.8 994.2h0M398.6 1007.8h0M399.4 1008.5h0M400.2 1006.6h0M401.0 1004.7h0M401.8 1002.5h0M402.6 1004.0h0M403.4 1004.2h0M404.2 1006.1h0M405.0 1005.7h0M405.8 1005.3h0M406.6 1006.8h0M407.4 1006.1h0M408.2 1004.3h0M409.0 1003.9h0M411.7 1005.8h0M412.5 1005.0h0M413.3 1002.4h0M414.1 1000.7h0M414.9 999.4h0M415.7 996.4h0M416.5 995.7h0M417.3 997.1h0M418.1 998.9h0M418.9 1001.0h0M419.7 1001.1h0M420.5 1002.9h0M421.3 1003.0h0M422.1 1004.4h0M422.9 1004.4h0M425.4 1005.3h0M426.2 1002.9h0M427.0 1003.3h0M427.8 1000.9h0M431.1 1001.7h0M431.9 1002.0h0M432.7 1001.0h0M433.5 999.5h0M434.3 998.1h0M435.1 998.2h0M435.9 996.8h0M436.7 996.3h0M437.5 995.3h0M438.3 996.8h0M439.1 996.2h0M439.9 996.5h0M440.7 996.8h0M441.5 997.6h0M442.3 996.5h0M443.1 996.9h0M443.9 997.2h0M444.7 998.2h0M445.5 997.2h0M446.3 997.5h0M447.1 997.6h0M447.9 996.9h0M448.8 998.4h0M449.6 998.5h0M450.4 1000.3h0M451.2 1001.6h0M452.0 1001.4h0M452.8 1002.8h0M453.6 1003.7h0M454.4 1005.0h0M455.2 1004.8h0M456.0 995.4h0M456.8 994.4h0M462.9 994.0h0M463.7 995.1h0M464.5 999.0h0M465.3 1000.1h0M466.1 999.2h0M469.3 1001.6h0M470.1 1000.6h0M480.0 1004.2h0M480.8 1003.3h0M481.6 1000.4h0M502.6 994.4h0M503.4 995.5h0M504.2 997.3h0M505.0 997.1h0M505.8 997.1h0M506.6 999.3h0M507.4 1000.5h0M508.2 1001.7h0M510.7 1002.9h0M511.5 1004.3h0M512.3 1003.6h0M513.1 1002.7h0M513.9 1003.8h0M515.2 997.2h0M516.0 1000.3h0M516.8 1001.8h0M517.6 1003.1h0M518.4 1005.2h0M519.2 1007.8h0M520.0 1007.4h0M520.8 1005.5h0M521.6 1003.8h0M523.4 1000.5h0M524.2 1000.2h0M525.0 1002.1h0M525.8 1001.5h0M526.6 1001.4h0M527.4 1003.1h0M528.2 1002.2h0M529.4 1005.8h0M530.2 1003.6h0M531.0 1002.9h0M531.8 1000.6h0M532.6 999.5h0M533.4 997.4h0M534.2 997.3h0M535.0 996.6h0M539.0 994.4h0M539.8 1005.5h0M540.6 1006.3h0M541.4 1007.6h0M542.2 1006.4h0M543.0 1005.0h0M543.8 1004.7h0M544.6 1002.8h0M545.4 1001.4h0M546.2 1002.1h0M548.3 1002.8h0M549.1 1000.3h0M549.9 1000.5h0M550.7 998.6h0M551.5 997.4h0M553.5 1005.0h0M554.3 1005.0h0M555.1 1004.4h0M555.9 1004.0h0M556.7 1003.4h0M557.5 1002.4h0M558.3 1001.0h0M559.1 1000.4h0M559.9 998.8h0M560.7 995.8h0M561.5 997.4h0M562.3 1000.5h0M563.1 1001.4h0M563.9 1002.7h0M564.7 1005.7h0M565.5 1006.7h0M566.3 1007.8h0M567.1 1007.6h0M567.9 1006.4h0M568.7 1004.5h0M569.5 1004.0h0M570.3 1003.1h0M571.1 1001.9h0M572.3 1005.3h0M573.1 1004.4h0M573.9 1004.4h0M574.7 1004.3h0M575.5 1002.0h0M576.3 1003.6h0M577.1 995.8h0M584.9 995.9h0M585.7 1002.5h0M586.5 1004.6h0M587.3 1005.4h0M588.1 1004.7h0M588.9 1005.0h0M589.7 1005.9h0M590.5 994.3h0M593.7 1006.6h0M594.5 1005.9h0M615.5 1000.6h0M616.3 1000.5h0M617.1 1000.6h0M617.9 1000.6h0M618.7 1000.7h0M619.5 1000.8h0M620.3 1000.6h0M621.1 1001.5h0M621.9 1002.1h0M622.7 1004.9h0M623.5 1005.2h0M624.3 1007.4h0M625.1 1005.6h0M625.9 1004.4h0M626.7 1003.3h0M627.5 1002.4h0M628.3 999.5h0M629.1 998.4h0M629.9 997.5h0M630.7 996.0h0M631.5 998.6h0M632.3 999.2h0M633.1 1000.5h0M633.9 1003.2h0M634.7 1004.3h0M635.5 1005.6h0M636.3 1007.5h0M637.1 1005.6h0M637.9 1005.0h0M638.7 1001.6h0M639.5 1000.0h0M640.3 998.5h0M641.1 997.5h0M641.9 996.5h0M642.7 996.3h0M643.5 998.2h0M644.3 999.9h0M645.1 1002.4h0M645.9 1003.6h0M646.7 1004.4h0M647.5 1006.6h0M648.3 1008.0h0M649.1 1006.1h0M649.9 1005.0h0M650.7 1004.2h0M651.5 1003.2h0M652.3 1002.9h0M653.1 1001.2h0M653.9 1000.3h0M654.7 999.2h0M655.7 1003.8h0M656.5 1001.7h0M657.3 999.9h0M658.1 998.4h0M658.9 996.7h0M659.7 995.8h0M662.3 1001.6h0M663.1 1001.8h0M663.9 1003.8h0M664.7 1003.6h0M665.5 1003.4h0M666.3 1004.0h0M667.1 1003.5h0M667.9 1004.4h0M668.7 1007.9h0M669.5 1007.8h0M670.3 1006.5h0M671.1 1005.3h0M671.9 1003.0h0M672.7 1001.2h0M674.8 1002.1h0M675.6 1002.2h0M676.4 1000.4h0M677.2 1000.3h0M678.0 999.8h0M679.2 1000.6h0M680.0 999.4h0M680.8 999.0h0M682.9 1001.4h0M683.7 1001.4h0M684.5 1003.5h0M685.3 1004.0h0M686.1 1004.7h0M686.9 1005.9h0M687.7 1004.7h0M688.5 1004.3h0M689.3 1002.6h0M690.1 1002.5h0M690.9 1000.6h0M691.7 999.4h0M692.5 999.3h0M693.3 1000.6h0M694.1 1002.4h0M694.9 1004.4h0M695.7 1005.0h0M697.2 999.8h0M698.0 1000.6h0M698.8 999.7h0M699.6 999.1h0M700.4 1000.7h0M701.2 1001.2h0M702.0 1001.9h0M702.8 1003.5h0M705.5 1006.4h0M706.3 1004.5h0M707.1 1004.1h0M707.9 1003.8h0M708.7 1002.7h0M709.5 1003.4h0M710.3 1004.9h0M711.1 1004.4h0M711.9 1004.1h0M712.7 1007.1h0M713.5 1007.5h0M714.3 1008.2h0M715.1 1007.1h0M715.9 1005.1h0M716.7 1002.1h0M717.5 1000.3h0M718.3 999.4h0M719.1 997.8h0M719.9 999.4h0M720.7 1000.8h0M721.5 1002.1h0M722.3 1003.0h0M723.1 1003.9h0M723.9 1003.8h0M724.7 1002.9h0M725.5 1002.9h0M727.2 1002.2h0M728.0 1001.7h0M728.8 1002.1h0M729.6 1001.8h0M730.4 1001.8h0M731.2 1001.8h0M732.0 1001.8h0M732.8 1001.8h0M733.6 1004.1h0M734.4 1005.1h0M735.2 1006.4h0M736.0 1007.3h0M736.8 1006.8h0M737.6 1005.6h0M738.4 1005.3h0M739.2 1004.9h0M740.0 1004.1h0M740.8 1003.1h0M741.6 1002.9h0M742.4 1001.7h0M743.2 1002.4h0M744.0 1000.2h0M744.8 999.4h0M745.6 1001.4h0M746.4 1001.6h0M747.2 1002.8h0M748.0 1001.8h0M748.8 1003.6h0M749.6 1004.1h0M752.9 1005.2h0M753.7 1003.5h0M754.5 1004.7h0M755.3 1003.3h0M756.1 1001.4h0M756.9 1001.4h0M757.7 1000.0h0M758.5 999.7h0M759.3 998.0h0M760.1 996.3h0M760.9 996.0h0M761.7 997.0h0M762.5 998.5h0M763.3 1000.3h0M764.1 1002.6h0M765.5 1005.6h0M766.3 1003.5h0M767.1 1002.1h0M767.9 1000.6h0M768.7 999.2h0M769.5 998.5h0M770.3 998.1h0M771.1 998.9h0M771.9 997.2h0M772.7 999.7h0M773.5 999.6h0M774.5 998.5h0M775.3 998.9h0M776.1 997.2h0M776.9 997.0h0M777.7 998.0h0M778.5 998.4h0M779.3 999.4h0M780.1 1000.2h0M780.9 999.7h0M781.7 1000.2h0M782.5 1000.5h0M783.3 1002.6h0M786.4 1003.6h0M787.2 1003.4h0M788.0 1003.7h0M788.8 1001.8h0M789.6 1002.5h0M790.4 1000.9h0M791.2 1000.5h0M792.0 1000.2h0M792.8 1000.4h0M793.6 999.1h0M794.4 997.0h0M795.2 995.9h0M796.0 997.7h0M796.8 998.0h0M799.6 1007.0h0M800.4 1004.7h0M801.2 1002.8h0M802.0 1001.9h0M802.8 1002.4h0M803.6 1001.4h0M804.4 1000.4h0M805.2 1001.1h0M806.0 1000.8h0M806.8 1001.2h0M807.6 1001.8h0M809.9 1001.6h0M810.7 1001.8h0M811.5 1001.4h0M812.3 1002.3h0M813.1 1004.0h0M813.9 1005.1h0M814.7 1006.0h0M815.5 1007.2h0M816.4 997.8h0M817.2 1000.2h0M818.0 1001.2h0M818.8 1003.0h0M819.6 1003.7h0M820.4 1004.4h0M821.2 1006.8h0M824.4 1004.2h0M825.2 1003.6h0M826.0 1004.2h0M826.8 1006.6h0M827.6 1006.7h0M828.4 1007.9h0M829.2 1006.0h0M830.0 1006.1h0M830.8 1005.1h0M831.6 1003.7h0M832.4 1003.2h0M833.2 1000.8h0M834.8 1001.6h0M835.6 1000.0h0M836.4 998.9h0M837.2 997.4h0M838.0 995.8h0M838.8 996.8h0M839.6 999.4h0M840.4 1001.5h0M841.2 1002.2h0M842.0 1004.1h0M842.8 1005.6h0M843.6 1006.9h0M844.4 1002.2h0M845.2 999.8h0M846.0 998.2h0M846.8 999.3h0M847.6 999.9h0M848.4 1001.3h0M851.5 1005.1h0M852.3 1002.1h0M853.1 1001.6h0M853.9 999.9h0M854.7 999.2h0M855.5 995.8h0M857.1 999.4h0M857.9 999.4h0M858.7 1000.6h0M859.5 1000.3h0M860.3 999.7h0M861.1 1000.2h0M861.9 998.2h0M862.7 998.4h0M863.5 998.5h0M864.3 998.9h0M865.1 1002.2h0M865.9 1002.2h0M868.6 1000.5h0M869.4 1001.5h0M870.2 1003.2h0M871.0 1003.7h0M871.8 1004.8h0M872.6 1005.8h0M873.4 1007.3h0M874.2 1008.0h0M875.0 1007.1h0M877.5 1000.7h0M878.3 999.5h0M879.1 999.6h0M879.9 1000.0h0M880.7 999.8h0M881.5 999.8h0M882.3 1000.8h0M883.1 1003.1h0M883.9 1003.4h0M884.7 1003.8h0M885.5 1005.6h0M886.3 1006.3h0M889.4 1007.1h0M890.2 1005.4h0M891.0 1004.0h0M892.0 1000.6h0M892.8 1002.4h0M894.8 1006.4h0M895.6 1005.8h0M896.4 1004.1h0M897.2 1003.8h0M898.0 1003.4h0M898.8 1002.2h0M899.6 1000.6h0M900.4 999.9h0M901.2 998.7h0M902.0 997.3h0M902.8 997.4h0M903.6 997.3h0M904.7 1003.6h0M905.5 1001.9h0M906.3 1001.4h0M907.1 1000.5h0M907.9 999.2h0M908.7 996.9h0M909.5 997.3h0M911.9 994.0h0M915.4 994.9h0M916.2 997.7h0M917.0 996.7h0M917.8 995.9h0M918.6 997.0h0M919.4 1000.0h0M920.2 1000.5h0M921.0 1003.4h0M921.8 1005.1h0M922.6 1006.6h0M923.4 1006.9h0M924.2 1007.8h0M925.0 1005.5h0M925.8 1005.1h0M926.6 1002.5h0M927.4 1001.4h0M928.2 1000.9h0M929.0 999.0h0M929.8 999.4h0M930.6 997.3h0M931.4 996.3h0M932.2 995.9h0M933.0 997.2h0M934.5 1001.6h0M935.3 1000.4h0M936.1 1001.4h0M936.9 1002.9h0M937.7 1002.0h0M938.5 1002.5h0M939.3 1001.3h0M940.1 1003.8h0M940.9 1001.0h0M941.7 1001.7h0M942.5 999.5h0M943.3 997.8h0M944.1 996.4h0M944.9 996.1h0M945.7 997.0h0M946.5 996.7h0M947.3 997.0h0M948.1 997.5h0M948.9 998.0h0M949.7 997.3h0M950.5 998.1h0M951.3 998.2h0M952.1 998.6h0M952.9 999.1h0M955.8 1000.5h0M956.6 1000.2h0M957.4 997.6h0M958.2 997.9h0M959.0 996.9h0M959.8 995.9h0M960.6 997.3h0M961.4 996.3h0M962.2 998.0h0M963.0 1000.2h0M963.8 999.5h0M964.6 998.6h0M965.4 998.9h0M966.2 999.8h0M967.0 997.6h0M967.8 998.9h0M968.6 1000.0h0M969.4 999.9h0M970.2 1001.0h0M971.0 1000.2h0M971.8 999.5h0M972.6 998.7h0M973.4 998.0h0M977.0 994.6h0M1012.5 994.9h0M1013.3 995.8h0M1014.1 996.6h0M1014.9 997.4h0M1015.7 998.3h0M1016.5 999.1h0M1017.3 999.9h0M1018.1 1000.8h0M1018.9 1001.6h0M1021.3 1005.3h0M1023.2 1000.7h0M1024.0 1002.6h0M1024.8 1002.5h0M1025.6 1002.5h0M1026.4 1003.4h0M1027.2 1004.8h0M1028.0 1005.1h0M1028.8 1004.8h0M1029.6 1006.6h0M1030.4 1004.7h0M1031.2 1004.9h0M1032.0 1003.9h0M1032.8 1004.1h0M1035.9 1002.1h0M1036.7 1001.2h0M1037.6 1001.0h0M1038.4 1000.3h0M1039.2 999.9h0M1040.0 999.3h0M1040.8 996.8h0M1041.6 996.2h0M1042.4 995.5h0M1043.2 997.6h0M1044.0 998.4h0M1044.8 1000.1h0M1045.6 1001.2h0M1046.4 1003.5h0M1047.2 1004.4h0M1048.0 1005.9h0M1049.9 1006.4h0M1050.7 1005.8h0M1051.5 1005.6h0M1052.3 1004.5h0M1053.1 1003.8h0M1053.9 1003.3h0M1056.9 1004.8h0M1057.7 1004.8h0M1058.5 1004.3h0M1059.3 1003.9h0M1060.1 1003.3h0M1060.9 1002.2h0M1061.7 1000.8h0M1062.5 999.2h0M1063.3 997.0h0M1064.1 996.1h0M1064.9 995.4h0M1065.7 997.6h0M1066.5 998.5h0M1067.3 1000.6h0M1068.1 998.9h0M1068.9 998.6h0M1069.7 998.1h0M1070.5 998.4h0M1071.3 998.9h0M1072.6 1006.1h0M1073.4 1005.9h0M1074.2 1005.4h0M1075.0 1004.9h0M1075.8 1003.8h0M1076.6 1002.1h0M1077.4 1001.9h0M1078.2 1000.4h0M1079.0 1000.8h0M1079.8 1001.5h0M1080.6 999.7h0M1081.4 998.7h0M1083.6 1000.5h0M1084.4 997.8h0M1085.2 997.5h0M1086.0 997.1h0M1086.8 997.0h0M1087.6 997.7h0M1088.4 998.1h0M1089.2 998.7h0M1091.5 994.0h0M1092.3 1004.8h0M1093.1 1002.6h0M1093.9 1000.0h0M1094.7 999.3h0M1095.5 994.0h0M1097.9 996.8h0M1098.7 998.0h0M1099.5 997.7h0M1100.3 999.6h0M1101.1 999.5h0M1101.9 998.5h0M1102.7 1000.2h0M1103.5 999.8h0M1104.3 999.5h0M1105.1 1000.1h0M1105.9 998.8h0M1106.7 998.6h0M1107.5 999.5h0M1108.3 996.8h0M1109.1 996.6h0M1109.9 997.2h0M1110.7 1000.0h0M1111.5 1001.4h0M1112.8 997.2h0M1113.6 999.7h0M1114.4 1000.1h0M1115.2 1000.2h0M1116.0 1001.3h0M1116.8 1001.8h0M1117.6 1002.4h0M1118.4 1002.7h0M1119.2 1002.8h0M1120.0 1003.6h0M1120.8 1003.6h0M1121.6 1004.0h0M1122.4 1004.2h0M1123.2 1003.6h0M1124.0 1004.5h0M1124.8 1004.7h0M1125.6 1003.3h0M1126.4 1003.9h0M1127.2 1002.7h0M1129.9 999.9h0M1130.7 1000.2h0M1131.5 1000.4h0M1132.3 1000.4h0M1133.1 999.7h0M1133.9 1001.1h0M1134.7 1000.8h0M1135.5 999.7h0M1136.3 999.4h0M1138.3 1006.1h0M1139.1 1005.4h0M1139.9 1003.7h0M1140.7 1001.7h0M1141.5 1000.2h0M1142.3 999.4h0M1143.1 997.6h0M1144.8 999.3h0M1145.6 1001.5h0M1146.4 1000.7h0M1147.2 999.8h0M1148.0 1000.0h0M1148.8 999.0h0M1149.6 997.6h0M1150.4 996.8h0M1151.2 996.5h0M1152.0 997.5h0M1152.8 999.1h0M1153.6 999.2h0M1154.4 1001.1h0M1155.2 1003.0h0M1158.0 1003.7h0M1158.8 1004.1h0M1159.6 1005.2h0M1160.4 1005.1h0M1161.2 1002.3h0M1162.0 1003.3h0M1165.0 999.1h0M1167.4 999.1h0M1168.2 998.0h0M1169.0 997.8h0M1169.8 1000.2h0M1170.6 1001.3h0M1171.4 1002.2h0M1172.2 1003.8h0M1173.0 1004.8h0M1173.8 1006.8h0M1174.6 1006.0h0M1175.4 1007.7h0M1176.2 1005.7h0M1177.0 1004.9h0M1177.8 1003.8h0M1178.6 1003.6h0M1179.4 1001.6h0M1181.6 1006.0h0M1182.4 1005.4h0M1183.2 1005.8h0M1184.0 1005.3h0M1184.8 1006.3h0M1185.6 995.0h0M1186.4 994.0h0M1188.0 994.4h0M1188.8 1002.5h0M1189.6 1002.2h0M1190.4 1000.8h0M1191.2 1001.4h0M1192.0 999.5h0M1192.8 1000.4h0M1195.0 1002.1h0M1195.8 1001.3h0M1196.6 1001.5h0M1197.4 1000.9h0M1198.2 1002.4h0M1199.0 1002.1h0M1199.8 1001.2h0M1200.6 1002.4h0M1201.4 1000.5h0M1202.2 998.7h0M1203.0 996.3h0M1204.7 1001.0h0M1205.5 999.6h0M1206.3 998.9h0M1207.1 997.3h0M1207.9 996.8h0M1208.7 996.6h0M1209.5 996.9h0M1210.3 998.3h0M1211.1 997.3h0M1211.9 997.3h0M1212.7 999.0h0M1213.5 998.5h0M1214.3 997.2h0M1215.1 997.9h0M1215.9 998.8h0M1216.7 998.4h0M1217.5 999.1h0M1218.3 1000.1h0M1219.1 999.8h0M1219.9 1001.5h0M1220.7 1003.7h0M1221.5 1005.0h0M1222.3 1006.1h0M1223.1 1007.4h0M1223.9 1005.9h0M1224.7 1007.3h0M1225.5 1007.5h0M1226.3 1006.8h0M1227.1 1007.6h0M1227.9 1006.8h0M1228.7 1007.0h0M1229.5 1006.5h0M1232.6 1004.0h0M1233.4 1005.2h0M1234.2 1007.7h0M1235.7 1004.0h0M1236.5 1005.4h0M1237.3 1004.2h0M1238.1 1004.8h0M1241.1 1007.0h0M1241.9 1005.3h0M1242.7 1004.3h0M1243.5 1004.0h0M1244.3 1002.4h0M1245.1 1001.3h0M1245.9 1001.3h0M1246.7 999.5h0M1247.5 999.2h0M1248.3 998.0h0M1249.1 996.7h0M1249.9 995.7h0M1250.7 997.2h0M1251.5 998.3h0M1252.3 998.9h0M1253.1 999.3h0M1253.9 998.7h0M1254.7 998.4h0M1255.5 998.0h0M1256.3 999.6h0M1257.1 1000.1h0M1258.3 1002.2h0M1259.1 1002.7h0M1259.9 1000.8h0M1260.7 1000.4h0M1261.5 1000.7h0M1272.5 1005.2h0M1273.3 1004.1h0M1274.1 1003.3h0M1274.9 1002.1h0M1276.1 1005.8h0M1276.9 1006.5h0M1277.7 1005.6h0M1278.5 1006.1h0M1279.3 1005.9h0M1280.1 1005.7h0M1280.9 1005.5h0M1281.7 1005.4h0M1282.5 1005.5h0M1285.4 1005.7h0M1286.2 1004.7h0M1288.1 1002.1h0M1288.9 1004.3h0M1289.7 1006.8h0M1290.5 1006.6h0M1291.8 1003.2h0M1292.6 1004.4h0M1293.4 1006.8h0M1294.2 1007.0h0M1295.0 1007.9h0M1295.8 1007.2h0M1296.6 1005.4h0M1297.4 1004.7h0M1298.2 1002.6h0M1299.0 1001.1h0M1299.8 999.0h0M1300.6 994.2h0M1303.0 999.9h0M992.5 994.7h0M993.5 994.4h0M994.6 994.4h0M995.8 994.7h0M997.0 994.7h0M998.0 994.9h0" stroke="#000" stroke-width="3.0" stroke-linecap="round" fill="none"/>
<path d="M222.2 993.6h0M223.0 992.5h0M223.8 992.1h0M224.6 993.2h0M235.8 993.6h0M236.6 992.5h0M237.4 991.6h0M238.2 992.7h0M239.0 993.7h0M341.5 993.0h0M342.3 992.8h0M343.1 993.8h0M397.0 993.1h0M457.6 993.4h0M458.4 992.3h0M459.2 991.3h0M460.0 990.3h0M497.0 992.3h0M497.8 991.3h0M498.6 990.3h0M499.4 990.3h0M500.2 991.3h0M501.0 992.3h0M501.8 993.4h0M535.8 993.4h0M536.6 992.4h0M537.4 992.3h0M538.2 993.4h0M579.3 992.9h0M580.1 991.9h0M580.9 990.9h0M581.7 991.7h0M582.5 992.8h0M591.3 993.2h0M592.1 992.5h0M592.9 993.5h0M597.7 990.9h0M598.5 991.4h0M599.3 992.0h0M600.1 992.3h0M600.9 991.5h0M601.7 991.7h0M602.5 992.0h0M603.3 992.0h0M605.1 991.4h0M605.9 991.9h0M606.7 992.3h0M607.5 992.4h0M608.3 992.6h0M609.1 992.4h0M609.9 992.7h0M610.7 992.7h0M611.5 992.9h0M613.9 992.8h0M614.7 993.0h0M910.3 993.8h0M911.1 992.9h0M913.8 993.4h0M914.6 993.9h0M974.2 992.3h0M975.0 991.3h0M977.8 993.9h0M978.6 993.4h0M979.4 992.7h0M980.2 992.1h0M981.0 991.5h0M981.8 990.8h0M982.6 990.2h0M983.4 989.6h0M984.2 989.1h0M985.0 988.6h0M985.8 988.0h0M986.6 987.6h0M987.4 987.1h0M988.2 986.7h0M989.0 986.4h0M989.8 986.0h0M990.6 985.8h0M991.4 985.5h0M992.2 985.3h0M993.0 985.2h0M997.9 985.4h0M998.7 985.6h0M999.5 985.8h0M1000.3 986.1h0M1001.1 986.4h0M1002.8 987.3h0M1003.6 987.7h0M1004.4 988.2h0M1005.2 988.7h0M1006.0 989.3h0M1006.8 989.8h0M1007.6 990.4h0M1008.4 991.0h0M1009.2 991.7h0M1010.1 992.4h0M1010.9 993.0h0M1011.7 993.7h0M1019.7 993.3h0M1020.5 993.5h0M1096.3 993.0h0M1097.1 993.8h0M1165.8 993.8h0M1166.6 993.4h0M1187.2 993.3h0M1264.2 992.8h0M1265.0 991.3h0M1265.8 992.3h0M1266.6 992.5h0M1267.5 992.8h0M1268.3 992.3h0M1269.1 992.6h0M1269.9 991.8h0M1271.7 992.2h0M1301.4 993.2h0M1302.2 993.6h0" stroke="#ff0000" stroke-width="3.1" stroke-linecap="round" fill="none"/>
<path d="M358.0 990.3h0M761.5 978.8h0M857.4 991.8h0M803.4 993.1h0M1071.0 989.0h0M1072.2 989.7h0M1125.4 993.4h0M1135.6 993.4h0M687.0 993.4h0M724.5 992.9h0" stroke="#ff0000" stroke-width="3.0" stroke-linecap="round" fill="none"/>
<path d="M163.0 957.6h0M164.2 957.6h0M165.4 957.6h0M166.6 957.6h0M167.7 957.6h0M168.9 957.6h0M170.1 957.6h0M171.3 957.6h0M172.5 957.6h0M173.7 957.6h0M174.9 957.6h0M176.1 957.6h0M177.2 957.6h0M178.4 957.6h0M179.6 957.6h0M180.8 957.6h0M471.1 957.6h0M472.3 957.6h0M473.4 957.6h0M474.6 957.6h0M475.8 957.6h0M476.9 957.6h0M478.1 957.6h0M479.3 957.6h0M480.4 957.6h0M481.6 957.6h0M482.7 957.6h0M483.9 957.6h0M485.1 957.6h0M486.2 957.6h0M487.4 957.6h0M488.6 957.6h0M489.7 957.6h0M490.9 957.6h0" stroke="#ff0000" stroke-width="4.6" stroke-linecap="round" fill="none"/>
<path d="M357.5 955.6l2 3.4h-4z" fill="#ff0000"/>
<path d="M402.2 955.6l2 3.4h-4z" fill="#ff0000"/>
<path d="M637.0 955.6l2 3.4h-4z" fill="#ff0000"/>
<path d="M953.3 955.6l2 3.4h-4z" fill="#ff0000"/>
<line x1="105.5" y1="763.5" x2="1485.5" y2="763.5" stroke="#b0b0b0" stroke-width="1.1" stroke-dasharray="1.11 1.83" stroke-dashoffset="-0.6"/>
<line x1="105.5" y1="802.5" x2="1485.5" y2="802.5" stroke="#b0b0b0" stroke-width="1.1" stroke-dasharray="1.11 1.83" stroke-dashoffset="-0.6"/>
<line x1="105.5" y1="840.5" x2="1485.5" y2="840.5" stroke="#b0b0b0" stroke-width="1.1" stroke-dasharray="1.11 1.83" stroke-dashoffset="-0.6"/>
<line x1="105.5" y1="878.5" x2="1485.5" y2="878.5" stroke="#b0b0b0" stroke-width="1.1" stroke-dasharray="1.11 1.83" stroke-dashoffset="-0.6"/>
<line x1="105.5" y1="916.5" x2="1485.5" y2="916.5" stroke="#b0b0b0" stroke-width="1.1" stroke-dasharray="1.11 1.83" stroke-dashoffset="-0.6"/>
<line x1="105.5" y1="957.5" x2="1485.5" y2="957.5" stroke="#b0b0b0" stroke-width="1.1" stroke-dasharray="1.11 1.83" stroke-dashoffset="-0.6"/>
<line x1="105.5" y1="983.5" x2="1485.5" y2="983.5" stroke="#b0b0b0" stroke-width="1.1" stroke-dasharray="1.11 1.83" stroke-dashoffset="-0.6"/>
<line x1="105.5" y1="1009.5" x2="1485.5" y2="1009.5" stroke="#b0b0b0" stroke-width="1.1" stroke-dasharray="1.11 1.83" stroke-dashoffset="-0.6"/>
<line x1="162.0" y1="954.1" x2="162.0" y2="725.5" stroke="#800080" stroke-width="2.08" stroke-dasharray="2.08 3.44"/>
<line x1="470.0" y1="954.1" x2="470.0" y2="725.5" stroke="#800080" stroke-width="2.08" stroke-dasharray="2.08 3.44"/>
<line x1="1303.0" y1="954.1" x2="1303.0" y2="725.5" stroke="#800080" stroke-width="2.08" stroke-dasharray="2.08 3.44"/>
<line x1="162.0" y1="1011.1" x2="162.0" y2="954.5" stroke="#800080" stroke-width="2.08" stroke-dasharray="2.08 3.44"/>
<line x1="470.0" y1="1011.1" x2="470.0" y2="954.5" stroke="#800080" stroke-width="2.08" stroke-dasharray="2.08 3.44"/>
<line x1="1303.0" y1="1011.1" x2="1303.0" y2="954.5" stroke="#800080" stroke-width="2.08" stroke-dasharray="2.08 3.44"/>
<line x1="105.5" y1="954.5" x2="1485.5" y2="954.5" stroke="#000" stroke-width="1.1"/>
<rect x="105.5" y="725.5" width="1380.0" height="286.0" fill="none" stroke="#000" stroke-width="1.1"/>
<line x1="162.5" y1="1011.5" x2="162.5" y2="1016.9" stroke="#000" stroke-width="1.1"/>
<text x="163.4" y="1032.0" font-size="14" text-anchor="middle" textLength="8.4" lengthAdjust="spacingAndGlyphs">0</text>
<line x1="359.5" y1="1011.5" x2="359.5" y2="1016.9" stroke="#000" stroke-width="1.1"/>
<text x="358.6" y="1032.0" font-size="14" text-anchor="middle" textLength="25.2" lengthAdjust="spacingAndGlyphs">500</text>
<line x1="556.5" y1="1011.5" x2="556.5" y2="1016.9" stroke="#000" stroke-width="1.1"/>
<text x="555.6" y="1032.0" font-size="14" text-anchor="middle" textLength="33.6" lengthAdjust="spacingAndGlyphs">1000</text>
<line x1="753.5" y1="1011.5" x2="753.5" y2="1016.9" stroke="#000" stroke-width="1.1"/>
<text x="752.6" y="1032.0" font-size="14" text-anchor="middle" textLength="33.6" lengthAdjust="spacingAndGlyphs">1500</text>
<line x1="949.5" y1="1011.5" x2="949.5" y2="1016.9" stroke="#000" stroke-width="1.1"/>
<text x="948.6" y="1032.0" font-size="14" text-anchor="middle" textLength="33.6" lengthAdjust="spacingAndGlyphs">2000</text>
<line x1="1146.5" y1="1011.5" x2="1146.5" y2="1016.9" stroke="#000" stroke-width="1.1"/>
<text x="1145.6" y="1032.0" font-size="14" text-anchor="middle" textLength="33.6" lengthAdjust="spacingAndGlyphs">2500</text>
<line x1="1343.5" y1="1011.5" x2="1343.5" y2="1016.9" stroke="#000" stroke-width="1.1"/>
<text x="1342.6" y="1032.0" font-size="14" text-anchor="middle" textLength="33.6" lengthAdjust="spacingAndGlyphs">3000</text>
<line x1="100.5" y1="763.5" x2="105.5" y2="763.5" stroke="#000" stroke-width="1.1"/>
<text x="95.0" y="768.2" font-size="14" text-anchor="end" textLength="79.0" lengthAdjust="spacingAndGlyphs">not Kalman</text>
<line x1="100.5" y1="802.5" x2="105.5" y2="802.5" stroke="#000" stroke-width="1.1"/>
<text x="95.0" y="807.2" font-size="14" text-anchor="end" textLength="62.3" lengthAdjust="spacingAndGlyphs">not track</text>
<line x1="100.5" y1="840.5" x2="105.5" y2="840.5" stroke="#000" stroke-width="1.1"/>
<text x="95.0" y="845.2" font-size="14" text-anchor="end" textLength="57.0" lengthAdjust="spacingAndGlyphs">Ion. rad.</text>
<line x1="100.5" y1="878.5" x2="105.5" y2="878.5" stroke="#000" stroke-width="1.1"/>
<text x="95.0" y="883.2" font-size="14" text-anchor="end" textLength="43.3" lengthAdjust="spacingAndGlyphs">dr &gt; 5</text>
<line x1="100.5" y1="916.5" x2="105.5" y2="916.5" stroke="#000" stroke-width="1.1"/>
<text x="95.0" y="921.2" font-size="14" text-anchor="end" textLength="80.5" lengthAdjust="spacingAndGlyphs">OBS not OK</text>
<line x1="100.5" y1="957.5" x2="105.5" y2="957.5" stroke="#000" stroke-width="1.1"/>
<text x="95.0" y="962.5" font-size="14" text-anchor="end" textLength="16.8" lengthAdjust="spacingAndGlyphs">10</text>
<line x1="100.5" y1="983.5" x2="105.5" y2="983.5" stroke="#000" stroke-width="1.1"/>
<text x="95.0" y="988.5" font-size="14" text-anchor="end" textLength="8.4" lengthAdjust="spacingAndGlyphs">5</text>
<line x1="100.5" y1="1009.5" x2="105.5" y2="1009.5" stroke="#000" stroke-width="1.1"/>
<text x="95.0" y="1014.5" font-size="14" text-anchor="end" textLength="8.4" lengthAdjust="spacingAndGlyphs">0</text>
<line x1="102.5" y1="970.5" x2="105.5" y2="970.5" stroke="#000" stroke-width="0.9"/>
<line x1="102.5" y1="996.5" x2="105.5" y2="996.5" stroke="#000" stroke-width="0.9"/>
<text transform="translate(69.3 983.4) rotate(-90)" font-size="14" text-anchor="middle" textLength="14.5" lengthAdjust="spacingAndGlyphs">dr</text>
</g>
</svg>
</body></html>
